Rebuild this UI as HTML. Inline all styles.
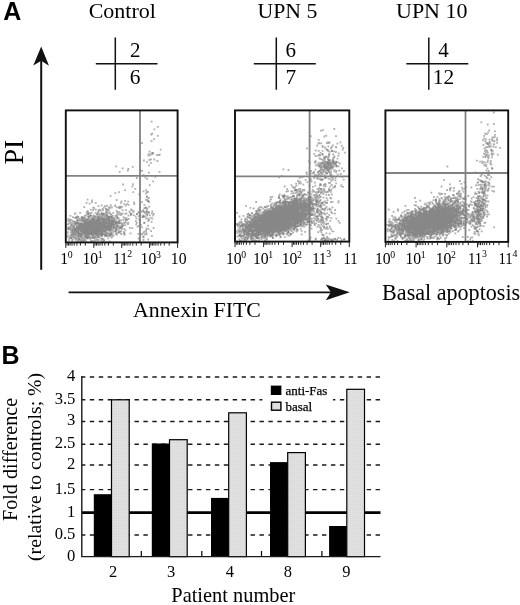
<!DOCTYPE html>
<html lang="en"><head><meta charset="utf-8"><title>Figure</title>
<style>
html,body{margin:0;padding:0;background:#fff;}
body{width:520px;height:605px;overflow:hidden;}
svg{display:block;filter:grayscale(1);}
text{font-family:"Liberation Serif","DejaVu Serif",serif;fill:#000;}
.sans{font-family:"Liberation Sans","DejaVu Sans",sans-serif;font-weight:bold;}
</style></head><body>
<svg width="520" height="605" viewBox="0 0 520 605">
<rect width="520" height="605" fill="#fff"/>
<text class="sans" x="3.3" y="19.8" font-size="25">A</text>
<text x="88.7" y="18.1" font-size="22">Control</text>
<text x="257.5" y="18.3" font-size="21.8">UPN 5</text>
<text x="396" y="18.3" font-size="22">UPN 10</text>
<path d="M115.3 37.5V89.8M95.8 63.8H157.5" stroke="#111" stroke-width="1.5" fill="none"/>
<text x="135.2" y="57.2" font-size="21" text-anchor="middle">2</text>
<text x="135.2" y="84.2" font-size="21.4" text-anchor="middle">6</text>
<path d="M276.3 37.5V89.8M253.8 63.8H315.8" stroke="#111" stroke-width="1.5" fill="none"/>
<text x="290.8" y="57.2" font-size="21" text-anchor="middle">6</text>
<text x="290.8" y="84.2" font-size="21.4" text-anchor="middle">7</text>
<path d="M428.8 37.5V89.8M406.3 63.8H468.3" stroke="#111" stroke-width="1.5" fill="none"/>
<text x="443.5" y="57.2" font-size="21" text-anchor="middle">4</text>
<text x="443.5" y="84.2" font-size="21.4" text-anchor="middle">12</text>
<text transform="translate(22.7 164.6) rotate(-90)" font-size="28">PI</text>
<path d="M41.2 269.8V58" stroke="#111" stroke-width="2" fill="none"/>
<path d="M41.2 46.4L49 65.7L41.2 60.7L33.3 65.5Z" fill="#111"/>
<path d="M68.6 292.3H335" stroke="#111" stroke-width="1.8" fill="none"/>
<path d="M349.8 292.3L325.8 284.5L330.9 292.3L325.8 300.2Z" fill="#111"/>
<text x="133" y="317.2" font-size="21.8">Annexin FITC</text>
<text x="382.1" y="300.4" font-size="22.1">Basal apoptosis</text>
<defs><filter id="bl" x="-5%" y="-5%" width="110%" height="110%"><feGaussianBlur stdDeviation="0.65"/></filter></defs>
<g filter="url(#bl)">
<path d="M108.3 227.4h1.8M107.1 226.5h1.8M69 236.3h1.8M78.8 226.5h1.8M96.8 229h1.8M84.2 239.3h1.8M82.4 224.2h1.8M87 227.4h1.8M101.3 227.4h1.8M84.7 222.5h1.8M89.7 222.5h1.8M99.1 225.8h1.8M102.5 231.6h1.8M113 226.3h1.8M92.4 219.1h1.8M100.2 222.2h1.8M77.6 226.2h1.8M108.5 211.9h1.8M71.4 232.1h1.8M96.4 222h1.8M95.9 229.4h1.8M115.4 227.5h1.8M70.8 238.7h1.8M90.4 234h1.8M97.3 230.5h1.8M94.8 234h1.8M82.1 226.3h1.8M80.3 235.1h1.8M112.6 221.3h1.8M72.1 229.6h1.8M108.8 216.7h1.8M81.3 233h1.8M109 230h1.8M97.1 227.4h1.8M94.7 230.5h1.8M100.2 226h1.8M103.5 229h1.8M121.1 224.7h1.8M115.8 207.4h1.8M76.1 231.3h1.8M84 227.9h1.8M105.3 217.9h1.8M87.7 231.9h1.8M105 208.4h1.8M100.3 216.6h1.8M95.7 234.2h1.8M90 228.8h1.8M130.2 214h1.8M104.8 223.6h1.8M94.6 231.3h1.8M95.8 230.7h1.8M68.7 221.5h1.8M110.9 229h1.8M112.2 218.2h1.8M90.9 220.3h1.8M80.8 238.9h1.8M106 224h1.8M112.5 217.7h1.8M109.7 233.8h1.8M112.6 222.9h1.8M82.3 235.2h1.8M112.1 222.5h1.8M92.7 232.4h1.8M114.9 233.8h1.8M83.2 234.2h1.8M100.6 232.2h1.8M87.9 220h1.8M85.1 235.1h1.8M67.8 227.4h1.8M93.2 219.7h1.8M69 226.9h1.8M104.7 221.7h1.8M78.3 224.6h1.8M80.9 216.9h1.8M103.9 230.1h1.8M101.9 227.8h1.8M111.7 228.3h1.8M87.3 225.1h1.8M101.1 241.1h1.8M78.9 228.8h1.8M97 231.7h1.8M104.9 225.9h1.8M131.3 228.2h1.8M116.5 226.1h1.8M91.5 230.7h1.8M71.3 226.4h1.8M96.3 227.8h1.8M85.3 222.2h1.8M123.4 228.8h1.8M91.7 230.6h1.8M98.9 228.6h1.8M101.3 227.1h1.8M88.1 232.9h1.8M83 228.7h1.8M92.2 228.4h1.8M88.9 219.9h1.8M98 225.2h1.8M97.5 220.4h1.8M79.4 233.9h1.8M78.6 239.3h1.8M85.2 219.8h1.8M81.6 232.2h1.8M105.6 218.3h1.8M90.6 232.1h1.8M109.5 223.2h1.8M87.9 233.4h1.8M98.2 233.4h1.8M103.2 225.7h1.8M76.3 225.8h1.8M90.7 218.3h1.8M83.8 216h1.8M100.1 225.7h1.8M87.3 219.2h1.8M106.8 219.4h1.8M104.1 231.3h1.8M92.7 228.8h1.8M114.6 231h1.8M72.7 227.2h1.8M75.8 223.1h1.8M97.5 216.5h1.8M88.8 225.8h1.8M90.4 222.8h1.8M86.9 211h1.8M78 229.8h1.8M88.1 225.9h1.8M99.2 230h1.8M89.9 227.2h1.8M102.8 227.4h1.8M80.3 220.6h1.8M85.1 229.1h1.8M99.1 223.6h1.8M81.5 230.5h1.8M102.9 240.2h1.8M97.9 234.4h1.8M99.2 225.2h1.8M88.8 227.9h1.8M80.7 230.7h1.8M82.6 239.8h1.8M111.6 219.8h1.8M82.8 233.3h1.8M111.1 224.2h1.8M83.1 233.8h1.8M91.6 229.3h1.8M68.9 220.8h1.8M90.8 225.5h1.8M89.2 220.9h1.8M98.5 224.8h1.8M79.2 230.3h1.8M86.6 238h1.8M84.6 224.1h1.8M78.2 227.3h1.8M96.7 229.8h1.8M81.9 229h1.8M130.2 209.5h1.8M93.5 231.9h1.8M91 221h1.8M103 227.5h1.8M99.2 225.5h1.8M98 223h1.8M91.3 232.1h1.8M118.1 219.7h1.8M114.4 225.7h1.8M104.2 221h1.8M68 240.2h1.8M98.8 228.5h1.8M112.8 220.4h1.8M116.7 226.1h1.8M83.9 224.4h1.8M96.4 228.2h1.8M84.7 231.3h1.8M103.4 220.7h1.8M93.8 231.7h1.8M91.1 228.7h1.8M82.7 231.1h1.8M87.5 224.2h1.8M104 224.4h1.8M97.9 236.8h1.8M82.8 228.9h1.8M101.5 230.8h1.8M95.2 228.4h1.8M91.7 225.8h1.8M84 223.3h1.8M83.6 232.6h1.8M90.4 233.3h1.8M98.9 225.3h1.8M101.4 224.9h1.8M107.8 227h1.8M89.4 214.3h1.8M110.8 222h1.8M91.8 237.3h1.8M108.9 220.2h1.8M94.7 234h1.8M125.6 217.8h1.8M84.2 231.7h1.8M101.4 216.1h1.8M81.5 225.5h1.8M92.8 224.7h1.8M101.3 235.8h1.8M92.4 229.5h1.8M91.8 229.9h1.8M106.5 229.2h1.8M87.1 221.5h1.8M94.5 233.4h1.8M75.4 223.5h1.8M89.8 215.5h1.8M87.8 225.2h1.8M97.8 222h1.8M79 226.9h1.8M90.6 223.3h1.8M110.6 235.1h1.8M80.4 226.5h1.8M81.6 228.7h1.8M98.2 217.8h1.8M98.6 226.1h1.8M107.3 213.2h1.8M103.8 226.8h1.8M99.2 228.9h1.8M101.6 220.7h1.8M104.8 225.7h1.8M87.5 224.4h1.8M95.9 219.1h1.8M78.4 234.3h1.8M87.7 225.9h1.8M104.7 233.6h1.8M86.1 235.7h1.8M90 223.4h1.8M122.9 222.9h1.8M69.3 236.3h1.8M68.5 238.3h1.8M109.7 229.2h1.8M81.2 234.4h1.8M105.6 229.7h1.8M94.9 229.9h1.8M127.6 215.7h1.8M87.3 228.3h1.8M104.3 222.6h1.8M93.6 222.7h1.8M70.2 237.6h1.8M77.9 228.8h1.8M100.2 229.3h1.8M85.2 215.2h1.8M110.1 226.5h1.8M91.9 225.6h1.8M76.6 225.1h1.8M77.8 231.8h1.8M111.9 225.4h1.8M81.6 229.3h1.8M92.4 216.3h1.8M83.5 229.7h1.8M103.3 230.3h1.8M87.9 227.8h1.8M87.8 226h1.8M87.8 217.1h1.8M99.2 225.1h1.8M119.2 206.6h1.8M87.3 216.6h1.8M108.6 241.3h1.8M95.6 231.5h1.8M101 226.8h1.8M77.1 217.6h1.8M106 230.2h1.8M82.4 224.3h1.8M103.8 219.7h1.8M129.6 233.4h1.8M94.6 222.2h1.8M110.7 223.8h1.8M83.9 230h1.8M91.7 227.7h1.8M100.1 226.8h1.8M79.9 224.8h1.8M103.1 229.2h1.8M83.5 226.4h1.8M79.4 227.1h1.8M81.7 223.5h1.8M94.4 240.5h1.8M83.6 231.2h1.8M115.8 227.4h1.8M110.2 225h1.8M99.2 224.9h1.8M71.4 230.2h1.8M88.4 232.8h1.8M119.7 223.4h1.8M90.4 220.5h1.8M93.5 230h1.8M92.7 228.9h1.8M81.2 238h1.8M88.6 223h1.8M77.2 227.4h1.8M95 219.4h1.8M101.6 224.8h1.8M92 231.9h1.8M88.3 212.8h1.8M90.8 221.9h1.8M81.1 217.3h1.8M71.4 234.4h1.8M98 234.9h1.8M120.8 229.2h1.8M96.2 227h1.8M83.6 220.3h1.8M102.9 213.6h1.8M119.2 228.1h1.8M120.4 215.1h1.8M95.1 227.9h1.8M72.9 221.6h1.8M83.4 224.9h1.8M86.6 234.1h1.8M84.1 232.6h1.8M102.7 218.6h1.8M69.9 235h1.8M80.5 237.2h1.8M82.1 227.8h1.8M95.2 223.3h1.8M92.4 210h1.8M108.7 224.9h1.8M78 239.2h1.8M95.8 231.4h1.8M105.1 220.9h1.8M71.8 239.5h1.8M68.1 229h1.8M91 218.4h1.8M85.3 232.9h1.8M109 234.6h1.8M82.2 217.3h1.8M97.2 229.5h1.8M83.5 228.1h1.8M114.6 222.1h1.8M103.9 229.1h1.8M117.2 222.2h1.8M72.6 237h1.8M105.3 231.8h1.8M73.5 236.1h1.8M104.2 221.7h1.8M70 226.1h1.8M84.9 215.7h1.8M93.9 217.4h1.8M103.8 217.9h1.8M85.5 236.5h1.8M104.8 229.1h1.8M84 225.1h1.8M78.5 232.6h1.8M98.8 235.5h1.8M74.1 236.8h1.8M106.9 225.5h1.8M73.3 234.9h1.8M85.9 232.2h1.8M97.3 236.6h1.8M84.7 231.2h1.8M110.3 232.3h1.8M80.8 236.2h1.8M101.4 215.3h1.8M84.8 227.5h1.8M97.9 221.3h1.8M84.1 230.4h1.8M114.9 223.8h1.8M90.6 232.1h1.8M87.8 234.8h1.8M116.5 218.1h1.8M111.9 218h1.8M90.2 226.8h1.8M96.2 237.4h1.8M111.9 217.8h1.8M108.7 236.2h1.8M75.3 218.3h1.8M96.7 214.9h1.8M100.6 235.1h1.8M68.6 229h1.8M93.3 230.5h1.8M87 228.2h1.8M84.3 229.2h1.8M75.3 230.3h1.8M119.5 223.4h1.8M76.5 219.4h1.8M82.2 233.5h1.8M97.4 225.8h1.8M77.7 222.8h1.8M76.3 216.5h1.8M94.9 225.9h1.8M82 234.2h1.8M96.7 233.1h1.8M96.8 221.9h1.8M98 220.7h1.8M80.6 229h1.8M86.7 232.9h1.8M87.4 236h1.8M114.6 226.2h1.8M104.7 220.1h1.8M103.8 227.1h1.8M101.3 226h1.8M108.6 220.6h1.8M76.8 220.4h1.8M76.1 223.9h1.8M83.2 222.7h1.8M93.9 228.6h1.8M83.6 223.6h1.8M101.6 215.9h1.8M88.1 234.1h1.8M109.9 227.2h1.8M99.1 226.9h1.8M106.2 225.6h1.8M108 223.9h1.8M86.6 229.7h1.8M85.4 224.9h1.8M89.2 223.1h1.8M90.4 223.5h1.8M83.7 216.6h1.8M90.8 224.9h1.8M75.3 222.8h1.8M112.8 224.8h1.8M84.8 237.9h1.8M74.2 237.4h1.8M80.8 226.9h1.8M128.9 227.8h1.8M82.5 217.5h1.8M83.5 236.1h1.8M77.5 236.3h1.8M103.2 225.6h1.8M106 215.9h1.8M88.9 230h1.8M67.3 227.5h1.8M95.1 220.1h1.8M115 229.6h1.8M92.7 222.7h1.8M102.8 234.4h1.8M78.5 233.8h1.8M105.8 225h1.8M93.4 223.5h1.8M80.7 225.8h1.8M89.1 227.6h1.8M92.2 229h1.8M79.7 225.6h1.8M84.2 229.7h1.8M92.4 233.1h1.8M94.1 225.3h1.8M70.9 224.9h1.8M92.2 230.5h1.8M83.4 229.1h1.8M93.1 230.6h1.8M90.9 226.6h1.8M89.4 223.7h1.8M124.5 225.4h1.8M100.4 240.4h1.8M102.8 230.9h1.8M120.3 231.1h1.8M101.9 218.3h1.8M86.1 225.7h1.8M93.2 229.2h1.8M86.7 220.4h1.8M111.3 234.3h1.8M91.5 233.8h1.8M98.2 221.5h1.8M101.2 232.2h1.8M86.6 224.4h1.8M80.5 229.9h1.8M92.2 231.5h1.8M102.1 228.7h1.8M95.7 225.4h1.8M89.4 222.5h1.8M94.5 226.7h1.8M95.8 221.3h1.8M92.6 227.5h1.8M99.6 219.4h1.8M100.2 223.7h1.8M84.7 227h1.8M89.1 223.7h1.8M97.6 227.7h1.8M78.3 224.8h1.8M91.2 231.6h1.8M98 218.7h1.8M89.4 221.3h1.8M104.3 236.3h1.8M79.7 235.4h1.8M109.4 224.8h1.8M76.1 232.3h1.8M109.5 231.4h1.8M101.9 214.2h1.8M75.5 237h1.8M107.7 222.7h1.8M89.1 227.5h1.8M93.7 238.6h1.8M111.4 225.2h1.8M76 226.3h1.8M89.6 224.9h1.8M99.2 227.1h1.8M91.1 230.6h1.8M85.8 230.2h1.8M67.1 224.4h1.8M105.5 212h1.8M100.6 212.9h1.8M123.7 218.5h1.8M82.2 224.4h1.8M86.6 227.7h1.8M100.9 213.7h1.8M86.3 223.7h1.8M76.7 228.9h1.8M103 224h1.8M106.9 230.7h1.8M97.8 228.7h1.8M89 233.9h1.8M90.2 232.1h1.8M108 228.9h1.8M100.3 235.4h1.8M96.2 234h1.8M98.3 222.8h1.8M76 227.3h1.8M101.9 220.8h1.8M105.5 227.5h1.8M100.1 230.7h1.8M98.2 224.7h1.8M92.9 226.7h1.8M92.6 218.9h1.8M96.2 214.2h1.8M80.5 225.3h1.8M78.7 234.5h1.8M96.6 214.7h1.8M104.5 231.8h1.8M86.4 226.9h1.8M102.7 222.9h1.8M105.6 215.2h1.8M101.2 224.8h1.8M112.8 218.8h1.8M81 235.6h1.8M83.1 221.8h1.8M103.8 229h1.8M77.8 234.3h1.8M105.1 225.1h1.8M98.7 231.1h1.8M118.3 221.5h1.8M108.4 218.8h1.8M99.2 230.5h1.8M75 229.5h1.8M96 230.4h1.8M89 226.4h1.8M104.2 225.5h1.8M101.3 218.8h1.8M78.4 226.5h1.8M91.9 224.3h1.8M94.2 227.3h1.8M88.2 222.2h1.8M98.1 230.7h1.8M78.9 231.3h1.8M121.1 227.1h1.8M93.6 233.3h1.8M66.9 232.4h1.8M86.7 231.3h1.8M78 228.2h1.8M87.9 229.3h1.8M84.5 223.6h1.8M101.9 228.5h1.8M67.1 235.4h1.8M79.4 237.3h1.8M85.3 231.8h1.8M83.9 225.9h1.8M74 229.5h1.8M90.5 238.2h1.8M87.6 229.7h1.8M106.1 236.1h1.8M107 230h1.8M82 234.5h1.8M90.8 229.7h1.8M88.8 232h1.8M109.1 231.7h1.8M90 233.9h1.8M111.9 218.3h1.8M100.3 229.7h1.8M113.5 225.6h1.8M84.3 223.5h1.8M87.9 223.4h1.8M85.3 225.5h1.8M96 227.1h1.8M104.2 226.7h1.8M85.7 225.3h1.8M100.9 219h1.8M89 223.1h1.8M72.6 234.2h1.8M91.7 227.6h1.8M103.1 216.2h1.8M91.3 229.2h1.8M91.6 224.7h1.8M86.2 222.3h1.8M91.2 230.1h1.8M111.3 220.2h1.8M113.4 227.2h1.8M77.1 232.9h1.8M98.5 224.8h1.8M92 235.2h1.8M104.9 227.4h1.8M93.5 231.7h1.8M76.4 229.1h1.8M103.9 223.1h1.8M84.8 240.9h1.8M104.6 231.6h1.8M80.3 239.1h1.8M68.4 227.9h1.8M103.6 233.6h1.8M92.9 215.4h1.8M100.7 235.2h1.8M85.5 229.3h1.8M85.7 234.6h1.8M94 227.4h1.8M115.8 223h1.8M112.4 229.1h1.8M110.1 223.4h1.8M83.7 230.2h1.8M90.2 227.4h1.8M97.7 221.9h1.8M101.3 234.1h1.8M108.7 212.8h1.8M102 216.7h1.8M88.3 231.4h1.8M97 221.6h1.8M80.6 234.9h1.8M74.9 238.7h1.8M73 226.7h1.8M119.2 214.5h1.8M99.3 230.6h1.8M95.6 227.7h1.8M91.7 226.9h1.8M105.6 214.8h1.8M94.5 220.5h1.8M77 219.5h1.8M88.6 234.4h1.8M79.4 227h1.8M85.9 234.5h1.8M122.4 220h1.8M115.7 210.8h1.8M93.6 225h1.8M87.8 235.8h1.8M107.4 222.8h1.8M84.1 224.3h1.8M101.2 226.5h1.8M84.3 222.4h1.8M110.8 229h1.8M99.2 228.8h1.8M105.1 220.2h1.8M92.3 230.1h1.8M81.2 228.1h1.8M96 234.8h1.8M105.8 230h1.8M87.5 229.3h1.8M114.7 230.8h1.8M92.7 223.8h1.8M92.5 225.1h1.8M87 221.7h1.8M106.4 219.4h1.8M103.9 219.6h1.8M116.2 217.2h1.8M105.1 234.3h1.8M80.2 238.1h1.8M102.6 229.9h1.8M66.9 227.9h1.8M118.2 232.5h1.8M94.4 227.8h1.8M100.3 233.3h1.8M88 237.2h1.8M86.5 230.6h1.8M94.2 226.6h1.8M88 230.9h1.8M93 225.5h1.8M104.5 235.9h1.8M85 222.7h1.8M83.8 229.2h1.8M104.8 219.1h1.8M103.8 228h1.8M100.4 239h1.8M73.9 231.8h1.8M99.9 227h1.8M91.8 235.4h1.8M95.8 226.6h1.8M68.6 227h1.8M108 217h1.8M85 232.3h1.8M98.3 214.1h1.8M85.5 238.4h1.8M89.7 220.2h1.8M77.8 227.5h1.8M104.4 227.4h1.8M78.5 230.1h1.8M93.1 231.7h1.8M87.9 230.7h1.8M77.4 231.6h1.8M88.1 220.1h1.8M108.1 220.8h1.8M66.9 236.8h1.8M92.1 228.6h1.8M88.5 223.6h1.8M84.6 230.9h1.8M85.8 212.2h1.8M87.1 226.6h1.8M99.8 233.3h1.8M82.5 223.6h1.8M82.6 226h1.8M73.6 223.6h1.8M71.8 227.4h1.8M90.6 222.7h1.8M84.6 218.1h1.8M93.4 227.7h1.8M93.1 221.2h1.8M108.1 227.5h1.8M97.8 229.5h1.8M108.6 223.9h1.8M82.7 224.4h1.8M80 241.3h1.8M111.5 227.8h1.8M110.5 221.4h1.8M94.5 231.6h1.8M99.1 222.5h1.8M90.2 233.1h1.8M104.7 233.4h1.8M78.5 225.5h1.8M97.5 223.4h1.8M120.1 207.5h1.8M123.3 233.3h1.8M123.6 223.1h1.8M106.9 233.3h1.8M76.7 241.6h1.8M83.8 215.9h1.8M96.2 237.7h1.8M90.3 226h1.8M104.8 230.3h1.8M107.3 233.1h1.8M82.7 234.6h1.8M102.6 241.7h1.8M91.9 229.7h1.8M108.8 226.7h1.8M77.4 234h1.8M90.7 228.2h1.8M82.8 220.3h1.8M74.3 227.9h1.8M106.9 217.8h1.8M82.4 232.1h1.8M81.9 232.9h1.8M85.6 230.2h1.8M84.9 231.7h1.8M94.7 229.8h1.8M95.7 225.6h1.8M80.1 222.9h1.8M115.7 223.6h1.8M101.4 219.8h1.8M85.7 223.3h1.8M78.8 223.7h1.8M96.6 235.1h1.8M75.7 228.9h1.8M107.2 221.5h1.8M95.4 222.5h1.8M72.5 232.6h1.8M103.3 229.1h1.8M96.6 219.4h1.8M66.8 232.8h1.8M91.9 223.7h1.8M83.7 232.8h1.8M90.1 228.4h1.8M89 222.9h1.8M72 221.1h1.8M97.5 232.7h1.8M95.9 218.3h1.8M89.2 229.1h1.8M79.5 231.4h1.8M88.4 222.8h1.8M96.1 221.2h1.8M75.3 228.8h1.8M110.7 218.2h1.8M76.7 231.3h1.8M79.3 220.3h1.8M88.8 228.9h1.8M91.1 219.3h1.8M86.9 221.1h1.8M118.4 223h1.8M84.3 235.1h1.8M91 232.3h1.8M102.6 219.4h1.8M103.8 227.1h1.8M98.3 222.5h1.8M93.7 229h1.8M78.3 228.1h1.8M104.1 227.1h1.8M77.4 228.3h1.8M89.9 238.7h1.8M97 218.6h1.8M106.6 227.4h1.8M95.3 224.9h1.8M96.2 219.6h1.8M95.8 223.7h1.8M100.2 223.9h1.8M97.4 228.1h1.8M97.2 211.4h1.8M74.7 234.7h1.8M88.2 224.5h1.8M113.2 227.3h1.8M80.7 226.4h1.8M102.3 222.7h1.8M96 223.6h1.8M96.2 234.4h1.8M105.9 229h1.8M95 224h1.8M90.9 220.1h1.8M97.5 225.2h1.8M76.7 225.2h1.8M99 228h1.8M90 240.8h1.8M97.2 222.8h1.8M89.2 226.1h1.8M85.1 234.3h1.8M94 237.3h1.8M104.4 235.3h1.8M90.7 229.8h1.8M67.5 227.7h1.8M109 226.2h1.8M109.7 229.7h1.8M105.6 231.2h1.8M110.5 237.5h1.8M80.1 239.7h1.8M96.8 224.4h1.8M74.3 230.3h1.8M104.6 230h1.8M102.2 232.4h1.8M78.3 229.2h1.8M97.6 232.4h1.8M66.8 232.1h1.8M71.6 226.4h1.8M106.2 226.3h1.8M80.1 228.6h1.8M82.5 226.6h1.8M90.4 225.4h1.8M96.1 226.5h1.8M105.4 222.8h1.8M87.1 229.6h1.8M88 230.8h1.8M95.9 230.9h1.8M115.2 233.3h1.8M110.2 227.5h1.8M115.7 200h1.8M122.9 224.8h1.8M127.8 218.8h1.8M120.4 226.5h1.8M117.5 218.1h1.8M109.7 195.9h1.8M111 207.5h1.8M81.6 219.6h1.8M92.3 207.6h1.8M115.3 226.7h1.8M132.7 215.2h1.8M95.8 232.1h1.8M116.3 212.1h1.8M94.8 202.9h1.8M105.8 224.8h1.8M133.4 204h1.8M114.2 206.1h1.8M121.9 213.6h1.8M88.8 231.8h1.8M109.7 214.1h1.8M124.2 190.2h1.8M87.3 214.4h1.8M123.3 203.8h1.8M120.1 220.4h1.8M125.1 219.3h1.8M101.5 222.8h1.8M90.7 220.5h1.8M122.7 217.2h1.8M86.7 199.7h1.8M133.1 202.3h1.8M89.5 213.6h1.8M106.8 210.1h1.8M136.2 213.8h1.8M120.6 201.5h1.8M93.2 208h1.8M103.3 221.6h1.8M96.9 219.8h1.8M116.6 226h1.8M85.6 202.9h1.8M88.4 227.1h1.8M120 202.8h1.8M115.5 216.7h1.8M108.4 211.5h1.8M142.5 211.5h1.8M114.3 205.4h1.8M118.1 214.3h1.8M104 206.1h1.8M117.8 207.5h1.8M99.9 210.5h1.8M120 213.4h1.8M95.3 230h1.8M91.9 223.3h1.8M91.1 202.2h1.8M110.5 216.6h1.8M91.3 200.3h1.8M124.8 205.5h1.8M110.5 228.3h1.8M89.9 209.6h1.8M118.5 206.8h1.8M96.7 228h1.8M102.9 207.6h1.8M145.1 230.2h1.8M147.1 191.9h1.8M146.4 208.5h1.8M142.6 191.3h1.8M151 235.9h1.8M137.6 233.8h1.8M145.1 230.5h1.8M143.3 223.1h1.8M145.8 228.5h1.8M146 209.4h1.8M148.1 212.5h1.8M136.6 226.6h1.8M141.2 227.3h1.8M141.1 202.2h1.8M145.7 234.2h1.8M151 213.4h1.8M142.5 215.7h1.8M138.2 219.4h1.8M145.1 190.2h1.8M147.4 221h1.8M141.6 217h1.8M141 211.5h1.8M139.3 219.5h1.8M145.9 197.3h1.8M144.9 207.6h1.8M137.7 226h1.8M152.7 228h1.8M152.2 215.7h1.8M142.8 237.4h1.8M143.5 204.9h1.8M146.9 201h1.8M146.3 215.6h1.8M145.4 232.5h1.8M131.2 210.3h1.8M150.2 231.1h1.8M148.3 219.8h1.8M144.3 216.3h1.8M143.4 216.7h1.8M137.8 216.1h1.8M144.7 207.9h1.8M145.8 211.3h1.8M138.4 213h1.8M146.3 178.8h1.8M150.5 134.5h1.8M156.9 126.8h1.8M150.7 141.1h1.8M152.2 181.3h1.8M144.5 177.3h1.8M158.9 154.6h1.8M151.5 154h1.8M153.4 159.5h1.8M150.5 153.4h1.8M150.1 162.8h1.8M153.1 139.1h1.8M159.8 149.7h1.8M143 160.5h1.8M142.6 175.2h1.8M151.5 152.8h1.8M146 161.8h1.8M149.5 155.2h1.8M150 159.3h1.8M154.4 176.9h1.8M147.5 155.5h1.8M148 165.3h1.8M147.8 154.2h1.8M126.9 170.7h1.8M112.4 212.9h1.8M132.1 184.1h1.8M122.2 184.5h1.8M121.7 168.4h1.8M120.1 214.2h1.8M146.6 199.9h1.8M131.5 186.4h1.8M118.8 171.9h1.8M127.4 169h1.8" stroke="#606060" stroke-opacity="0.5" stroke-width="1.8" fill="none"/>
<path d="M88.8 231h1.8M88.5 225.9h1.8M78.5 228.1h1.8M97.8 227.5h1.8M99.7 229.2h1.8M96.3 226.3h1.8M98.8 222.2h1.8M101.1 233.4h1.8M85.7 236h1.8M80.7 230.6h1.8M96.7 217.2h1.8M94 235.2h1.8M71.8 235.7h1.8M84.3 220.6h1.8M113.2 227.6h1.8M76.9 235.8h1.8M107.9 225.8h1.8M100 229.5h1.8M106.2 228.4h1.8M102.3 214.3h1.8M74.8 240.1h1.8M99.8 225.1h1.8M106.9 225.1h1.8M89.6 225.8h1.8M111.1 217.8h1.8M89.7 229.4h1.8M85.5 226h1.8M92.7 233h1.8M87.6 230.4h1.8M97.9 227.9h1.8M86.5 232.3h1.8M95.5 223.5h1.8M127.1 224h1.8M88.7 227.4h1.8M92 233.3h1.8M105.7 234.5h1.8M67.3 229h1.8M106.2 216h1.8M103.6 226.4h1.8M92.2 236.9h1.8M106.7 223.1h1.8M99.9 220h1.8M75.9 220.6h1.8M104.5 235.3h1.8M90 223.8h1.8M98.1 228.9h1.8M93.8 227.8h1.8M95.9 222.8h1.8M94.4 235.2h1.8M92.1 233.8h1.8M74.3 230h1.8M89.2 227.6h1.8M83.8 230.1h1.8M117.7 223.5h1.8M107.2 229.9h1.8M92.9 232.2h1.8M69.9 230.1h1.8M75.5 232.2h1.8M102.1 224h1.8M95.7 223.8h1.8M96.4 213.5h1.8M106.1 233.3h1.8M118.1 212.1h1.8M79.4 233.6h1.8M118.9 222.3h1.8M100.9 231.6h1.8M91.3 226.2h1.8M77.1 227.4h1.8M79 224.1h1.8M98.6 210h1.8M101.4 228.8h1.8M96 222.3h1.8M112.7 235.4h1.8M73.6 221.8h1.8M117.4 229.5h1.8M118.9 228.1h1.8M79.8 230.9h1.8M81.5 228.2h1.8M91.9 222.1h1.8M90.6 228.5h1.8M99.1 232.8h1.8M73.9 213.7h1.8M99.3 227.3h1.8M113.9 228.3h1.8M92.3 231h1.8M116.6 229.5h1.8M88.8 234.5h1.8M101.4 231.5h1.8M106 225.1h1.8M75.5 231.1h1.8M104.7 228.7h1.8M95 227.2h1.8M89.2 232.1h1.8M82.8 232.3h1.8M118.7 226.3h1.8M87.6 216.6h1.8M99.3 215.1h1.8M81.6 220.1h1.8M101.8 230.2h1.8M90.8 227.5h1.8M74.3 230h1.8M102.4 227.9h1.8M90.1 223.4h1.8M70.7 231.9h1.8M92.8 218.5h1.8M90.7 222.2h1.8M85.9 223.6h1.8M76 229.1h1.8M125 220.1h1.8M107.9 225.5h1.8M105.7 210.2h1.8M103.9 231.4h1.8M98.2 219.5h1.8M107.9 218.4h1.8M97.6 239.7h1.8M108.7 224.8h1.8M101 230.3h1.8M115.9 223.6h1.8M95.4 224.1h1.8M101.2 222.8h1.8M114.9 230.8h1.8M92.8 232.1h1.8M82.7 228.5h1.8M110.4 216.8h1.8M108.4 221.8h1.8M91 218.4h1.8M91.3 229.4h1.8M102.9 224.9h1.8M102.2 238.9h1.8M84.7 229.5h1.8M94.6 229.4h1.8M88.9 230.1h1.8M77.6 233.5h1.8M83.3 232.7h1.8M71.8 230.3h1.8M80 233.2h1.8M94 226h1.8M91.8 227.3h1.8M103.2 214.5h1.8M102.5 224.8h1.8M70.3 229.4h1.8M76 221.3h1.8M74.8 232.1h1.8M97.7 240.4h1.8M100.1 229.5h1.8M76.3 222.4h1.8M73.1 229h1.8M90.2 227h1.8M88 234.6h1.8M111.6 221.9h1.8M113.3 221.5h1.8M70.6 230.8h1.8M73.9 217.8h1.8M92.8 228.8h1.8M85 234h1.8M97.3 216.6h1.8M82.3 228.7h1.8M95.8 222.6h1.8M95.5 233.2h1.8M72.2 217.2h1.8M105.7 227.5h1.8M114.6 215.9h1.8M83.3 207.1h1.8M103.3 223.2h1.8M107.3 238.4h1.8M92.6 227.6h1.8M76.9 238.8h1.8M97.7 220.4h1.8M71.2 240.7h1.8M97.6 232h1.8M94.7 225.9h1.8M70.8 236.8h1.8M92.2 225.5h1.8M97.1 227h1.8M101.3 223.5h1.8M86.6 232.4h1.8M88 232.5h1.8M116.1 223.7h1.8M94.9 226.4h1.8M77.4 232.7h1.8M99.9 224.3h1.8M98.1 216.6h1.8M87.1 233.5h1.8M110 226.1h1.8M121.7 210.1h1.8M92.9 231.9h1.8M110.5 223h1.8M104.1 222.8h1.8M92.1 238.1h1.8M98.2 225.3h1.8M74.8 225.1h1.8M95.7 232.6h1.8M98.6 229.5h1.8M92.7 235.7h1.8M85.9 224.8h1.8M88.9 231.7h1.8M98.3 227.4h1.8M82.6 231.5h1.8M83.5 233.7h1.8M121.3 206.7h1.8M86.3 231.4h1.8M83.9 229.5h1.8M110.2 225.2h1.8M70.4 220.1h1.8M99.7 230.1h1.8M102.2 210.3h1.8M107.7 219.9h1.8M95.3 223.5h1.8M95.8 223.2h1.8M95.8 232.9h1.8M95.4 224.1h1.8M82.9 224.9h1.8M76 233.8h1.8M73.9 234.3h1.8M85.4 228.9h1.8M105.5 228.8h1.8M87.2 227.9h1.8M78 229.4h1.8M99.1 224.3h1.8M97.7 212.3h1.8M104.6 227.6h1.8M91.8 223.7h1.8M100.7 222.9h1.8M94.7 223.7h1.8M79.4 229.1h1.8M111.7 236.7h1.8M105.8 234.7h1.8M81.5 224.4h1.8M77.7 237.8h1.8M91.5 225.4h1.8M96 222.3h1.8M73.1 225.5h1.8M99.5 229.4h1.8M90.1 226.5h1.8M105.4 225.3h1.8M96.3 234.8h1.8M79.7 224.3h1.8M116 234.5h1.8M92.9 230.7h1.8M109.6 229.6h1.8M108 216.8h1.8M83.3 231.5h1.8M112.7 224.7h1.8M112.9 220.1h1.8M109.3 226.7h1.8M99.4 234.3h1.8M94.9 223.3h1.8M121.3 226.6h1.8M95.2 217.1h1.8M90.1 220.7h1.8M80.9 217.6h1.8M91.4 236.3h1.8M93.7 226.3h1.8M100.7 222.1h1.8M96.2 240.3h1.8M75.9 222.8h1.8M69.5 215.8h1.8M80.5 226.8h1.8M94.2 228.1h1.8M119.2 232h1.8M88 230.8h1.8M82.9 219.1h1.8M110 227.8h1.8M76.1 238.6h1.8M100 228.7h1.8M105.6 215.8h1.8M97.5 228.1h1.8M91.8 223.1h1.8M103 226.2h1.8M88.9 237.5h1.8M108.3 223.1h1.8M106.7 226.2h1.8M95.7 224.6h1.8M101.6 225.8h1.8M99.7 232.8h1.8M90.6 231.8h1.8M85.7 221.3h1.8M108.6 230.4h1.8M114.9 229.1h1.8M82.2 218.4h1.8M82 224.6h1.8M80.9 232.7h1.8M96.4 224.9h1.8M94.3 226h1.8M94.7 233.8h1.8M78.3 220.7h1.8M100.4 231.9h1.8M93.5 218.9h1.8M104 230.4h1.8M99.5 223.1h1.8M97.1 231.5h1.8M93.1 232.7h1.8M88.2 231.5h1.8M122.9 232h1.8M89.4 221h1.8M100.1 234.5h1.8M100 228.7h1.8M89.3 228.8h1.8M85.1 221.5h1.8M80.4 224h1.8M83.3 230.8h1.8M81.2 223.6h1.8M95.1 217.1h1.8M80.7 224.6h1.8M75 217.1h1.8M101.8 234.1h1.8M93.6 220.9h1.8M109.7 226.4h1.8M106.7 234.2h1.8M107.7 222h1.8M107.8 229.7h1.8M69.6 228.3h1.8M71.5 229.9h1.8M99.2 219.4h1.8M123.6 234.9h1.8M89.3 229.4h1.8M90.8 233.8h1.8M107.9 222h1.8M98.7 237.3h1.8M98.1 218h1.8M74.2 231.7h1.8M80.4 230.2h1.8M98.1 222.3h1.8M84.7 231.8h1.8M74.2 234h1.8M83.9 223.6h1.8M117.8 227.3h1.8M110.6 233.5h1.8M127.3 222.8h1.8M85.3 224.4h1.8M98.7 228.3h1.8M87.8 230.9h1.8M71.5 223.7h1.8M81.2 227.3h1.8M74.2 231.7h1.8M111.6 225.7h1.8M75.5 229.4h1.8M86.7 219.5h1.8M78.6 240h1.8M67.5 229.5h1.8M76.5 233.5h1.8M76.3 220.6h1.8M74.1 221.9h1.8M107.9 220.1h1.8M84.4 220.5h1.8M87.2 224.1h1.8M92.1 224.4h1.8M94.7 213.1h1.8M81.5 227.1h1.8M86.6 234.2h1.8M69.3 219.5h1.8M97.8 218.8h1.8M105.1 221.9h1.8M93.6 228h1.8M113.8 224.1h1.8M120.7 234.1h1.8M117.6 229.9h1.8M94 227.8h1.8M116 226.9h1.8M91.4 226.5h1.8M94 224.6h1.8M108 235.5h1.8M87 228.3h1.8M80.3 235.2h1.8M72.6 233.9h1.8M109.1 233.5h1.8M79.6 236.1h1.8M81 224.3h1.8M115 219.9h1.8M118.5 221.4h1.8M81.6 225.7h1.8M95.4 222h1.8M75.8 233.8h1.8M102.2 213.7h1.8M118.6 226.2h1.8M101.1 214.2h1.8M81.4 226.8h1.8M77.4 216.9h1.8M100.8 235.9h1.8M101.2 223.9h1.8M74.2 224.2h1.8M82.6 229.7h1.8M92.9 237.6h1.8M104.3 220.3h1.8M73.3 231.5h1.8M96.1 230.5h1.8M80.9 235.2h1.8M94.8 228.4h1.8M108.8 230.1h1.8M135.3 224.4h1.8M102.2 220.3h1.8M81.5 227h1.8M93.7 220.5h1.8M114.5 220.2h1.8M105.2 210.5h1.8M95.3 230.6h1.8M96.2 227.7h1.8M96.2 225.4h1.8M120.1 233.7h1.8M92.4 235.3h1.8M67.4 219.1h1.8M84.2 223h1.8M134.7 216.4h1.8M93 228.9h1.8M116.2 215.7h1.8M95.6 217.1h1.8M99.7 227.3h1.8M90.8 212.6h1.8M85.9 223.5h1.8M102.5 229h1.8M110.6 214.6h1.8M79.8 230.9h1.8M98.2 219.9h1.8M99 230.3h1.8M81.1 241.4h1.8M123.7 233.7h1.8M121.2 227.3h1.8M124.6 222h1.8M99 232.4h1.8M103.9 235.2h1.8M73.9 223.8h1.8M93.9 229.2h1.8M90.8 225.4h1.8M96 221.4h1.8M106 214.6h1.8M89.5 227.7h1.8M105.2 221.4h1.8M99.3 222.6h1.8M86.7 230.9h1.8M83.6 237.5h1.8M119.7 227.7h1.8M74.4 229.5h1.8M101.8 224.8h1.8M95.2 229.5h1.8M98.4 226.8h1.8M88.4 223.9h1.8M106.4 217.7h1.8M75.2 230.3h1.8M104.3 231.9h1.8M91.2 223.7h1.8M81.2 233.2h1.8M100.3 219.5h1.8M93.3 221.5h1.8M93.7 232.7h1.8M101.3 214.7h1.8M108.7 227.2h1.8M93.1 233.7h1.8M77 232.7h1.8M99.8 226.5h1.8M116 221.4h1.8M110.2 221h1.8M94.7 225.8h1.8M84.3 224.7h1.8M83.6 225.3h1.8M86.3 236.7h1.8M108.2 222.7h1.8M91.2 234.4h1.8M83.9 227.8h1.8M101.4 218.5h1.8M72.6 226.5h1.8M74.8 232h1.8M79.1 224.8h1.8M88.7 232.2h1.8M78.7 235h1.8M105.4 225.6h1.8M86.7 238.5h1.8M95.2 228.8h1.8M70.9 234.4h1.8M100.4 228.8h1.8M114.3 221.2h1.8M80.3 236.7h1.8M70 222.6h1.8M98.4 219.4h1.8M88.7 217.5h1.8M91.9 220.2h1.8M95.4 217.1h1.8M78.2 226.6h1.8M77.2 231.7h1.8M89.2 222.6h1.8M83.1 232.4h1.8M76.5 229.8h1.8M97.7 231.3h1.8M96.5 226.7h1.8M76.1 226.9h1.8M74.7 229.2h1.8M85.5 222.6h1.8M107.9 223.2h1.8M73.9 233.4h1.8M85.1 228.2h1.8M108 207.5h1.8M102.8 221.4h1.8M77.7 223.3h1.8M71.5 236.4h1.8M85.7 237.3h1.8M86.8 224.5h1.8M73.8 230.3h1.8M91.3 236.4h1.8M98.4 228.8h1.8M99.4 228.4h1.8M71.2 223.2h1.8M92.8 221.7h1.8M118.4 231.1h1.8M80 226.3h1.8M74 233.4h1.8M92.3 229.1h1.8M116.7 218.2h1.8M81.8 241.3h1.8M96.1 221.8h1.8M89.3 223.4h1.8M83.2 240.6h1.8M93 231h1.8M103.5 224.5h1.8M85.3 227.2h1.8M112.4 232.3h1.8M86.2 232h1.8M97 231.3h1.8M92.6 228.9h1.8M105.7 233.3h1.8M95.4 223.9h1.8M94.3 223.5h1.8M103.5 240.4h1.8M81.7 228.8h1.8M84.9 229.4h1.8M88.3 223.2h1.8M106.6 220.1h1.8M96.7 224.2h1.8M77.2 235.7h1.8M80.4 226.9h1.8M84.2 236.9h1.8M111.8 215.8h1.8M74.8 234.8h1.8M98.9 221.4h1.8M117.1 232.5h1.8M88.2 218h1.8M97.5 230h1.8M88.3 233.7h1.8M102.9 218.8h1.8M102.5 227h1.8M112.5 231.2h1.8M102 239.2h1.8M89.8 215.9h1.8M105.9 222.9h1.8M88.3 216.1h1.8M80.3 224.2h1.8M92 225.4h1.8M82.7 217.9h1.8M111.8 222.5h1.8M81.4 227.7h1.8M84.2 230.8h1.8M89.6 230.8h1.8M84.9 219.4h1.8M78.4 225.4h1.8M101.4 229.2h1.8M86.3 231.5h1.8M103.1 227.4h1.8M86.8 231h1.8M105.6 229.7h1.8M109.3 220.2h1.8M67.1 220.7h1.8M85.1 224.5h1.8M92.7 230.6h1.8M116.6 225.3h1.8M105.8 234.7h1.8M92.6 229h1.8M100.1 217.1h1.8M75.2 230.2h1.8M86.7 226.9h1.8M88.2 224.4h1.8M83.6 230.1h1.8M89 236.8h1.8M77 229.1h1.8M84.7 234.2h1.8M98.7 224.1h1.8M94.4 229.4h1.8M111 222.2h1.8M82.1 221.2h1.8M77.2 240.5h1.8M79.8 235.2h1.8M77.4 233.5h1.8M78.4 227h1.8M115 231.8h1.8M73.9 230.7h1.8M86.8 226.8h1.8M70 227.7h1.8M91.8 224.2h1.8M114.8 223.1h1.8M85.5 230.7h1.8M109.5 222.5h1.8M94.1 233h1.8M111.3 225h1.8M95.6 231.9h1.8M79 218.7h1.8M86.9 212.9h1.8M91 225.6h1.8M86.5 226.4h1.8M86.4 223.9h1.8M98.4 232.7h1.8M100.9 218.9h1.8M112.9 231.2h1.8M103.8 219.9h1.8M80.7 218.5h1.8M99.3 221h1.8M88.2 226.9h1.8M99.4 231.3h1.8M82.4 232.6h1.8M110.9 224.6h1.8M90.7 228.6h1.8M85.9 223.9h1.8M90.7 234.8h1.8M77.4 223h1.8M111.5 220.6h1.8M82.5 224.4h1.8M121 223.3h1.8M80.6 226.9h1.8M94.9 228.9h1.8M88.9 232.9h1.8M103.7 223.2h1.8M100.2 227.9h1.8M77.9 238h1.8M107.5 227.8h1.8M100.8 222.9h1.8M98.4 230.5h1.8M68 223.5h1.8M85.8 224.9h1.8M100.8 214h1.8M88.2 230.8h1.8M105.5 218.8h1.8M100.4 223.9h1.8M82.4 238.1h1.8M85.6 223.2h1.8M106.2 227.3h1.8M111.7 226.7h1.8M84.5 234.8h1.8M89.7 227.9h1.8M107.9 221.1h1.8M96.8 226.4h1.8M89.4 230.2h1.8M96.9 229.4h1.8M92.3 224.6h1.8M96.9 220.5h1.8M73.2 228.3h1.8M81.2 225.7h1.8M93.2 221.8h1.8M94.9 209.7h1.8M81.2 230.5h1.8M71.6 231.9h1.8M102.2 225.4h1.8M91.8 224.6h1.8M99.7 226.7h1.8M83.3 227.3h1.8M104.4 223.1h1.8M87.3 213.9h1.8M94 228.3h1.8M93.2 222.5h1.8M95.9 220.1h1.8M111.1 230.7h1.8M69.8 238.1h1.8M109.6 227.5h1.8M91.9 234h1.8M93.8 231.2h1.8M91.8 218.3h1.8M97.1 234.5h1.8M109.4 235h1.8M90.5 215.9h1.8M101.4 238.4h1.8M77.4 238h1.8M91.3 228.7h1.8M99.5 228.3h1.8M89.1 225.3h1.8M95.6 226.5h1.8M81.6 228.8h1.8M86.1 229.5h1.8M135.9 222.8h1.8M81.9 240.7h1.8M102.7 230.6h1.8M102.7 234.2h1.8M85 228.4h1.8M103.1 222.7h1.8M108.2 217.9h1.8M91.3 231.3h1.8M74.5 213.5h1.8M93.5 227.1h1.8M92.8 235.8h1.8M104.4 216.2h1.8M86.8 222.9h1.8M95.3 235.6h1.8M90.5 221.4h1.8M87.7 221.9h1.8M72.3 229h1.8M91.2 241.1h1.8M69.7 232.5h1.8M94 230.4h1.8M74.5 228.9h1.8M106.1 235.4h1.8M104.4 213.6h1.8M94.7 225.5h1.8M73.4 238.3h1.8M94.6 224h1.8M98.8 230.2h1.8M86.2 229h1.8M85.7 221.8h1.8M85.3 222.9h1.8M81.4 228.4h1.8M98.9 234h1.8M100.6 227.3h1.8M87.9 232.1h1.8M94.8 224.5h1.8M75.4 234.9h1.8M78.7 234.9h1.8M100 224.2h1.8M114 222.1h1.8M78.3 236.1h1.8M89.7 229.8h1.8M91.6 221.2h1.8M111.2 225.6h1.8M99.1 220.7h1.8M76.9 232.4h1.8M83.1 221.5h1.8M93.3 216.4h1.8M99.9 229h1.8M116.2 228.9h1.8M97.2 228.1h1.8M112.9 227.2h1.8M113.2 227.2h1.8M76.1 233.9h1.8M97.2 223.9h1.8M135 221.2h1.8M88.4 232.3h1.8M77 229.2h1.8M108 216.4h1.8M76.1 231.4h1.8M79.7 226.2h1.8M94.4 222.9h1.8M107.4 221h1.8M80 227h1.8M87.7 237.5h1.8M88.9 226.3h1.8M84.2 226.3h1.8M107.7 221h1.8M80.8 220.7h1.8M89.9 231.8h1.8M92.6 240.8h1.8M118.8 226.2h1.8M89.9 232h1.8M84.1 227.2h1.8M101.7 209h1.8M89.3 228.8h1.8M78 235.7h1.8M88.9 221.2h1.8M88.5 225.1h1.8M132.8 211.1h1.8M107.8 221.9h1.8M89.5 233.3h1.8M95.2 226.1h1.8M85.9 227.3h1.8M78.2 225.5h1.8M84.4 233.4h1.8M87.1 224.9h1.8M102.7 220.5h1.8M96.1 228.9h1.8M94.6 230h1.8M95.8 239.4h1.8M126.4 223.3h1.8M96.7 236.9h1.8M99 230.2h1.8M96.4 224.9h1.8M70.3 224.5h1.8M93.8 235.5h1.8M74.8 223.5h1.8M96.4 221.3h1.8M96.9 220h1.8M93.8 226.6h1.8M94.3 237.1h1.8M88 224.7h1.8M117.3 223.1h1.8M94.9 216.1h1.8M127.3 201.7h1.8M105.5 210.4h1.8M129 212.7h1.8M109.8 219.2h1.8M124.5 230.4h1.8M121.6 226.2h1.8M98.3 222.2h1.8M125.5 213.3h1.8M116.1 214.2h1.8M132.4 212.1h1.8M100.8 214.3h1.8M101.9 229.7h1.8M105.4 212.8h1.8M100.7 205.3h1.8M121.9 225.8h1.8M125.1 210.2h1.8M115.2 222h1.8M98.6 223.1h1.8M105.4 209.4h1.8M102.1 221.2h1.8M118.8 208h1.8M97.5 231.6h1.8M124.3 200.8h1.8M114.4 193.2h1.8M97.9 209.9h1.8M124.9 213.7h1.8M118.4 212.5h1.8M113.8 218.1h1.8M109.9 205.1h1.8M88.7 203.6h1.8M126.2 204.1h1.8M79.3 212.8h1.8M97.6 206.1h1.8M103.3 226.7h1.8M126.3 220h1.8M110 216.6h1.8M106.4 216.2h1.8M110.8 221.7h1.8M128.6 211.6h1.8M105 229.3h1.8M108.7 208.7h1.8M113.3 221.7h1.8M109.4 220h1.8M106.2 205.9h1.8M118.1 192.1h1.8M86.4 213.8h1.8M107 209.6h1.8M110.7 224.6h1.8M110.2 221.6h1.8M99.5 217.9h1.8M103.1 221h1.8M117.8 223.1h1.8M109.1 207.1h1.8M89.1 238.5h1.8M112 223h1.8M129.9 215.2h1.8M138.8 221.4h1.8M147.8 212.2h1.8M135.6 218.4h1.8M141.1 234h1.8M139.3 207.6h1.8M147.4 201h1.8M143.9 234.5h1.8M138.7 241.1h1.8M148.2 202h1.8M142.1 236.5h1.8M143.6 212.8h1.8M143.4 208.4h1.8M144.1 211.9h1.8M149.7 217.6h1.8M151.4 211.5h1.8M146.1 211.6h1.8M145.3 193.6h1.8M145.8 192.1h1.8M148.7 215.1h1.8M139.2 234.4h1.8M140.1 225.2h1.8M151.4 218.7h1.8M145.4 218.5h1.8M137.7 212h1.8M142.6 232.9h1.8M142.3 210.4h1.8M146.2 196.5h1.8M150.7 221.9h1.8M142.6 240h1.8M146.4 214.4h1.8M147.4 218.6h1.8M138.3 194.3h1.8M145.4 214h1.8M147.9 198h1.8M136.1 214.1h1.8M145.2 213.1h1.8M139.2 224.5h1.8M144.6 207.7h1.8M152.9 213.9h1.8M143.3 231.7h1.8M145 199.9h1.8M147.4 239.5h1.8M142.6 217.1h1.8M147.8 229.1h1.8M147.1 212.7h1.8M137.6 238.5h1.8M147.2 225.7h1.8M148.3 206.6h1.8M139.5 234.6h1.8M142.3 216.1h1.8M143.6 222.6h1.8M139.6 215.4h1.8M148 172.7h1.8M148.5 160h1.8M152.2 153.2h1.8M150.7 121.7h1.8M151.4 133.6h1.8M156.5 161h1.8M157.8 155.2h1.8M153.5 129.3h1.8M156.9 135.9h1.8M158.6 171.8h1.8M141.3 170.6h1.8M156.2 155h1.8M148.7 151.6h1.8M148.8 185.1h1.8M134.4 188.8h1.8M132.4 192.2h1.8M135.9 178h1.8M127.7 204.8h1.8M130.3 213.9h1.8M124.6 213.8h1.8M115.3 166.4h1.8M141.2 143.1h1.8M131.9 166.8h1.8M140.1 171.1h1.8" stroke="#606060" stroke-opacity="0.5" stroke-width="1.8" fill="none"/>
</g>
<path d="M140 110.4V242.4M65.8 175.8H177.6" stroke="#828282" stroke-width="1.8" fill="none"/>
<rect x="65.8" y="110.4" width="111.8" height="132.0" fill="none" stroke="#111" stroke-width="1.9"/>
<path d="M65.8 242.4v5.5M85.3 242.4v3.2M80.4 242.4v3.2M76.9 242.4v3.2M74.2 242.4v3.2M72 242.4v3.2M70.1 242.4v3.2M68.5 242.4v3.2M67.1 242.4v3.2M93.8 242.4v5.5M113.3 242.4v3.2M108.4 242.4v3.2M104.9 242.4v3.2M102.2 242.4v3.2M100 242.4v3.2M98.1 242.4v3.2M96.5 242.4v3.2M95 242.4v3.2M121.7 242.4v5.5M141.2 242.4v3.2M136.3 242.4v3.2M132.8 242.4v3.2M130.1 242.4v3.2M127.9 242.4v3.2M126 242.4v3.2M124.4 242.4v3.2M123 242.4v3.2M149.6 242.4v5.5M169.2 242.4v3.2M164.3 242.4v3.2M160.8 242.4v3.2M158.1 242.4v3.2M155.9 242.4v3.2M154 242.4v3.2M152.4 242.4v3.2M150.9 242.4v3.2M177.6 242.4v5.5" stroke="#222" stroke-width="1" fill="none"/>
<text transform="translate(60.3 263.7) scale(1 1.09)" font-size="15.7">1<tspan dy="-5.4" dx="-0.3" font-size="9.8">0</tspan></text>
<text transform="translate(82.5 263.7) scale(1 1.09)" font-size="15.7">10<tspan dy="-5.4" dx="-0.3" font-size="9.8">1</tspan></text>
<text transform="translate(113.3 263.7) scale(1 1.16)" font-size="14.8">11<tspan dy="-5.4" dx="-0.3" font-size="9.8">2</tspan></text>
<text transform="translate(140.6 263.7) scale(1 1.09)" font-size="15.7">10<tspan dy="-5.4" dx="-0.3" font-size="9.8">3</tspan></text>
<text transform="translate(170.8 263.7) scale(1 1.09)" font-size="15.7">10</text>
<g filter="url(#bl)">
<path d="M261.4 226.4h1.8M252.5 224.7h1.8M259.9 224.7h1.8M279 214.8h1.8M255.5 221.7h1.8M288.5 207.4h1.8M288.5 222.7h1.8M295.7 222.9h1.8M257.1 212.3h1.8M267 225.5h1.8M265.2 219.2h1.8M276 216.5h1.8M260.5 218.9h1.8M247.4 235.8h1.8M268.9 218.6h1.8M286.2 216.5h1.8M287.3 222.9h1.8M259.5 234.2h1.8M283.8 225.4h1.8M287.3 212h1.8M265.4 223.1h1.8M285 201.7h1.8M273.2 223.8h1.8M283.8 216.6h1.8M258.3 227.3h1.8M253.4 218.9h1.8M265.5 226.4h1.8M258.7 221.7h1.8M255.5 231.3h1.8M275.8 222.6h1.8M270.3 221.4h1.8M244.9 222.9h1.8M265.5 223.9h1.8M250.2 236.5h1.8M300.4 211.8h1.8M265.4 218.6h1.8M291.9 217.8h1.8M276.3 231h1.8M284.6 216h1.8M273.5 228h1.8M257.2 225.1h1.8M255.1 228.5h1.8M293.1 210.4h1.8M278.2 222.6h1.8M270.2 212.4h1.8M282.4 227.7h1.8M269.5 215h1.8M302.9 215.7h1.8M268.8 223.4h1.8M305.9 213.8h1.8M271.1 214.2h1.8M284.2 220.3h1.8M277.6 221.5h1.8M261.8 219.8h1.8M287.3 235.7h1.8M303.6 214h1.8M289.4 206.1h1.8M256.3 226.9h1.8M265.5 227.5h1.8M280 220.9h1.8M262.5 218.1h1.8M299 215h1.8M280.2 214.6h1.8M260.2 221h1.8M291.4 215.8h1.8M284.4 214.2h1.8M267.2 223.7h1.8M257.8 219.6h1.8M286.9 218.9h1.8M278.3 210.6h1.8M291.4 224.1h1.8M286.6 218.7h1.8M265.3 213.9h1.8M273.7 216.2h1.8M284.6 208.6h1.8M274.1 212.1h1.8M245.8 234.7h1.8M247.2 233.2h1.8M285.9 216.1h1.8M274.9 218.7h1.8M260.7 215.3h1.8M251.1 238.3h1.8M293.2 206.3h1.8M245.2 230.8h1.8M299.8 222.4h1.8M282.7 222.9h1.8M277.8 218.6h1.8M283.4 215.5h1.8M281.1 216.4h1.8M281.8 218.1h1.8M267.9 225.1h1.8M264.8 217.5h1.8M278.8 211.2h1.8M280.3 216h1.8M273.6 221.8h1.8M265.5 233.1h1.8M278.5 212h1.8M266.8 225.6h1.8M287.5 231.4h1.8M269.3 223h1.8M293.2 212h1.8M286.7 221.5h1.8M260.6 226.9h1.8M289.5 205.6h1.8M289.3 219.1h1.8M289.4 228.5h1.8M276.2 215h1.8M278.5 221.2h1.8M259.5 227.8h1.8M258.7 225.9h1.8M279.5 229.3h1.8M292.9 206.8h1.8M287.3 215.6h1.8M259.9 218.9h1.8M267.7 225.3h1.8M264 234.9h1.8M242.8 230.8h1.8M284 213.1h1.8M324.7 208.2h1.8M268 212.9h1.8M270.5 219.5h1.8M238.6 216.5h1.8M271.3 225.9h1.8M277.5 225.4h1.8M295.1 221.7h1.8M261.5 217.7h1.8M265.4 220.1h1.8M286.6 219h1.8M285.6 213.5h1.8M297.4 218.7h1.8M281.9 220.6h1.8M278.9 221.3h1.8M255.5 232.6h1.8M274.2 228.2h1.8M273.8 218.7h1.8M273.7 225.8h1.8M278.9 211.8h1.8M273.3 222h1.8M254.1 227.1h1.8M259.2 219.3h1.8M260 226.1h1.8M258.8 211.9h1.8M302.4 218.8h1.8M252.6 222.2h1.8M257.7 226.1h1.8M259.8 218.3h1.8M264.6 233.9h1.8M269.9 219h1.8M272.1 209.9h1.8M250.5 219.4h1.8M272.2 228.9h1.8M289.2 215.8h1.8M282 216.4h1.8M272.4 227.6h1.8M256.6 231.1h1.8M285.5 214.6h1.8M247.8 214.5h1.8M276.2 215.5h1.8M235.8 231.4h1.8M305.9 218.9h1.8M245.4 228.4h1.8M289.9 217.9h1.8M264.5 220.4h1.8M283.4 225h1.8M275.6 230.4h1.8M265.8 223h1.8M282.2 213.7h1.8M296.1 217.6h1.8M278.4 227.4h1.8M269.5 222.7h1.8M271 224.2h1.8M265.4 229.7h1.8M241.8 229.7h1.8M261.2 222h1.8M275.1 216.4h1.8M274.1 219.7h1.8M281.7 225.9h1.8M296.5 212.3h1.8M236.6 236.6h1.8M270.4 225.3h1.8M263.6 219.4h1.8M280.7 220.4h1.8M252.1 219.4h1.8M279.6 223.2h1.8M286 227h1.8M244.3 227.9h1.8M261.8 223.8h1.8M264.2 225.1h1.8M295.9 215.9h1.8M291.7 214.9h1.8M283.6 213.3h1.8M288.9 226.5h1.8M250.4 235.8h1.8M283.5 225.2h1.8M289.7 220.3h1.8M254.3 232.9h1.8M269.7 222.7h1.8M263.7 222.6h1.8M260.7 237.2h1.8M270.2 215.2h1.8M294.8 221.9h1.8M266.5 230.1h1.8M294.2 215.2h1.8M265.9 231.5h1.8M255.4 225.7h1.8M270.2 230.7h1.8M288.9 221.4h1.8M277.4 221.7h1.8M262.7 211.8h1.8M255 214.2h1.8M264.2 217.8h1.8M286.5 213.2h1.8M280.6 208.3h1.8M265.8 228h1.8M281.3 209.5h1.8M282.1 228.7h1.8M255.8 229.4h1.8M273.8 217.7h1.8M273.1 220.5h1.8M258.9 222h1.8M272.5 219.1h1.8M281.6 212.8h1.8M303.6 226.6h1.8M265.5 217.2h1.8M269.6 218.1h1.8M256.6 220.9h1.8M271.4 217.8h1.8M278.1 214.7h1.8M295.8 199.8h1.8M283.6 223.2h1.8M302.3 216h1.8M290.4 233.6h1.8M317.9 195.4h1.8M242.5 215.9h1.8M259.6 215.9h1.8M280.6 220.7h1.8M252.4 223.8h1.8M279.8 216.1h1.8M255 227.4h1.8M254.6 233.7h1.8M264.7 213.5h1.8M253.2 221.1h1.8M264.5 220.9h1.8M274.4 218.2h1.8M260.9 230.7h1.8M296.4 201.8h1.8M261.1 224.4h1.8M243.4 223.9h1.8M263.2 230.1h1.8M302.1 224.4h1.8M275.5 219.3h1.8M283.5 219.6h1.8M283.3 224.5h1.8M265.3 225h1.8M272.2 224.8h1.8M270.1 226.5h1.8M257.9 234.3h1.8M253 225.8h1.8M252.9 224.4h1.8M266.6 220.9h1.8M293.2 228.9h1.8M243.4 237.8h1.8M272.4 216.3h1.8M287 218.5h1.8M271.4 218.9h1.8M267.3 215.3h1.8M253.9 224.3h1.8M266.4 224.4h1.8M263.4 218.5h1.8M308.9 214h1.8M270.9 236.1h1.8M265.8 222.7h1.8M289.3 214.3h1.8M285.3 217.6h1.8M280.6 229.2h1.8M254 236.4h1.8M294.6 224.9h1.8M287.8 208.3h1.8M236.1 224.7h1.8M290.8 222.3h1.8M265.3 218.7h1.8M257.6 217.7h1.8M297 212.1h1.8M291.5 216.1h1.8M270.5 221.4h1.8M259.4 217.7h1.8M290.4 203.5h1.8M256.4 222.5h1.8M256.4 224.6h1.8M295.6 199h1.8M259.5 229.4h1.8M267.3 215.2h1.8M278.2 224.3h1.8M264.6 227h1.8M256.9 232.9h1.8M272.9 212.9h1.8M268.8 224.3h1.8M286.3 215.4h1.8M260.5 219.3h1.8M298.6 215.3h1.8M300.6 207.5h1.8M256.5 220.7h1.8M265 212.1h1.8M293.5 224h1.8M283.3 212.6h1.8M287 216.4h1.8M266.7 230.2h1.8M264.3 215.2h1.8M242.3 224.2h1.8M262.2 223.6h1.8M269.5 211h1.8M276 224.4h1.8M264.8 212.3h1.8M286.2 214.9h1.8M257.8 220.2h1.8M276 217.9h1.8M292.7 214.2h1.8M279.3 207.8h1.8M280.1 214.7h1.8M284.8 226.9h1.8M280.6 211.7h1.8M253.2 222h1.8M277.5 219.8h1.8M285.6 219.3h1.8M275.2 223.7h1.8M265.9 219.9h1.8M267.1 221.5h1.8M297.7 209.1h1.8M263.2 229.1h1.8M250.9 225.9h1.8M278.9 231h1.8M296.7 223.9h1.8M273.2 224.1h1.8M283.4 223.4h1.8M249 221.9h1.8M283.2 206.5h1.8M247.1 226.5h1.8M281.9 222.2h1.8M279.5 214.3h1.8M281.3 220.2h1.8M256.6 222.5h1.8M295.6 231.7h1.8M281 217.6h1.8M267.1 219.7h1.8M297.5 210.9h1.8M276.5 218.4h1.8M259.7 210h1.8M258 219.1h1.8M255.3 229.3h1.8M283.8 212.5h1.8M300.5 214.2h1.8M289.7 219.3h1.8M276 212.7h1.8M288.3 207.7h1.8M245.5 231.3h1.8M286 211.8h1.8M265 216.5h1.8M255.8 210.7h1.8M280.2 223.3h1.8M304.2 231.9h1.8M279.6 224.5h1.8M284.2 217.4h1.8M275 222.6h1.8M282.7 233.3h1.8M269.5 224.3h1.8M290.4 221h1.8M243.9 231.3h1.8M295.5 219.6h1.8M299.2 222.9h1.8M252.6 225.9h1.8M263.8 231.8h1.8M266.7 229.3h1.8M277.4 225.4h1.8M269.8 214.2h1.8M298.8 212.9h1.8M252.5 217.9h1.8M279.7 222.5h1.8M279.5 212.6h1.8M268.9 230.7h1.8M290.1 219.6h1.8M255.2 216.5h1.8M284 226.1h1.8M246 223.9h1.8M268.3 235.7h1.8M287.7 221.5h1.8M308.1 207.7h1.8M286 216.6h1.8M280.8 225.2h1.8M275.6 227.2h1.8M293 226.2h1.8M293.2 223.9h1.8M262 229.3h1.8M247.5 213.9h1.8M308.1 216.4h1.8M297.1 215h1.8M241.6 238.9h1.8M258.7 233.2h1.8M277.9 218.9h1.8M272 225.8h1.8M283.5 223.7h1.8M286.6 213.4h1.8M250.1 230.3h1.8M299.6 218.2h1.8M264.4 226.6h1.8M265.7 239.7h1.8M262.9 211.8h1.8M279.2 214.7h1.8M273.3 227h1.8M276.8 216.8h1.8M305.7 208.3h1.8M289.1 222.5h1.8M294.5 217h1.8M278.6 215.5h1.8M242.3 225.2h1.8M270.1 228.5h1.8M259.3 225.9h1.8M262.8 223.9h1.8M270.8 213.8h1.8M274.5 223.3h1.8M303.3 218.3h1.8M274 221.7h1.8M271 217.2h1.8M280 214.8h1.8M304.3 203.5h1.8M275.6 221.2h1.8M283.9 229h1.8M278.3 218.8h1.8M268.8 229.2h1.8M276.8 225.1h1.8M278.6 217.3h1.8M279.7 236.7h1.8M284 230.7h1.8M288.4 214.7h1.8M272.7 218.4h1.8M276.8 225.8h1.8M276.5 217.2h1.8M269.9 209.9h1.8M286.2 220.5h1.8M269.3 226.5h1.8M256.6 221.7h1.8M280.1 207.7h1.8M263.5 224.5h1.8M273.3 220.6h1.8M255.6 211.4h1.8M282.9 220.1h1.8M264.1 222.1h1.8M279.5 217.9h1.8M269.3 226.5h1.8M279.3 223.3h1.8M281.1 219.5h1.8M276.6 222.1h1.8M271.8 216.3h1.8M270.6 215.8h1.8M261.2 229.3h1.8M307.7 213.6h1.8M259.8 226.8h1.8M271.7 221.2h1.8M295 225.2h1.8M243.4 230.5h1.8M280.7 221.2h1.8M304.9 213.9h1.8M276.5 226h1.8M283.6 222.2h1.8M289.1 221.6h1.8M261.6 218.8h1.8M272.1 222.9h1.8M310.4 215.1h1.8M280.1 218.5h1.8M283.7 223.5h1.8M264.8 228.4h1.8M271.1 221.7h1.8M283.8 222.7h1.8M274.4 216.7h1.8M305.1 202.9h1.8M285.7 216.6h1.8M288.8 214.8h1.8M268.5 219h1.8M260.5 222.2h1.8M286.5 208h1.8M241.7 236.5h1.8M262.4 220.9h1.8M270.7 207.7h1.8M295.5 206.8h1.8M260.1 222.1h1.8M263.1 237h1.8M277.5 208h1.8M272 218h1.8M240.9 225.5h1.8M265.6 228.4h1.8M281.8 220.7h1.8M287.4 216.8h1.8M281.6 227h1.8M290.4 219.3h1.8M259 217.5h1.8M266.2 226.7h1.8M268.1 222.7h1.8M263.4 229.7h1.8M276.8 227.1h1.8M281.5 221.2h1.8M269.4 233.8h1.8M285.9 206.6h1.8M274.7 221.8h1.8M273.4 212.8h1.8M274.2 227.8h1.8M257.2 225.7h1.8M279.8 220h1.8M277.8 221.7h1.8M285.2 220.7h1.8M266.2 222.6h1.8M263.2 225.4h1.8M264 221.2h1.8M289.4 234.8h1.8M270.2 228h1.8M275.7 214.5h1.8M263.5 222.9h1.8M264.2 224.2h1.8M268.5 215.2h1.8M264.2 222h1.8M282.5 213.8h1.8M281 217.3h1.8M268.9 225.9h1.8M255.4 227.6h1.8M290.8 218.2h1.8M270.7 223.9h1.8M246 226.1h1.8M252.1 224.6h1.8M281.3 226.4h1.8M297 206.8h1.8M257.4 209h1.8M244.3 226.1h1.8M276.8 218.3h1.8M250 227.5h1.8M276.7 205.8h1.8M280.5 224.6h1.8M282.7 216.1h1.8M266.2 222.6h1.8M286.8 212.5h1.8M263.1 231.4h1.8M289.5 215.2h1.8M280.4 231.4h1.8M279.6 207.6h1.8M251.5 230.2h1.8M279.5 220.6h1.8M278.9 221.2h1.8M284 214.8h1.8M320.6 205.9h1.8M276.9 226.4h1.8M290.1 214.6h1.8M283.9 224h1.8M274 226.6h1.8M288.9 223h1.8M279.1 224.5h1.8M273.7 209h1.8M301.4 218.1h1.8M291.2 225h1.8M264 218.9h1.8M284.6 219.1h1.8M292.7 214.3h1.8M257.2 216.9h1.8M278.4 218.7h1.8M262.6 217.5h1.8M296.7 223.6h1.8M254 235h1.8M290.4 221.4h1.8M299.9 199.7h1.8M277.1 211.7h1.8M269.7 222.7h1.8M263.3 229.9h1.8M256.1 222.2h1.8M291.8 216.3h1.8M257.7 220h1.8M284.9 215.4h1.8M265.4 220.5h1.8M285.1 216.9h1.8M257.8 221.1h1.8M277.3 221.3h1.8M267.9 221.3h1.8M296.7 208.9h1.8M288.5 217.5h1.8M266.1 225.5h1.8M286.3 226.6h1.8M275.1 213.8h1.8M268.7 220.6h1.8M258.2 220.8h1.8M271.8 211.7h1.8M264.2 224.9h1.8M286.2 223h1.8M285.1 217h1.8M271.5 221.8h1.8M261 234.3h1.8M272.8 225.1h1.8M279.7 218h1.8M281.7 220.6h1.8M253.2 214.9h1.8M277.7 213.2h1.8M297.2 219.4h1.8M268.2 222.3h1.8M276.9 215.4h1.8M296.7 218.7h1.8M285.8 223.4h1.8M248.6 218.1h1.8M247 224.9h1.8M268.9 229.6h1.8M296.4 221.4h1.8M268.4 222.8h1.8M278.8 229.1h1.8M281 222.7h1.8M288.1 219.3h1.8M267.1 227.2h1.8M282.4 207.3h1.8M292.5 215.7h1.8M282.9 218.2h1.8M292.6 210h1.8M253.8 229.1h1.8M273.8 220.5h1.8M270 205h1.8M267 210.9h1.8M249.1 230.7h1.8M254.4 226.6h1.8M265.6 224.9h1.8M274.2 224.1h1.8M276.6 215.5h1.8M293.1 216.7h1.8M280.9 225h1.8M285.2 224.5h1.8M254.8 226h1.8M273.7 223.7h1.8M266.9 220.1h1.8M239.6 229.8h1.8M271.3 223.7h1.8M282.8 222.7h1.8M288.4 222.2h1.8M247.5 213.3h1.8M269.1 223.9h1.8M278.8 211.8h1.8M272.8 219.5h1.8M284.5 220.3h1.8M265.6 225.1h1.8M304.7 219.5h1.8M292.2 219.4h1.8M274.4 231.6h1.8M269.3 221.5h1.8M255.7 224.9h1.8M262.9 221.2h1.8M292 208.6h1.8M291.1 211.9h1.8M302.3 209.3h1.8M272.2 227.6h1.8M270.1 216.2h1.8M286.9 211.3h1.8M271.1 235.5h1.8M272.9 220.2h1.8M283.3 211.7h1.8M270 227.1h1.8M244.5 230h1.8M288.6 235.3h1.8M248.3 221.5h1.8M280.1 212.2h1.8M288.3 211.1h1.8M278.2 228.6h1.8M287.1 221.2h1.8M259.2 222.1h1.8M271 229.1h1.8M244.7 239.9h1.8M255 217h1.8M240.6 219.3h1.8M270.8 213.8h1.8M274.3 225.4h1.8M303.1 203h1.8M252.5 232.2h1.8M287 233.1h1.8M263.1 225.4h1.8M260.6 225.1h1.8M274.1 215.6h1.8M281.2 211.9h1.8M259.6 221.3h1.8M259.5 225.3h1.8M280.2 217h1.8M287.1 219h1.8M292.1 210.6h1.8M250 228.8h1.8M266.9 219.3h1.8M273.4 221.9h1.8M271 208h1.8M306 211.4h1.8M302.5 218.6h1.8M274.1 216.3h1.8M279.1 201.1h1.8M281.5 222.8h1.8M302.2 218h1.8M280.5 218.9h1.8M277.8 221.8h1.8M270 219.8h1.8M263.6 220.4h1.8M270.3 235.3h1.8M273.5 219.4h1.8M266.2 222.4h1.8M265.8 206.4h1.8M280.6 221.2h1.8M274.8 212.2h1.8M271.8 217.9h1.8M260 226.3h1.8M265.6 224.7h1.8M277.7 211.9h1.8M239.3 240.7h1.8M313.1 208.2h1.8M284.5 229.1h1.8M276 216.1h1.8M276.3 223.2h1.8M286.4 213h1.8M275.7 219.1h1.8M289.3 227.7h1.8M272.1 225h1.8M254.1 224.3h1.8M249.2 221.8h1.8M288.1 223.4h1.8M301 223.9h1.8M274.6 232h1.8M325.5 194.9h1.8M270.6 228.2h1.8M264.1 236.8h1.8M272 231.8h1.8M300.2 219h1.8M290.7 210.8h1.8M272.3 213.4h1.8M291.1 227.6h1.8M284.2 222.6h1.8M283.4 217.5h1.8M257.6 233.2h1.8M274.6 218.2h1.8M281.4 219.9h1.8M282.5 216.7h1.8M270.1 226.5h1.8M263.9 223.5h1.8M276 222.1h1.8M278.9 208.5h1.8M289.4 217.4h1.8M278.7 227.9h1.8M286.5 220.7h1.8M276.4 220.3h1.8M260.5 229.9h1.8M268.8 226.3h1.8M307.9 205.5h1.8M265.1 220.4h1.8M263.5 212.4h1.8M272.5 221.5h1.8M281.4 216h1.8M282.2 213.4h1.8M272.2 217.9h1.8M285.4 211.8h1.8M253.7 239.6h1.8M275.2 214.9h1.8M272.6 214.7h1.8M272.2 223h1.8M281.2 227.2h1.8M269.9 219.8h1.8M263.9 211.7h1.8M258.2 235h1.8M275.5 229.2h1.8M275.4 217.7h1.8M273.1 215.4h1.8M264.1 224.3h1.8M279.8 223.5h1.8M269.3 228h1.8M244.4 220h1.8M263.3 226.3h1.8M267.9 230.9h1.8M273.2 214.5h1.8M292.5 223.1h1.8M282.8 218.9h1.8M252.5 230.8h1.8M238.8 235h1.8M275.3 220.4h1.8M278.8 217.5h1.8M266.2 220.7h1.8M279.4 219.7h1.8M265.6 230.3h1.8M275 223h1.8M269.3 225.3h1.8M272 221.8h1.8M288 221.3h1.8M259.4 215.9h1.8M262.4 223h1.8M271.7 223.7h1.8M256.1 233.7h1.8M267.9 219.1h1.8M280.9 223.5h1.8M285.2 223.5h1.8M290.4 213.9h1.8M306.7 224.1h1.8M296.5 220.6h1.8M266.3 224.5h1.8M284.4 216.1h1.8M290.6 214.5h1.8M279.1 208.6h1.8M293.2 224.1h1.8M263.3 214.5h1.8M284.6 219.3h1.8M284.9 211.2h1.8M269.4 231.8h1.8M263 219.5h1.8M256.1 212.1h1.8M281.6 222.4h1.8M269.5 227.5h1.8M282.9 222.3h1.8M264.7 218h1.8M271.7 220.6h1.8M253.1 227.9h1.8M264.9 223.9h1.8M251.6 222.4h1.8M268.3 223.1h1.8M294.3 217.2h1.8M283.9 223.4h1.8M278 227h1.8M265.3 214.2h1.8M296.6 218.4h1.8M276.1 221.4h1.8M271.3 236h1.8M310.6 228.5h1.8M285 221h1.8M287 216.2h1.8M273 224.1h1.8M280.1 213.9h1.8M256.2 235.1h1.8M302.5 225.3h1.8M281.4 224.1h1.8M262.2 226h1.8M262.1 234.5h1.8M287 224h1.8M284.2 223.6h1.8M256.6 213.9h1.8M254.2 228.2h1.8M274.6 220.2h1.8M262.7 214.4h1.8M306.2 221.1h1.8M249.5 223.8h1.8M282.7 226h1.8M294.1 225.6h1.8M259.4 221h1.8M277.7 213.4h1.8M274.9 222.6h1.8M252.5 220.2h1.8M250.8 222.6h1.8M283.5 221h1.8M273.7 211.6h1.8M259 226.1h1.8M241.1 236.1h1.8M278.2 231.5h1.8M280.9 222.5h1.8M268.1 219.2h1.8M282.3 205.4h1.8M288.9 222h1.8M249.2 228.6h1.8M272.3 211.4h1.8M282.9 216.8h1.8M268.4 221.4h1.8M274 211.4h1.8M258.4 229.4h1.8M268.3 226.6h1.8M300.9 212.4h1.8M282 212.4h1.8M271.1 227.2h1.8M268.9 223.3h1.8M286.6 219.7h1.8M276.2 212.5h1.8M271.7 228.3h1.8M266.8 223.2h1.8M269 227h1.8M278.6 222.1h1.8M255.9 232.4h1.8M300.6 207.4h1.8M261.7 226.4h1.8M238 231.6h1.8M278.9 206.3h1.8M267.6 227.8h1.8M278 228.9h1.8M282 212.3h1.8M301.6 209.2h1.8M285.1 215.8h1.8M268.5 213.7h1.8M247.6 229.8h1.8M247.8 227.1h1.8M265.6 216.1h1.8M271.6 232.1h1.8M297.7 210.8h1.8M285.8 229.8h1.8M280 217.9h1.8M263.1 218.4h1.8M296.5 217.2h1.8M281.2 220.6h1.8M282.2 228.5h1.8M257 233.5h1.8M286.9 216.2h1.8M288 208.3h1.8M303.7 212.3h1.8M325.7 198.1h1.8M275.8 217.4h1.8M281.8 217.6h1.8M315.1 203.8h1.8M276.1 219h1.8M265.9 223.7h1.8M282.2 217h1.8M248.6 227.6h1.8M271.6 232.4h1.8M253.3 227.1h1.8M264.1 220.1h1.8M270 219h1.8M288.3 218.7h1.8M274.1 217.8h1.8M266.5 222.2h1.8M243.5 234.9h1.8M281.2 213.4h1.8M264.4 227.2h1.8M274.8 208h1.8M308.1 212.4h1.8M290.3 212.2h1.8M314.4 213.6h1.8M273.2 223h1.8M249 215.9h1.8M265.3 235.5h1.8M303.7 219.5h1.8M261.3 220.3h1.8M300.9 216.7h1.8M284.1 215h1.8M281.8 226.4h1.8M293.4 203.9h1.8M290.2 217.4h1.8M301.6 226.5h1.8M293.2 221.7h1.8M305.1 209.6h1.8M249 224.3h1.8M268.8 212.3h1.8M259.8 233.6h1.8M267.1 224h1.8M302.1 225h1.8M259.3 216.6h1.8M264.3 216.6h1.8M258.2 225.5h1.8M278.7 221.4h1.8M249.3 215.2h1.8M255 224.3h1.8M272.9 212.3h1.8M251.7 235.7h1.8M253 235.7h1.8M257 222h1.8M308.4 199.2h1.8M275.8 210.4h1.8M274.8 226.7h1.8M292.6 215.3h1.8M280.1 224.5h1.8M265.9 212.2h1.8M258.9 226.1h1.8M273.2 216h1.8M273.5 222.2h1.8M268.1 227.7h1.8M302.7 225.9h1.8M262.1 231h1.8M301.8 222.6h1.8M304.5 210.4h1.8M260.5 228.2h1.8M288.8 208.2h1.8M287.3 224.3h1.8M295.6 225.2h1.8M256.9 214.8h1.8M275.5 234.8h1.8M249 234.7h1.8M301.8 213.5h1.8M258.2 213.9h1.8M274.7 212.6h1.8M270.1 224.6h1.8M275.1 204h1.8M276.1 229.1h1.8M275.8 221h1.8M262 216.7h1.8M289.7 214.6h1.8M238.6 224.6h1.8M268.6 227.4h1.8M278 221.6h1.8M300.3 218.7h1.8M276.7 224.6h1.8M282.6 218h1.8M264 222h1.8M293.5 208.5h1.8M262.7 218.9h1.8M282.4 212.5h1.8M281.7 219.4h1.8M274.2 225.6h1.8M286.7 228.3h1.8M277 214.8h1.8M271.1 217.2h1.8M259.8 216.1h1.8M258.7 229.5h1.8M254.4 231.3h1.8M269.7 225.7h1.8M304.8 211.5h1.8M270.1 222.9h1.8M278.8 222h1.8M286.6 212.1h1.8M269.8 209.7h1.8M259.4 228h1.8M290.2 216.6h1.8M272.5 218.5h1.8M274.1 225.4h1.8M271.5 211.2h1.8M299 220.7h1.8M263.3 232.3h1.8M262.6 227.8h1.8M249.1 227.1h1.8M261.3 216.4h1.8M259.8 228.4h1.8M299.9 219.4h1.8M268.1 224.9h1.8M270.8 220.4h1.8M240.4 230.9h1.8M287.5 218.6h1.8M262.7 216.6h1.8M271.2 227.8h1.8M279.4 225.1h1.8M261.8 219.7h1.8M258.3 228.3h1.8M264.1 220.1h1.8M272 216.2h1.8M265.1 224.5h1.8M272.1 212h1.8M290.8 218.3h1.8M279.4 221h1.8M274.6 212.2h1.8M282.7 224.3h1.8M246.5 232.3h1.8M247.4 232h1.8M266.6 224.9h1.8M271.2 230.7h1.8M269.9 222.2h1.8M284.4 211.5h1.8M278.1 222.3h1.8M281.2 230.8h1.8M275.2 217.5h1.8M298.2 221.1h1.8M270.6 215.9h1.8M270.6 217.6h1.8M274.6 232.1h1.8M291.3 222.1h1.8M282.8 222.3h1.8M269.4 223.4h1.8M249.6 238.6h1.8M283.6 215.9h1.8M257.8 223.1h1.8M272.1 210.8h1.8M270 229.9h1.8M251.8 226.9h1.8M289.4 226.5h1.8M285.2 215.7h1.8M280 225.7h1.8M266.2 232.3h1.8M266.3 227.3h1.8M278.8 233.5h1.8M257.4 238.2h1.8M315.8 203.2h1.8M248 227.8h1.8M304.2 224h1.8M281.1 218.5h1.8M269.9 222h1.8M266.7 227.8h1.8M269.5 216.1h1.8M269.1 229h1.8M237.5 235.9h1.8M249.1 226.3h1.8M259.3 227.7h1.8M271.1 225.7h1.8M267.9 226.3h1.8M288.6 217.4h1.8M263.9 230.4h1.8M284.1 216.4h1.8M239.1 236.1h1.8M282.3 210.1h1.8M249.2 227.1h1.8M256.5 214.3h1.8M272.7 229.2h1.8M273.8 219.7h1.8M277.4 228.7h1.8M266.6 234.5h1.8M266.5 225.4h1.8M271.5 211.9h1.8M293.6 215.7h1.8M285.6 223.9h1.8M285 230.2h1.8M300.8 220.8h1.8M251.9 224.5h1.8M265 212.6h1.8M282.8 224.7h1.8M289.5 234.8h1.8M262.3 228.3h1.8M285.8 220.8h1.8M273 204.7h1.8M260.9 227.9h1.8M273.4 227.8h1.8M282.7 216.7h1.8M274.9 222.2h1.8M257.3 224.5h1.8M295.4 217.6h1.8M287.1 225.3h1.8M285.2 224.7h1.8M281.7 221.6h1.8M252 231.9h1.8M266.1 219.9h1.8M273.7 223.3h1.8M273.2 216.1h1.8M255.6 226.6h1.8M272.2 218.5h1.8M251.9 233.6h1.8M274.5 223h1.8M264.5 214.4h1.8M263 219h1.8M293.7 219.1h1.8M268.3 215.3h1.8M283.9 215.1h1.8M264.9 234.2h1.8M268 224.6h1.8M265.5 226.7h1.8M251.8 233.8h1.8M257.7 225.8h1.8M254.7 220.5h1.8M281 224.1h1.8M268.2 230.1h1.8M261.4 228.4h1.8M267.8 225.7h1.8M261.6 234.2h1.8M286.8 214.9h1.8M254.9 222.7h1.8M255.5 237.8h1.8M276.1 219.7h1.8M269 220.3h1.8M249 226.7h1.8M298.7 217h1.8M285.6 221.3h1.8M282.8 212.5h1.8M275.3 220.2h1.8M292 210.3h1.8M267.2 221.3h1.8M316.6 201.9h1.8M268.7 227h1.8M261.6 231.1h1.8M276.7 218.1h1.8M262.4 226.9h1.8M294.3 215.9h1.8M285.9 211.9h1.8M294.9 220.7h1.8M303 206.2h1.8M283.9 211.6h1.8M278.7 211.1h1.8M280.6 216.3h1.8M273.1 222.3h1.8M320.2 212h1.8M263.3 237.7h1.8M288.5 228.7h1.8M274.3 216.5h1.8M284.4 215.7h1.8M300 225.5h1.8M251.9 233.7h1.8M269.5 227.9h1.8M265.6 225.4h1.8M289.3 219.2h1.8M278.2 220.5h1.8M269.4 227h1.8M292.2 218.5h1.8M274.5 213.3h1.8M293.3 214.1h1.8M291.6 216.1h1.8M277.8 220.5h1.8M283.4 215.9h1.8M291.6 208.1h1.8M253.8 235.5h1.8M277.7 225.6h1.8M252.5 226h1.8M280.3 222.1h1.8M275.8 226.4h1.8M266.1 211.7h1.8M261.2 221.8h1.8M273.8 213.6h1.8M276.4 229.5h1.8M303.9 211.6h1.8M283.6 214h1.8M282.6 233.8h1.8M282 216.8h1.8M292.1 217.3h1.8M281.5 217.5h1.8M269.8 226.3h1.8M272.7 221.7h1.8M276.2 225.4h1.8M277.9 226.3h1.8M283.1 223.6h1.8M279.6 223.5h1.8M280 223.4h1.8M265.4 215h1.8M269.4 225.4h1.8M276.1 220.2h1.8M274.2 217.8h1.8M280.5 225.1h1.8M287.1 212.2h1.8M256.3 223.6h1.8M246.9 229.2h1.8M282.2 212h1.8M317.7 198.6h1.8M282.6 229.3h1.8M252.2 218.2h1.8M255.7 226.8h1.8M297.8 223.6h1.8M271.6 225.3h1.8M256.9 230h1.8M283.2 220h1.8M278 217.3h1.8M313.7 215.5h1.8M259.2 219.6h1.8M273.5 225.2h1.8M282.4 215.9h1.8M270.5 226.3h1.8M280.8 216h1.8M291.9 204.5h1.8M265.4 228.9h1.8M266.4 222.7h1.8M256.8 228.5h1.8M271.3 214h1.8M258.5 224.5h1.8M276.5 209.3h1.8M298.6 204.8h1.8M272.7 222.6h1.8M282.9 213.7h1.8M279.1 222.4h1.8M281.1 220.6h1.8M288.2 204.3h1.8M250.5 218.4h1.8M273.5 214.4h1.8M286.6 210h1.8M258.2 222.2h1.8M268.1 218.3h1.8M258.7 230.9h1.8M263.6 218.4h1.8M260.4 236.4h1.8M290.4 221.2h1.8M262.1 224.5h1.8M293.4 219.7h1.8M266.2 231.3h1.8M264.3 231.6h1.8M259.9 221.7h1.8M259.8 227.9h1.8M251.4 213.7h1.8M254.2 229.2h1.8M261.4 228.8h1.8M268 221.8h1.8M263.1 217.5h1.8M272.2 221.9h1.8M252.5 225.5h1.8M251.5 238.3h1.8M267.8 227.7h1.8M299.3 219.3h1.8M259 223.5h1.8M285.5 220.7h1.8M283.1 228.6h1.8M276.6 211.7h1.8M279.7 221.8h1.8M290.9 220h1.8M273.5 215h1.8M256.5 238.5h1.8M271.2 227h1.8M270.5 220.6h1.8M291.3 213.6h1.8M267.7 220.1h1.8M267.1 227.8h1.8M279.4 222h1.8M296.4 213.6h1.8M269.8 223.2h1.8M255.3 232.5h1.8M251.4 225.8h1.8M239.2 240.9h1.8M251.4 227.9h1.8M278.5 232.5h1.8M270.1 233.7h1.8M270.5 226h1.8M274.9 228.5h1.8M275.9 223.7h1.8M279.6 213.1h1.8M242.1 229.7h1.8M245.2 237.7h1.8M287.1 222h1.8M271.8 219.1h1.8M285.1 216.9h1.8M284.3 220.3h1.8M269.8 216.5h1.8M266.1 225.2h1.8M306.4 200.4h1.8M266.7 232.5h1.8M305 218.9h1.8M291.1 209.7h1.8M270 217.1h1.8M238.7 235h1.8M257.4 218.7h1.8M278 209.3h1.8M298 217h1.8M281.7 220.5h1.8M264.1 232h1.8M272.2 224.8h1.8M264 226h1.8M256.9 220h1.8M277.1 223.9h1.8M249.1 226.7h1.8M272.4 225.5h1.8M277.6 221.2h1.8M255.1 222.8h1.8M299.2 218.8h1.8M303.1 200.3h1.8M291.9 210h1.8M286 216h1.8M281.3 225.7h1.8M251.7 218.9h1.8M246.5 226.4h1.8M300 217.4h1.8M258.8 226.1h1.8M276.3 227.2h1.8M269.1 217.8h1.8M252.2 227.4h1.8M263.9 222h1.8M288.9 216.6h1.8M259 232.4h1.8M276.9 223.9h1.8M281 220.1h1.8M283.3 214.5h1.8M254.3 217.6h1.8M278.8 220.7h1.8M288 214.8h1.8M293.1 225.1h1.8M277.6 222.8h1.8M297.5 212.7h1.8M273.9 202.9h1.8M307.5 205.5h1.8M301.4 215.1h1.8M302.5 221.4h1.8M294.4 219.4h1.8M259 228.1h1.8M263.3 231h1.8M260.4 228h1.8M256.4 221.9h1.8M288.1 211.3h1.8M271 216.8h1.8M275.2 219.8h1.8M279.4 216h1.8M281.7 217h1.8M261.2 230.3h1.8M280.9 222.1h1.8M278.6 221h1.8M277.4 209.3h1.8M266.6 228.2h1.8M269.9 208.7h1.8M281.7 232.7h1.8M304.7 205.7h1.8M248 225.4h1.8M278.2 228h1.8M271.7 234.6h1.8M262.2 218h1.8M283.8 218.1h1.8M281.1 214.8h1.8M281.8 217.8h1.8M265.1 222.3h1.8M268.2 219.5h1.8M273.2 219.4h1.8M298.2 212.7h1.8M259 227.1h1.8M260.4 223.4h1.8M298.2 216.2h1.8M292.5 210.9h1.8M295.4 225.6h1.8M298.2 218.3h1.8M287.8 209.2h1.8M289.6 211.6h1.8M277.6 217.7h1.8M292.1 210.4h1.8M267.5 229h1.8M273.7 221.6h1.8M316.7 216.2h1.8M254.8 223.9h1.8M262.8 226.8h1.8M280.6 210.6h1.8M291.3 216.2h1.8M261.9 218.5h1.8M272.2 212.4h1.8M277.9 220.8h1.8M279.3 235h1.8M268.1 229.1h1.8M292.5 209.2h1.8M260.6 224h1.8M248 221.6h1.8M279 227h1.8M258.6 227.5h1.8M295.5 210.6h1.8M267.5 216.8h1.8M270.8 228h1.8M302.6 214.4h1.8M256.3 222.8h1.8M304.6 223h1.8M261.9 236.9h1.8M258.1 208h1.8M281.7 215.2h1.8M271.2 217h1.8M266.5 231.3h1.8M268.8 224.2h1.8M266.8 227.3h1.8M263.8 221h1.8M283.8 212.5h1.8M257.8 223.4h1.8M276 220.4h1.8M288.2 212.1h1.8M269.3 214h1.8M271.4 220.3h1.8M283.6 212.5h1.8M284.7 220.2h1.8M272.5 209.1h1.8M282.3 222.3h1.8M246.4 225.7h1.8M271.6 224.7h1.8M253.5 230.8h1.8M242.6 236.3h1.8M289 213.3h1.8M275.5 215.4h1.8M270.5 220.3h1.8M273.7 228.2h1.8M287.6 223h1.8M267.4 221.8h1.8M266.8 231.7h1.8M288 217.7h1.8M300.6 222h1.8M246.7 227.2h1.8M280.1 225.4h1.8M259.3 234.1h1.8M277.9 233.4h1.8M287.9 233h1.8M265.2 216.3h1.8M252.4 225h1.8M264.8 225.7h1.8M267.5 227.6h1.8M263.8 224.8h1.8M275 226.3h1.8M253.6 224.9h1.8M283.8 225.2h1.8M261.9 228h1.8M271.6 212h1.8M262.7 221.8h1.8M269.7 217.5h1.8M290.4 217.8h1.8M274.5 219.2h1.8M280 204.7h1.8M267 220.8h1.8M277.9 210.5h1.8M267.2 206.1h1.8M248.5 225.9h1.8M268.2 212.4h1.8M268.9 232.3h1.8M262.4 229.6h1.8M266.8 217.2h1.8M273.3 229.2h1.8M275.4 231.7h1.8M277.7 215.3h1.8M282.5 216h1.8M264.1 228.6h1.8M289.7 219.3h1.8M283 214.7h1.8M268.3 213h1.8M285.3 215.5h1.8M275.9 220.4h1.8M255.8 229h1.8M303.1 211.5h1.8M279.2 200.6h1.8M275 226.1h1.8M257 231.8h1.8M255.2 224.7h1.8M275.3 223.9h1.8M278.3 225.1h1.8M265.3 221h1.8M268.1 233.2h1.8M281.6 223.3h1.8M286.4 210.8h1.8M290.9 230.8h1.8M289.8 226.8h1.8M291 212.6h1.8M276.5 228.4h1.8M284 217.3h1.8M286.2 223.2h1.8M253.5 224.5h1.8M260 224.7h1.8M283 223.7h1.8M270.6 230.2h1.8M268.3 235.4h1.8M266.4 224.2h1.8M265.3 217.2h1.8M299.6 208.1h1.8M276.1 212.3h1.8M298.8 212.9h1.8M257.3 221.7h1.8M298.8 220.5h1.8M286.6 215.2h1.8M306.6 209.3h1.8M287.2 208.8h1.8M282.2 212.1h1.8M283.6 221.2h1.8M286.6 228.2h1.8M282.2 222.4h1.8M276 226.8h1.8M299.2 213.4h1.8M267.6 225.8h1.8M294 217.1h1.8M289.5 215.9h1.8M280.9 213.7h1.8M244.1 221h1.8M252.3 225.5h1.8M279.3 215.8h1.8M290.3 225.3h1.8M279.1 217.1h1.8M273.8 223.6h1.8M284.8 213.5h1.8M293.6 212.4h1.8M262.8 225.5h1.8M281.6 207.8h1.8M257.2 214.4h1.8M295.5 217.1h1.8M292.3 220.1h1.8M255 229.5h1.8M295.9 205.5h1.8M267.2 230.8h1.8M276.2 215.7h1.8M262.6 231h1.8M298.5 209.4h1.8M263.7 221.3h1.8M265.8 228.1h1.8M292.1 215.6h1.8M263.9 227.3h1.8M283.9 220.4h1.8M271.5 224h1.8M268.7 227.7h1.8M289.3 216.2h1.8M249.2 230.4h1.8M276.9 219h1.8M248.7 231.2h1.8M283 230.7h1.8M248.9 221.5h1.8M266.8 230.4h1.8M263.6 213.5h1.8M275.5 234.1h1.8M291.5 226.7h1.8M285.7 224h1.8M264.2 226.5h1.8M271.7 221.2h1.8M299.5 221.8h1.8M292.4 223.3h1.8M313.5 205.1h1.8M268 228.9h1.8M264.5 223.3h1.8M263.1 219.1h1.8M259.2 229.6h1.8M262.9 222.1h1.8M266.5 222.9h1.8M260.3 231h1.8M268.5 224.7h1.8M284.7 213.1h1.8M309 215.4h1.8M290.8 216.4h1.8M247.3 217.1h1.8M279.8 228.5h1.8M287.9 208.8h1.8M290 215.8h1.8M266.3 227.3h1.8M277.5 218.1h1.8M292.7 209.2h1.8M278.2 232.9h1.8M261.2 227.5h1.8M260.1 219.7h1.8M282.1 214h1.8M290.9 214.9h1.8M272.2 221.8h1.8M288.6 225h1.8M280.7 212h1.8M302.1 215.7h1.8M278.7 210.8h1.8M289.8 215.7h1.8M272.9 231.9h1.8M280.9 230.4h1.8M253.9 219.5h1.8M274.2 228.8h1.8M273.1 220.2h1.8M289.4 221.3h1.8M291.8 223.4h1.8M292.5 215h1.8M300.1 213.9h1.8M268 221.2h1.8M279.8 205.6h1.8M274 219.7h1.8M292.2 208h1.8M253.3 222.5h1.8M263.1 224.2h1.8M296.9 226h1.8M270.1 234.1h1.8M268.9 223.8h1.8M271.4 211.6h1.8M306.9 204.1h1.8M284 216.7h1.8M279.3 217.2h1.8M265.3 228.3h1.8M262.2 216h1.8M262.2 224.5h1.8M263 227.4h1.8M281.5 232.5h1.8M259.5 233.4h1.8M265.9 225.1h1.8M273.7 216.8h1.8M272.5 227.5h1.8M248.8 231.2h1.8M280.2 215.4h1.8M266.9 231.9h1.8M272.2 220.2h1.8M266 232h1.8M268.9 222.9h1.8M276.6 216.2h1.8M267.1 220.2h1.8M267.1 215.2h1.8M242.6 229.6h1.8M266 235.5h1.8M279.1 224.3h1.8M310.9 220h1.8M240.8 223.5h1.8M284.9 223.6h1.8M290.1 223.5h1.8M280.5 210.1h1.8M260.8 239.1h1.8M283.7 223.1h1.8M242 227.8h1.8M309.4 204.5h1.8M276.4 231.9h1.8M286.2 213.6h1.8M258.8 233.9h1.8M268.9 220.6h1.8M247.8 224.9h1.8M262.4 230h1.8M274.8 211.8h1.8M270 227.3h1.8M278.8 219.9h1.8M272.9 216.8h1.8M267.6 217.7h1.8M283.1 219.1h1.8M301.2 206.8h1.8M274.7 230.9h1.8M290.9 208.3h1.8M271.6 218h1.8M258.5 219.6h1.8M289.3 226.7h1.8M295.5 212.1h1.8M282.3 214h1.8M263.9 217.2h1.8M248.2 233.9h1.8M280.2 219.7h1.8M256.5 219.3h1.8M286 223.3h1.8M259.9 228.7h1.8M292 216.1h1.8M257.5 234.8h1.8M284.4 212.2h1.8M269.2 223h1.8M255.5 232.7h1.8M269.2 216.7h1.8M299.8 222.1h1.8M266.5 228.3h1.8M264.6 224.3h1.8M250.1 225h1.8M276.6 216.6h1.8M292.3 205.5h1.8M245.3 240.5h1.8M271.3 221.7h1.8M275.3 226.1h1.8M246.4 239h1.8M278.5 227.2h1.8M271.4 222.3h1.8M285.8 221.2h1.8M273.7 211.8h1.8M278.7 222.9h1.8M292.9 219.4h1.8M303.4 215.7h1.8M280.3 224h1.8M285.8 217.3h1.8M270 217.2h1.8M254.1 222.7h1.8M271.1 226.6h1.8M291.2 222.2h1.8M251.4 238.5h1.8M256.7 221.8h1.8M269.9 220.1h1.8M313.2 221h1.8M275.5 213.8h1.8M272.6 215.3h1.8M276.9 229.2h1.8M267.7 223.1h1.8M266.6 214.8h1.8M299.9 212.8h1.8M269.6 227.5h1.8M285.6 211.5h1.8M274.5 214.4h1.8M259.3 225.3h1.8M273 219.6h1.8M270 218.2h1.8M283.1 215.7h1.8M250.7 226.6h1.8M298.3 212.6h1.8M276.2 221.3h1.8M276 209.9h1.8M238.4 239.2h1.8M272.8 220.1h1.8M257.4 222.4h1.8M288.2 225.4h1.8M257.8 227.9h1.8M271.2 219.8h1.8M264.1 223.7h1.8M259.1 222.1h1.8M287.5 220.9h1.8M302.4 207h1.8M286.2 211.2h1.8M252.3 227.8h1.8M284.6 226h1.8M312.2 203.6h1.8M264.1 219.8h1.8M285.3 229.4h1.8M261.5 217.5h1.8M256.2 231.1h1.8M271.8 226h1.8M282.8 219.8h1.8M271 216.1h1.8M243.3 233.2h1.8M270.2 217.2h1.8M289.7 226.7h1.8M288.8 225.4h1.8M295.4 204.2h1.8M258.5 224.7h1.8M282.6 221.9h1.8M245.7 232.4h1.8M282.1 211.2h1.8M261.6 227.5h1.8M277.1 220.5h1.8M278.2 218.9h1.8M292.1 214.7h1.8M251 233h1.8M274.3 228.4h1.8M282.1 217.3h1.8M300.3 203.8h1.8M304.6 207.5h1.8M274 231.3h1.8M264.6 210.6h1.8M258.6 220.6h1.8M285.8 218.2h1.8M249.9 220.2h1.8M275.8 220.3h1.8M268.4 225.9h1.8M278.9 215.9h1.8M246.8 232.8h1.8M278.7 222.1h1.8M265 224.3h1.8M287 221.6h1.8M274.8 220.8h1.8M287.7 227.1h1.8M291.4 204.8h1.8M277.8 210.3h1.8M269.7 228.4h1.8M275.9 230.7h1.8M286.6 213.6h1.8M262.1 222.9h1.8M272.2 210.7h1.8M259 226.3h1.8M306.5 215.4h1.8M279.3 219.6h1.8M283.3 225.8h1.8M250.5 235.5h1.8M289.9 215.9h1.8M286.8 211.8h1.8M284.1 212.6h1.8M269.5 216.3h1.8M298.6 218.6h1.8M239.6 226.6h1.8M283 230h1.8M294.1 227.1h1.8M256.9 215.5h1.8M278.2 214.5h1.8M260 217.7h1.8M280 218.9h1.8M283.1 204.2h1.8M290.6 218.2h1.8M259.8 231.5h1.8M263.7 229.7h1.8M285.3 226.1h1.8M277.3 213.1h1.8M272.1 219.4h1.8M263.5 215.9h1.8M284.4 211.7h1.8M282.9 219.8h1.8M272.3 223.6h1.8M296.9 210.7h1.8M289.6 217.5h1.8M275 222.9h1.8M255.6 231.2h1.8M257.4 210.3h1.8M293.5 220.1h1.8M287.6 218h1.8M263.3 223.3h1.8M282.7 224.3h1.8M293.1 220.1h1.8M291.2 208.4h1.8M274.4 203.9h1.8M255.7 221.2h1.8M261.1 215.9h1.8M255.9 225.2h1.8M265.5 214h1.8M287.3 222.1h1.8M257.1 221.7h1.8M301.1 219.5h1.8M287.1 213.1h1.8M287 226.7h1.8M301.7 218.6h1.8M274 226.5h1.8M263.1 221.3h1.8M293.1 215.9h1.8M271.9 217.4h1.8M276.7 225.9h1.8M281 220h1.8M269.4 227.9h1.8M285.3 210.8h1.8M256.7 227h1.8M252.7 221.2h1.8M291.7 219.5h1.8M254 214.3h1.8M250 220.3h1.8M300.2 222.6h1.8M275.3 236.3h1.8M269.8 223.5h1.8M275.9 216.9h1.8M260.5 216.5h1.8M295.6 218.5h1.8M250.9 233.9h1.8M282.3 224h1.8M274.2 225.7h1.8M269.6 205.4h1.8M306.3 202.8h1.8M247.3 222h1.8M302.3 218.5h1.8M273.1 214.8h1.8M254.6 222.9h1.8M304.9 211.4h1.8M262 225.1h1.8M273.9 227.2h1.8M268.8 231.2h1.8M293.1 220h1.8M274 226h1.8M255.5 227.6h1.8M294 216.6h1.8M277.3 214.2h1.8M272.4 232.2h1.8M274.7 218.7h1.8M273.8 220.4h1.8M264.5 232.6h1.8M261.7 226.2h1.8M252.2 219.8h1.8M266.6 222.5h1.8M280 219.9h1.8M272.1 237.5h1.8M267.3 219h1.8M255 214h1.8M280.1 224.7h1.8M276.8 210.8h1.8M275.2 212.8h1.8M268.6 216.6h1.8M267.1 225.7h1.8M272.2 229.8h1.8M262.8 238.2h1.8M265.2 220h1.8M281.7 220h1.8M260.2 226.6h1.8M293.2 211.5h1.8M274.9 213.9h1.8M299.4 218.9h1.8M287.2 212.5h1.8M277.1 219.3h1.8M254.5 234.3h1.8M268.6 224.5h1.8M286.7 218.9h1.8M254.6 221.1h1.8M268.1 228.9h1.8M274.7 223.7h1.8M266.8 234.4h1.8M275.6 227.3h1.8M298.1 217.6h1.8M258.3 229.9h1.8M248.9 227.3h1.8M285.3 219.2h1.8M277.4 219.3h1.8M264.6 215h1.8M255.3 229.9h1.8M269.8 228.6h1.8M271.3 225.8h1.8M282.7 214.3h1.8M269.4 217.6h1.8M257 221.9h1.8M243.2 240.4h1.8M258.4 224.8h1.8M280.3 219.4h1.8M269.3 227.8h1.8M256.2 233h1.8M289.2 224.6h1.8M284.7 221h1.8M297.9 212.3h1.8M269.1 229.8h1.8M263.8 223.7h1.8M283 222.3h1.8M285 218.7h1.8M280.7 226.3h1.8M284 204.4h1.8M297 224.7h1.8M269 235.9h1.8M268.1 216.6h1.8M246 224.1h1.8M281.1 216.6h1.8M266.1 214.2h1.8M299.3 222.5h1.8M247.7 235.4h1.8M280.8 214.9h1.8M266.7 224.5h1.8M259.3 224h1.8M278.8 212.7h1.8M264.4 221.8h1.8M304.2 214.8h1.8M246.2 237.7h1.8M282.3 213.1h1.8M258.6 233h1.8M244 227.3h1.8M241.7 228.7h1.8M275.8 218.2h1.8M269.6 218h1.8M284 216.4h1.8M279.9 218.9h1.8M293 217.7h1.8M249.6 230.5h1.8M266.7 228.5h1.8M278.6 221.2h1.8M288.6 219.7h1.8M243.7 224.2h1.8M259.4 217.2h1.8M288.2 219h1.8M296.3 229.5h1.8M291.7 212.1h1.8M247.5 233h1.8M253.1 229.7h1.8M254.3 215.6h1.8M270 226.3h1.8M305.4 219.9h1.8M291.8 215.3h1.8M277.3 210.5h1.8M291.9 218.7h1.8M286.8 219.2h1.8M267.8 226.7h1.8M263.3 217.3h1.8M265 216h1.8M267.3 219h1.8M285.2 217.8h1.8M286.2 217.1h1.8M249.5 207.9h1.8M306.7 212.1h1.8M279.3 212.3h1.8M292.3 213.1h1.8M269.8 221.9h1.8M271.5 218.9h1.8M281 218.6h1.8M290.7 215.1h1.8M276.3 226.3h1.8M260.6 217.4h1.8M292.1 220.1h1.8M268.7 225.4h1.8M277.9 216.7h1.8M270.2 216.4h1.8M287.6 217.5h1.8M286.4 219.1h1.8M297 211.2h1.8M282.6 220.7h1.8M281.8 218.6h1.8M293.9 223.4h1.8M279.9 214.9h1.8M284.8 213.2h1.8M260.3 231.5h1.8M274.8 223.7h1.8M284.3 214.3h1.8M287.7 220.6h1.8M281.1 215.5h1.8M269.5 226.1h1.8M286.4 217.8h1.8M270.6 232.6h1.8M276.5 232.2h1.8M263 229.1h1.8M281.2 230.8h1.8M309 203.6h1.8M303.3 218.1h1.8M272.3 221.7h1.8M267.4 227h1.8M277.3 223.2h1.8M276.6 223.5h1.8M272.9 219.3h1.8M250.3 231.6h1.8M256.6 236.3h1.8M262.3 220.8h1.8M267.1 212.8h1.8M306.9 217.2h1.8M272.6 221.9h1.8M261.1 223.5h1.8M265.8 218.8h1.8M280.6 219.8h1.8M274.1 219.3h1.8M268.2 222.1h1.8M275.8 229.1h1.8M271.3 227.7h1.8M256.3 219.1h1.8M275.3 208.8h1.8M263.2 221.6h1.8M290.5 206.6h1.8M272.1 210.2h1.8M269.4 210.9h1.8M263.5 230h1.8M269.8 224.5h1.8M276.6 213.4h1.8M262.3 226.4h1.8M298.6 203h1.8M285.5 222.4h1.8M246.8 237.8h1.8M273.1 221.2h1.8M303.1 213.6h1.8M280.7 212.4h1.8M302.2 202.6h1.8M289.4 222h1.8M259.4 228.6h1.8M268.9 229.9h1.8M262.8 217.4h1.8M263.2 226.6h1.8M246.7 227h1.8M273.2 220.1h1.8M288 222.8h1.8M259.2 222.6h1.8M290.5 220.4h1.8M278.5 206.1h1.8M304 213.5h1.8M285.4 211.6h1.8M259.9 223.3h1.8M285.1 224.9h1.8M276 218.5h1.8M284.3 228.1h1.8M253.8 234.1h1.8M260 231.5h1.8M275.4 227.4h1.8M284.5 222.2h1.8M241.4 228.8h1.8M279.3 224.2h1.8M273.8 223.1h1.8M277.1 225.8h1.8M263.5 227.6h1.8M287.8 217h1.8M288.1 228.9h1.8M272.4 219.8h1.8M264.2 230.4h1.8M290.3 211.4h1.8M272.9 220.3h1.8M278.7 223.8h1.8M274.1 224h1.8M245.1 227.4h1.8M278.1 228.9h1.8M273.4 219.4h1.8M243.4 240.7h1.8M291 205h1.8M287.9 214.4h1.8M286.9 223.4h1.8M281.8 219.4h1.8M279.9 210.2h1.8M294 215.4h1.8M253.3 240.9h1.8M266.5 221.1h1.8M254.7 236.6h1.8M298.7 213h1.8M276.3 224.9h1.8M277.2 223.9h1.8M265.4 222.5h1.8M290.7 225.4h1.8M274.1 214h1.8M293.5 214.9h1.8M267 228.1h1.8M260 224.3h1.8M295.8 210.5h1.8M256.1 220.8h1.8M260 224.8h1.8M269.2 212.2h1.8M275.9 217.9h1.8M286.8 221.3h1.8M260.9 221.3h1.8M273 220.7h1.8M320.3 218.5h1.8M264 240.3h1.8M261.9 233.5h1.8M284.1 215.7h1.8M278.4 224.9h1.8M285.3 210.2h1.8M251.1 227.6h1.8M254.6 226.4h1.8M272.2 225.6h1.8M271.2 217.4h1.8M246.8 229.3h1.8M315.5 200.5h1.8M264.3 225.7h1.8M264.2 225.3h1.8M254 232.3h1.8M278.5 224.3h1.8M277.9 223.7h1.8M273.5 226.8h1.8M271.5 218.5h1.8M266.5 226.3h1.8M294.1 213.3h1.8M253.8 223.1h1.8M264.6 233.7h1.8M252.4 223.2h1.8M297.1 222.3h1.8M250.7 229.2h1.8M264.2 218.5h1.8M276.1 214.3h1.8M281 216.1h1.8M266.9 223.8h1.8M274.2 212.1h1.8M297 224.4h1.8M275 216.7h1.8M260.1 215.3h1.8M282.8 214.4h1.8M258.8 233.1h1.8M264.4 222.1h1.8M281.2 217.4h1.8M294.4 218.3h1.8M283.5 231h1.8M297.3 208.7h1.8M283 222.3h1.8M257.4 227h1.8M289.9 217h1.8M270.1 217.4h1.8M278.9 221.6h1.8M288.4 216.2h1.8M295 211.4h1.8M289.7 210.4h1.8M297.7 220.5h1.8M287.2 210.6h1.8M302.9 207.4h1.8M301.2 205.4h1.8M284.6 215h1.8M294.3 199.5h1.8M284.9 217.1h1.8M294.3 215.1h1.8M280.4 215.1h1.8M287.8 207.2h1.8M308.6 202.8h1.8M297.4 204.5h1.8M277 217.4h1.8M276.5 212.8h1.8M290.3 214.2h1.8M292.1 195.7h1.8M300.7 207.8h1.8M297.6 209.8h1.8M275 215.6h1.8M285 214.1h1.8M312.6 200.6h1.8M279.7 214.6h1.8M282.4 195.9h1.8M312 206.1h1.8M295.2 209.5h1.8M304.6 194.9h1.8M299.9 214.8h1.8M296.5 205h1.8M277.2 208h1.8M284.5 220.6h1.8M286.5 211.4h1.8M291.3 217.3h1.8M295.9 214.2h1.8M288.5 197.9h1.8M292.1 218.3h1.8M289.2 218.3h1.8M276 211.9h1.8M294.5 210.8h1.8M303.6 201.9h1.8M301.3 204.4h1.8M299.5 214.1h1.8M303.8 207.1h1.8M309.3 204.9h1.8M291.4 213.2h1.8M270.5 225.4h1.8M290.8 214.5h1.8M286.8 210.4h1.8M316.9 220.4h1.8M297.6 204.2h1.8M296.9 206.6h1.8M298.9 195.4h1.8M297.4 199.5h1.8M284.7 211.2h1.8M307.2 217.2h1.8M299.7 224.8h1.8M301.9 205.8h1.8M284.7 216.2h1.8M286.2 219.1h1.8M274.4 211.6h1.8M292.5 201.6h1.8M284.4 201.9h1.8M298.8 198.2h1.8M295.9 200.1h1.8M278.3 213.8h1.8M275.6 220.7h1.8M289.2 218.5h1.8M266.4 215.9h1.8M288.4 216.4h1.8M295.1 204.2h1.8M300.1 207.7h1.8M286.9 223.1h1.8M284.3 203.4h1.8M298 221.2h1.8M276.6 215h1.8M285.6 206.8h1.8M273.1 220.1h1.8M285.3 204.9h1.8M292.4 201.9h1.8M295.4 203h1.8M288.3 214.4h1.8M278.2 215.5h1.8M281 215.5h1.8M307.6 202.5h1.8M292.9 214h1.8M286 214.7h1.8M297.1 202.2h1.8M291.6 219.3h1.8M312 214.4h1.8M282.7 225.6h1.8M299.1 181.7h1.8M300.1 217.9h1.8M287.3 216.5h1.8M294.8 203.5h1.8M283.6 207.2h1.8M299.1 206.4h1.8M282.4 217h1.8M296 212.9h1.8M297.2 216.3h1.8M290.5 218.7h1.8M290.8 203.8h1.8M276.9 202.1h1.8M287.7 210.2h1.8M280.2 221.9h1.8M287.8 219.8h1.8M284.6 213.6h1.8M275.5 210.9h1.8M289 210.7h1.8M292.9 200.6h1.8M293.6 216.2h1.8M289.2 221.9h1.8M291 206.8h1.8M309.6 200.5h1.8M274.7 223.8h1.8M296.2 191.9h1.8M304.3 205.4h1.8M301.9 211.1h1.8M280.9 217h1.8M304.1 211.2h1.8M285.9 222.5h1.8M291.9 209.8h1.8M291.1 199.2h1.8M288.8 205.1h1.8M285.5 207.2h1.8M292.2 209.3h1.8M279.2 214.5h1.8M291.8 215.6h1.8M284.5 215.7h1.8M290 208h1.8M266.8 219.6h1.8M266 218.2h1.8M285.8 219.6h1.8M295.3 205.6h1.8M282.1 211h1.8M291.8 216.7h1.8M298.6 207h1.8M305.5 216.5h1.8M277.1 211.1h1.8M295.4 214.5h1.8M295.8 207h1.8M287.5 204.3h1.8M279.1 206.6h1.8M278.6 220.6h1.8M306.7 214.4h1.8M294.4 214.4h1.8M296 190h1.8M285.8 208.8h1.8M283.1 208.8h1.8M302.6 207.7h1.8M303.9 217.1h1.8M278.6 220.8h1.8M289.5 206.4h1.8M284.3 206.9h1.8M283.7 199.4h1.8M304.5 212.7h1.8M279.3 221.9h1.8M290.4 204.2h1.8M289 205h1.8M286.8 226.4h1.8M289.3 216.8h1.8M284.5 221.7h1.8M306.6 222.1h1.8M308.8 209.8h1.8M285.8 210.1h1.8M301.5 204.4h1.8M288 213.8h1.8M285.7 221.4h1.8M296 218.7h1.8M274.2 217h1.8M286.9 220h1.8M297.5 199.6h1.8M275.6 216.5h1.8M279.2 219.4h1.8M303.4 207.4h1.8M290.6 209.6h1.8M299.2 212.9h1.8M306.8 213h1.8M275.4 223.7h1.8M279.6 216.6h1.8M296.9 205.2h1.8M291.5 201.9h1.8M274.7 219.6h1.8M282.8 227.1h1.8M280.3 220.1h1.8M302.9 208.4h1.8M277.1 216.8h1.8M306.3 221.4h1.8M284.8 224.2h1.8M295.7 202.6h1.8M307.1 218.3h1.8M294.3 211h1.8M294.6 215.8h1.8M280.5 224.5h1.8M286.1 213.9h1.8M281.2 203.3h1.8M293.7 210.6h1.8M296.1 205h1.8M294.5 190.7h1.8M281 210.7h1.8M282.3 202.5h1.8M299.6 201.7h1.8M293.4 218.3h1.8M281.9 214.9h1.8M304.7 205.5h1.8M297.6 216.9h1.8M284.8 217.1h1.8M285.6 211.1h1.8M299.2 202h1.8M293 215.6h1.8M289.6 210.7h1.8M287.7 209.4h1.8M273.2 213.1h1.8M286.6 207.9h1.8M289.4 217.8h1.8M297.5 205.5h1.8M309.5 197h1.8M302.9 194.6h1.8M277.9 198h1.8M295.2 201.5h1.8M311.3 208.7h1.8M288.7 206h1.8M276.9 216.1h1.8M281.2 224.5h1.8M288.9 210h1.8M281.5 223.5h1.8M267 223h1.8M293.4 200.9h1.8M290.3 210.9h1.8M291.1 213.1h1.8M297.5 214h1.8M289.8 223.5h1.8M283 212.5h1.8M300.3 215.3h1.8M290.7 193.4h1.8M298.8 204.8h1.8M292.3 211.9h1.8M298.7 215.6h1.8M266.1 218.4h1.8M292.9 209h1.8M293.9 211.2h1.8M280.1 220.6h1.8M282 215.2h1.8M301.9 214.3h1.8M291.9 216.2h1.8M276.8 220.1h1.8M304.2 215.1h1.8M295.6 214.2h1.8M272.4 229h1.8M281.6 205.5h1.8M302.5 210.5h1.8M288.2 202.5h1.8M276.3 203h1.8M289.3 204.6h1.8M280.8 211.6h1.8M286.8 210.4h1.8M295.2 215.3h1.8M280.3 206.8h1.8M289 212.4h1.8M289.4 210.5h1.8M275.5 216.7h1.8M273.2 219.4h1.8M286.6 201.7h1.8M295.3 223.8h1.8M290.4 205.5h1.8M287.4 201.9h1.8M285 213.7h1.8M274.6 211h1.8M278.2 217.2h1.8M288.9 212.3h1.8M292.5 216.2h1.8M280.4 208.9h1.8M288.5 219.3h1.8M295.1 227.4h1.8M279.7 199.4h1.8M294.3 213.3h1.8M283.4 212.4h1.8M301.2 203.9h1.8M269.4 222.5h1.8M276.7 213.8h1.8M285.3 222.7h1.8M293.9 218.1h1.8M282.4 227h1.8M276.4 218.5h1.8M278.6 215.3h1.8M285.3 226.4h1.8M297.7 212.7h1.8M280.1 227.2h1.8M290.6 213.3h1.8M291.3 213.5h1.8M292.2 211.9h1.8M285.3 210h1.8M297 213.4h1.8M282.9 217.4h1.8M263.9 206.9h1.8M278.3 197.2h1.8M281.9 216.3h1.8M289.5 207.3h1.8M295.9 205.4h1.8M289.5 225.9h1.8M290.4 191.1h1.8M301.8 201.6h1.8M300 222.3h1.8M271 227.9h1.8M284.9 211.1h1.8M292.3 211.4h1.8M282.6 210.8h1.8M297.6 211h1.8M309.3 198.3h1.8M277.2 227.5h1.8M291.3 220.2h1.8M276.6 231.4h1.8M275.3 207.1h1.8M272.1 233h1.8M287.1 191.2h1.8M288.9 207.6h1.8M307.8 201.6h1.8M292.4 202.1h1.8M306.8 209.5h1.8M298 222.7h1.8M286.7 222.2h1.8M278.1 195.9h1.8M280.2 209h1.8M295.9 216.2h1.8M283.9 202h1.8M274.7 226.9h1.8M296.1 212.5h1.8M302.3 204.1h1.8M275.7 208h1.8M274.4 204h1.8M310.1 202.6h1.8M289.6 209.3h1.8M291.7 201.9h1.8M300.4 212.2h1.8M301.1 208.9h1.8M292.8 209.5h1.8M279.3 210.1h1.8M288.7 208.3h1.8M281.7 203.3h1.8M277.5 225.4h1.8M309.7 214.3h1.8M280.3 207.4h1.8M294.3 213.9h1.8M294.1 217h1.8M265.7 207h1.8M293.5 217.1h1.8M307.8 207.8h1.8M284.8 221.8h1.8M287.2 218.1h1.8M283.3 216.4h1.8M296.3 203.2h1.8M307.9 217.3h1.8M302.8 214.8h1.8M295.9 205.9h1.8M283.5 196.2h1.8M268.3 210.8h1.8M304.7 210.4h1.8M284 218.5h1.8M276.2 217.1h1.8M295.8 201.2h1.8M286 218.5h1.8M307.2 221.1h1.8M272.1 230.7h1.8M280.2 219h1.8M299.2 201.4h1.8M284.9 216.7h1.8M288.9 209.7h1.8M289.6 220.5h1.8M291.1 224.7h1.8M292.7 209h1.8M298.4 209.3h1.8M299.8 201.9h1.8M293.5 220.3h1.8M269.6 218.1h1.8M292.3 201.6h1.8M301.3 223.7h1.8M288.8 211.8h1.8M286.4 215.2h1.8M277 225.8h1.8M293.9 200.1h1.8M304.5 208.2h1.8M293.7 210.4h1.8M296.5 202.6h1.8M283.8 215.3h1.8M278.6 202.6h1.8M297.7 214.1h1.8M291.5 210.1h1.8M293.9 206.6h1.8M274.9 217.8h1.8M306 198.9h1.8M301.1 217.3h1.8M286.7 214.4h1.8M281.9 212.6h1.8M289.9 216h1.8M286.2 204.2h1.8M311.4 191.8h1.8M294 202.3h1.8M292 207.7h1.8M263.9 220.2h1.8M292.9 196.1h1.8M288.9 213.2h1.8M290.2 205.4h1.8M280.9 213.9h1.8M283.9 219.6h1.8M287.8 204.7h1.8M287.6 218.1h1.8M297.5 211.1h1.8M291.8 205.4h1.8M286 214.4h1.8M291 205.3h1.8M286 217.5h1.8M280.3 216.2h1.8M269.1 201.4h1.8M270.6 212.1h1.8M288.6 220.1h1.8M294.2 206h1.8M302.7 211h1.8M302.8 209.7h1.8M309.9 199h1.8M282.3 215.1h1.8M279.3 209.8h1.8M291.8 214.6h1.8M289.3 202.6h1.8M274.9 203.6h1.8M294.9 224.2h1.8M276.8 216.1h1.8M296.5 205.3h1.8M309.9 200.9h1.8M293.2 203h1.8M292.8 205.5h1.8M287.6 206.5h1.8M286.8 228h1.8M301.1 216.4h1.8M258.3 230.6h1.8M284.2 213.4h1.8M286.6 233.6h1.8M298.5 206.4h1.8M299.5 199.5h1.8M297.9 212.7h1.8M299.6 217.7h1.8M293.2 205.8h1.8M274.3 212.7h1.8M277.9 208.1h1.8M293.4 229.3h1.8M300.2 206.1h1.8M295.9 212.8h1.8M284.5 228.1h1.8M286.4 210h1.8M287.2 223.8h1.8M306.7 208.7h1.8M285 202.8h1.8M297.9 209.9h1.8M287.9 211h1.8M283 209.3h1.8M273.6 209.4h1.8M290.6 211.4h1.8M304.1 204.2h1.8M306.5 203.8h1.8M316 203.8h1.8M281.2 218.5h1.8M307 197.8h1.8M298.8 212.9h1.8M310.4 194.4h1.8M292.6 198.8h1.8M303.7 209.3h1.8M287.6 198.4h1.8M302.5 184.6h1.8M290.1 203.5h1.8M278.3 177.4h1.8M299.6 207.2h1.8M319.3 205.8h1.8M288 198.5h1.8M283.6 209.3h1.8M271.1 218h1.8M286.7 219.3h1.8M319.9 196.9h1.8M290.8 217.7h1.8M286.5 217.8h1.8M300.3 210.7h1.8M321.7 192.1h1.8M322.4 194h1.8M300.8 191.8h1.8M319.6 210.2h1.8M307.1 192.3h1.8M292.6 202.5h1.8M297.4 212.2h1.8M291.8 208.2h1.8M305.6 203.8h1.8M308.1 196.1h1.8M319.9 189.5h1.8M296.9 199.9h1.8M297.5 193.7h1.8M289.9 206.5h1.8M308.6 192.5h1.8M294.2 198.6h1.8M291 214.3h1.8M306.2 205h1.8M308.1 202.6h1.8M291.6 205.4h1.8M307.2 208h1.8M301.8 195.1h1.8M297 213.7h1.8M317.9 189.3h1.8M296.3 211.4h1.8M297.9 191.5h1.8M296.3 217.8h1.8M303.7 200.1h1.8M302.4 195h1.8M288.1 214.7h1.8M291.9 208.1h1.8M315.9 211.7h1.8M296.5 211.9h1.8M299 217.4h1.8M307.3 206.9h1.8M309.7 208.4h1.8M283.1 201.7h1.8M278.8 194.4h1.8M291.5 191.3h1.8M300.9 197.3h1.8M312.6 222.5h1.8M316.7 202.3h1.8M294.1 201.3h1.8M268.8 216.7h1.8M294.5 208.9h1.8M271.2 203.3h1.8M316.5 196.4h1.8M298.1 209h1.8M296.2 202.9h1.8M291.5 202.4h1.8M298.1 183.5h1.8M310 207.8h1.8M301.3 195.6h1.8M315.7 212.4h1.8M305.6 206.9h1.8M280.7 175.9h1.8M314.2 197.3h1.8M290.4 206.6h1.8M299.3 213.2h1.8M300.9 197.5h1.8M304.9 219.7h1.8M308 196.6h1.8M304.8 179.9h1.8M275.6 211.6h1.8M290 202.5h1.8M300.8 205.5h1.8M282 197.2h1.8M294.2 189.2h1.8M302.4 195.6h1.8M280 211.9h1.8M283.6 214.1h1.8M291.9 201.7h1.8M294 187.2h1.8M293.4 198.6h1.8M312.8 200h1.8M295.7 200.6h1.8M286.7 216.3h1.8M288.2 197.6h1.8M290.4 220.9h1.8M284.1 226.6h1.8M290.4 218.5h1.8M312 198.4h1.8M296.9 212.7h1.8M325.7 206.9h1.8M283.7 186.5h1.8M296 191.3h1.8M289.1 226h1.8M299.2 213.3h1.8M285 205.5h1.8M315.5 194h1.8M296 190.7h1.8M302 204h1.8M295.5 222.6h1.8M298.5 194.8h1.8M296 197.4h1.8M288.5 208.9h1.8M312 186.8h1.8M294.5 209.1h1.8M284.4 226.1h1.8M330.8 164h1.8M331.4 162.4h1.8M327.4 164h1.8M320.4 170.7h1.8M328.6 160.5h1.8M333.3 163.8h1.8M329.6 164.3h1.8M323.9 167.1h1.8M320.4 167.5h1.8M326.3 167.2h1.8M326.1 162.4h1.8M321.2 162.7h1.8M332.9 162.5h1.8M326.5 167.2h1.8M335.3 165.9h1.8M335.4 166.5h1.8M334.9 164.6h1.8M332.3 166.6h1.8M326.1 162.7h1.8M330.3 166.9h1.8M327 172.3h1.8M321.9 169.9h1.8M328.2 162.9h1.8M326.6 167.1h1.8M318.4 166.3h1.8M326.6 163.3h1.8M323.5 166.1h1.8M329.1 163.2h1.8M322.5 161.5h1.8M331.1 162.7h1.8M324.1 163.7h1.8M332.6 165.7h1.8M328.2 165.7h1.8M332.1 160.3h1.8M327 170.1h1.8M327.2 169.9h1.8M324.5 168.2h1.8M330.6 167.1h1.8M323.2 166.9h1.8M319.6 164.8h1.8M318.1 165.3h1.8M334.1 165.4h1.8M330.3 163.6h1.8M321.7 163.1h1.8M322.2 171.7h1.8M327.5 162.4h1.8M328.1 163.8h1.8M328.9 168h1.8M326.6 165.8h1.8M323.5 165.1h1.8M324.6 167.1h1.8M333.5 156.5h1.8M332.1 158.6h1.8M329.2 163.7h1.8M327.8 160h1.8M332.1 160.7h1.8M335 161.6h1.8M325.7 161.8h1.8M325.3 163.7h1.8M328 162.8h1.8M326.1 164.9h1.8M319.5 159h1.8M314.1 162.5h1.8M330.7 175.8h1.8M332.7 166.7h1.8M332.1 163.9h1.8M318.6 171.7h1.8M317.8 150.8h1.8M327.4 164.7h1.8M326.1 191.9h1.8M296.8 191.3h1.8M323 188.7h1.8M312.9 172h1.8M322.9 188.6h1.8M327.7 165.3h1.8M325 177.7h1.8M328.8 151.8h1.8M340.5 186.1h1.8M324.3 158h1.8M324.4 178.2h1.8M324.9 202.9h1.8M319.2 155.3h1.8M309 163.1h1.8M317.4 155.7h1.8M323.4 158.8h1.8M316.7 172.5h1.8M335.5 170.8h1.8M326.8 142.4h1.8M325.4 149.1h1.8M327.6 143h1.8M324.1 192.3h1.8M337.7 201.1h1.8M324.1 177.5h1.8M332.3 176.4h1.8M321.8 147h1.8M316.4 199.9h1.8M317.1 172h1.8M313.3 153.8h1.8M330.8 147h1.8M341.8 149.7h1.8M335.2 172.4h1.8M324 147.5h1.8M321.6 154.6h1.8M342.4 147.8h1.8M336.8 174.6h1.8M321.1 174.7h1.8M329.9 209.7h1.8M335 147h1.8M324.7 177.2h1.8M320.2 175.8h1.8M314 161.7h1.8M330.3 198.3h1.8M336.5 143.6h1.8M320.9 159.4h1.8M332.4 162.8h1.8M325.6 168h1.8M310.6 181.4h1.8M321.8 179.1h1.8M315 156h1.8M325.9 162h1.8M321.9 159.9h1.8M331.5 207.4h1.8M320.1 172.1h1.8M333 151.4h1.8M316.8 165.5h1.8M324.6 184.6h1.8M329.1 163.2h1.8M327.8 172.2h1.8M319.8 170.3h1.8M333.4 129h1.8M318.9 201.2h1.8M319.1 167.3h1.8M341.1 168.4h1.8M332.2 154.4h1.8M308.7 185.5h1.8M324.8 156.4h1.8M313.2 191.5h1.8M331.1 150.8h1.8M334.6 178.1h1.8M329.6 179.1h1.8M326.6 150.5h1.8M331 165.2h1.8M313.2 172.7h1.8M336.6 158.6h1.8M321.6 150.8h1.8M327.8 172.3h1.8M309.8 136.1h1.8M323.7 159.2h1.8M327.6 178.7h1.8M316.7 189.1h1.8M312.7 195.4h1.8M339.5 142.4h1.8M330.9 194.5h1.8M328 154.4h1.8M320.3 143.4h1.8M334.9 162.9h1.8M332.3 187.5h1.8M331.7 201.8h1.8M329.3 186.6h1.8M316.9 189.2h1.8M321.6 146h1.8M317.7 190.4h1.8M325.9 143.1h1.8M317.5 175.5h1.8M332 145.4h1.8M325.9 173.4h1.8M317.7 162.8h1.8M323.9 160.8h1.8M339.8 174h1.8M316.8 164.2h1.8M340.5 185.2h1.8M322.5 202.3h1.8M320.2 192h1.8M323.5 136.5h1.8M330.7 166.9h1.8M319.6 184.1h1.8M341.4 176.8h1.8M338.4 170.5h1.8M327.9 151.4h1.8M327.2 169.5h1.8M334.2 185.8h1.8M319 185.6h1.8M325.9 163.2h1.8M335.2 183.3h1.8M314.8 150.5h1.8M316.2 198.5h1.8M318 188.1h1.8M335.3 147.4h1.8M330.4 174.6h1.8M318.7 158.3h1.8M314.6 155.9h1.8M325 173.3h1.8M325.4 135.7h1.8M323.9 164.2h1.8M342.1 186.9h1.8M310.5 214.1h1.8M321.8 209.2h1.8M304.5 213.5h1.8M308.6 205.2h1.8M316.6 215.9h1.8M316.3 210.8h1.8M310 225.1h1.8M311.1 223.1h1.8M320.9 216.6h1.8M317.3 232.1h1.8M324.5 184.2h1.8M328 195h1.8M318.6 214.8h1.8M313.9 225.2h1.8M310.8 218.4h1.8M325.8 202.9h1.8M321.5 217.3h1.8M320.4 188.8h1.8M311.3 203.1h1.8M333.9 213.7h1.8M337.5 202.6h1.8M322.1 226.1h1.8M321.9 213.1h1.8M308.3 211.8h1.8M316.7 192.5h1.8M325 228.5h1.8M320.6 220.2h1.8M320.4 216.6h1.8M312.8 209.3h1.8M326.7 209.6h1.8M321.3 203h1.8M318.4 215.8h1.8M319.4 230.9h1.8M322.6 197.6h1.8M328.8 226.4h1.8M325.4 224.3h1.8M320.1 229.3h1.8M313 218.2h1.8M317.4 192.2h1.8M324 240.5h1.8M325.6 192.2h1.8M321.2 213.8h1.8M325.8 218.3h1.8M311.9 205.3h1.8M338.8 222.8h1.8M314 208.4h1.8M315.4 216.4h1.8M310.3 210.7h1.8M328.4 190.3h1.8M312.2 205h1.8M316.6 226.8h1.8M328.9 209.6h1.8M320.8 191.2h1.8M328.8 227.6h1.8M322.8 223.9h1.8M312.4 209.4h1.8M320.4 224.6h1.8M320.5 207.3h1.8M325.8 216.7h1.8M320 207.6h1.8M315.6 202.3h1.8M325.9 220.3h1.8M316.1 211.8h1.8M316.4 209.5h1.8M306.1 204.6h1.8M331.4 213.2h1.8M306.5 182.1h1.8M328.8 233.7h1.8M322 204h1.8M320.5 180.2h1.8M315.8 220.9h1.8M325.9 217.1h1.8M325.5 233.3h1.8M323.5 226.5h1.8M330.2 229.1h1.8M323.5 222.1h1.8M330.1 191.8h1.8M328.4 214.9h1.8M317.4 219h1.8M323.5 213.4h1.8M309.8 221.4h1.8M322 219.6h1.8M321.4 234.7h1.8M314.3 199.3h1.8M322.6 190.3h1.8M317.8 222.1h1.8M332.6 239.5h1.8M320.9 239.6h1.8M330.5 239.7h1.8M343.5 239.3h1.8M332 239.3h1.8M334.2 239.2h1.8M325.8 240.4h1.8M333.2 239h1.8M337.2 237.9h1.8M325.6 239.6h1.8M314.7 239.4h1.8M329.1 239.3h1.8M343.1 239.6h1.8M331.9 240.6h1.8M339.5 238.2h1.8M322.8 237.6h1.8M321.6 238.7h1.8M328.7 239.1h1.8M329.7 239.5h1.8M321.1 238.5h1.8" stroke="#606060" stroke-opacity="0.5" stroke-width="1.8" fill="none"/>
<path d="M267.2 222.9h1.8M266.1 227.6h1.8M271.2 226.4h1.8M288.6 212.5h1.8M276.9 227h1.8M238.9 235.2h1.8M285.9 217.8h1.8M268.2 216.9h1.8M288.3 215h1.8M262.1 217.4h1.8M264 218.5h1.8M263 228.3h1.8M265.8 230.6h1.8M280.3 219.7h1.8M270.9 219.6h1.8M264.8 222.4h1.8M286 212.8h1.8M265.9 231.1h1.8M305.6 210h1.8M277.6 222.4h1.8M244.2 231.9h1.8M287.3 230.9h1.8M307.1 219.6h1.8M289.1 220.2h1.8M285.8 208.2h1.8M254.5 222h1.8M260.7 226.5h1.8M278.2 222.1h1.8M265.3 225.4h1.8M270.9 231.5h1.8M269.7 222.2h1.8M270 218h1.8M280.7 224.3h1.8M275.5 218.5h1.8M263.1 227.5h1.8M304.9 216.3h1.8M278.2 219.8h1.8M276 213.7h1.8M269.7 224.4h1.8M294.1 212.5h1.8M243.9 239h1.8M255.3 226.7h1.8M258.4 229h1.8M248.9 230.8h1.8M253.8 221.7h1.8M280.1 231.2h1.8M250.4 236.2h1.8M246.9 235h1.8M258.8 219.2h1.8M266.7 236.4h1.8M268.8 219.4h1.8M281.2 216.7h1.8M275 231.2h1.8M260.5 207.4h1.8M294 224h1.8M276.2 217.6h1.8M282.1 217.4h1.8M262.7 230.2h1.8M297.4 222.4h1.8M303.1 212.2h1.8M271.9 223.8h1.8M269.6 221.9h1.8M250.1 231h1.8M257.6 229h1.8M284.2 201h1.8M286.1 226.6h1.8M284.9 225.9h1.8M268.7 225.3h1.8M272.6 220.2h1.8M292.9 210.5h1.8M268 223.9h1.8M307.6 211.3h1.8M268.1 224.8h1.8M282.5 226.6h1.8M261.7 227.1h1.8M272.9 224.5h1.8M259.5 228.2h1.8M268.7 220.7h1.8M260.7 219h1.8M274.8 221.4h1.8M272.2 218.9h1.8M267.7 224.7h1.8M270.3 234.9h1.8M274.8 212.2h1.8M256.1 220.6h1.8M280.7 223.4h1.8M271.3 221.8h1.8M263.9 212.9h1.8M273.3 229.2h1.8M260.3 232.1h1.8M265.6 217h1.8M260.9 227.6h1.8M272 206.4h1.8M259.7 219.8h1.8M287.6 216.5h1.8M273 219.5h1.8M255.7 226.6h1.8M256.4 216.3h1.8M284 220.1h1.8M261.1 225h1.8M280 223.1h1.8M248.5 226.9h1.8M269.3 225.2h1.8M268.4 228.8h1.8M263.4 235.7h1.8M290.6 225.2h1.8M303.7 207.3h1.8M273.5 217.7h1.8M264.6 212.3h1.8M270.8 227.8h1.8M259.8 231.3h1.8M266.3 216.9h1.8M262.8 219.8h1.8M277.2 224.4h1.8M249.9 223.4h1.8M257 219.4h1.8M290 234h1.8M243.2 233h1.8M268.3 217.7h1.8M291.1 228.7h1.8M286.9 217.8h1.8M285 223h1.8M238.2 223.1h1.8M268.4 233.1h1.8M244.1 234h1.8M273.4 211.4h1.8M271.3 217.3h1.8M280.6 230.2h1.8M262.9 233.2h1.8M265.3 219.4h1.8M284.8 222.4h1.8M263.7 219.6h1.8M257.8 225.6h1.8M259.4 225.5h1.8M283 215.7h1.8M276.4 225.1h1.8M275.4 224.9h1.8M264.5 217h1.8M294 212.3h1.8M265.3 223.3h1.8M265.8 227.4h1.8M290.3 219.5h1.8M256.4 226.8h1.8M281.2 229.7h1.8M283.3 225.9h1.8M261.2 223.5h1.8M262.5 225.7h1.8M261.3 234.8h1.8M277.8 216.2h1.8M264.7 230.9h1.8M296 218h1.8M281.9 219.5h1.8M256.2 225.2h1.8M294 211.4h1.8M277.4 234.4h1.8M258.5 230.2h1.8M280.4 215.4h1.8M267.2 218.5h1.8M259.7 225.9h1.8M285.9 213.2h1.8M266.1 216.1h1.8M246.6 223h1.8M293.6 223.4h1.8M238.5 231.5h1.8M273.6 223.8h1.8M303 222h1.8M270.1 224.4h1.8M283.4 211.7h1.8M279 221.6h1.8M276.6 224.8h1.8M283.6 219.3h1.8M287.3 210h1.8M280.6 215.8h1.8M267.5 220.3h1.8M265 217.2h1.8M292.1 212.5h1.8M290.1 224h1.8M286 218.8h1.8M269.8 223.3h1.8M284.9 219.6h1.8M282.3 222.5h1.8M262 226.8h1.8M278.3 222.6h1.8M293.8 216.9h1.8M282.7 215.8h1.8M285 205.9h1.8M282.1 221.3h1.8M277.6 205.9h1.8M289.4 214.9h1.8M278.4 204.9h1.8M259.9 229.5h1.8M255.2 202h1.8M284.3 231.3h1.8M293.1 220h1.8M285.5 208.8h1.8M275.8 219.5h1.8M278.2 234.9h1.8M284.1 224.7h1.8M270.6 226h1.8M284.7 211.7h1.8M274.3 235.1h1.8M270.6 216.7h1.8M245.9 234.2h1.8M267.3 219.9h1.8M285.1 214.7h1.8M276.8 217.1h1.8M279.7 212.2h1.8M266.6 221.2h1.8M274.1 215.9h1.8M293.5 230.3h1.8M270.8 229.3h1.8M283.3 208h1.8M261 216h1.8M298.8 217h1.8M270.9 221.3h1.8M244.5 224.8h1.8M294.2 219.1h1.8M278 213.1h1.8M280.3 214.6h1.8M299.9 212.5h1.8M275.7 212.4h1.8M301.5 208.8h1.8M269.8 226.9h1.8M264.7 219h1.8M274 230h1.8M270.2 221.6h1.8M257.5 230.2h1.8M283 223.6h1.8M294.4 219.6h1.8M267.7 234.2h1.8M297.2 201.4h1.8M265 223.6h1.8M289.6 210.3h1.8M261.3 223.5h1.8M250.4 231.1h1.8M296.8 220.1h1.8M285.6 211.2h1.8M262.8 235.9h1.8M281 219.2h1.8M274.3 223.1h1.8M285.2 221.8h1.8M250.5 216.2h1.8M253.3 229.9h1.8M272.5 223.5h1.8M266.6 217.7h1.8M303.4 217.6h1.8M255.7 219.4h1.8M291.9 228.5h1.8M276.9 229.9h1.8M251 219.5h1.8M270.7 207.1h1.8M274.4 220.3h1.8M278.6 215.6h1.8M268.2 230.4h1.8M277.3 205.6h1.8M290.4 217.5h1.8M290 222.5h1.8M254.9 224.2h1.8M279.7 213.5h1.8M240.2 231.9h1.8M267.7 223.5h1.8M265.8 226.3h1.8M256.9 229h1.8M279.2 226.2h1.8M292.5 210.7h1.8M276.5 226.1h1.8M290 216.7h1.8M296 208.7h1.8M266.8 220.3h1.8M246.1 233.2h1.8M277.5 226.1h1.8M266.5 230.8h1.8M286.1 214h1.8M270 206.6h1.8M283.1 214.3h1.8M303.9 213.7h1.8M279.5 226.8h1.8M284.7 217.8h1.8M264.8 226.5h1.8M291.8 219.2h1.8M292.5 219h1.8M268.5 216.5h1.8M273 215.3h1.8M286.9 217.9h1.8M278.9 219.7h1.8M292.9 218.2h1.8M257 224.9h1.8M261.5 221.5h1.8M308.1 220h1.8M282.1 212.8h1.8M279.5 212.7h1.8M274.8 215.9h1.8M276.8 218.4h1.8M266.8 228.7h1.8M286.9 222.1h1.8M266 213.4h1.8M280.3 214.4h1.8M241.4 235.5h1.8M275.7 223.4h1.8M265.4 224.3h1.8M291.4 220.4h1.8M268.1 222.9h1.8M277.3 217.8h1.8M265.3 217.7h1.8M288.5 215.7h1.8M238.9 232.1h1.8M245.3 221.6h1.8M277.3 227h1.8M256.1 226.3h1.8M283.1 224.8h1.8M304.1 209.1h1.8M259.1 226.8h1.8M272.8 215.4h1.8M270.3 226.1h1.8M282.8 216.5h1.8M301.4 203.8h1.8M272.5 220.5h1.8M313.3 211.5h1.8M302.1 210.4h1.8M271.9 215.5h1.8M275.2 219.6h1.8M292.8 225.5h1.8M268.2 215.7h1.8M249.1 223.8h1.8M270.2 235.4h1.8M302.7 219.5h1.8M274 227.4h1.8M244.3 218.3h1.8M266.2 226.2h1.8M263.6 216h1.8M265.2 222.1h1.8M252.2 226h1.8M272.5 220.8h1.8M252.7 235.6h1.8M263.4 232.1h1.8M245.4 229.7h1.8M284.3 218h1.8M241.1 235.7h1.8M267.5 228.4h1.8M278.2 220.1h1.8M264.7 226.1h1.8M290.7 215.8h1.8M290.2 214.3h1.8M279.6 215.7h1.8M291.2 210.3h1.8M248.7 223.2h1.8M252.2 224.6h1.8M272.6 218.9h1.8M259.5 223.8h1.8M280.6 209.9h1.8M278.3 216.9h1.8M274.5 226.6h1.8M286.7 223.3h1.8M260.2 217.2h1.8M265.9 223.8h1.8M289.1 213.9h1.8M275.5 220.5h1.8M283.7 225.4h1.8M278.7 212.1h1.8M267.5 219.4h1.8M290.2 221.6h1.8M287.1 221.5h1.8M258.3 229.4h1.8M289.4 224h1.8M252.8 208.5h1.8M236.4 233.1h1.8M277.7 223.9h1.8M267.9 217.5h1.8M237.5 224.8h1.8M273.4 218.1h1.8M252.6 238.6h1.8M255.1 223.5h1.8M297.5 213.7h1.8M288.5 224.9h1.8M295.4 208.2h1.8M252 231.8h1.8M272 219.8h1.8M256 226.6h1.8M267.9 219.7h1.8M268 223h1.8M284.8 213h1.8M290.8 214.5h1.8M260.2 220.3h1.8M268.9 220.6h1.8M268.9 225.3h1.8M274.9 215.1h1.8M257.5 230.7h1.8M277.8 225.6h1.8M256.9 222.3h1.8M262.3 214.9h1.8M319.5 228.2h1.8M263.7 224h1.8M264.6 224.3h1.8M289.6 213.9h1.8M300.9 198h1.8M250.5 227.8h1.8M273.9 218.1h1.8M263.2 224.5h1.8M256.3 235.7h1.8M280.3 217.3h1.8M283 209.5h1.8M281.4 226h1.8M264.5 221.1h1.8M256.1 232.7h1.8M284.9 221h1.8M279.9 215.3h1.8M248.9 217.9h1.8M259 218.5h1.8M268.2 227.2h1.8M291.4 225h1.8M282 223.4h1.8M268.9 228.2h1.8M278.6 223h1.8M274.4 213.5h1.8M280.1 220.2h1.8M283 218.1h1.8M256.3 217.3h1.8M291.6 213.9h1.8M294.9 220.4h1.8M256.6 225.9h1.8M288.2 220h1.8M287.6 218.5h1.8M263.1 231.6h1.8M284.6 216.4h1.8M293.7 223.2h1.8M302.2 211h1.8M259 229.2h1.8M290 219.1h1.8M296.5 217.6h1.8M260 221.2h1.8M302.9 216.2h1.8M274.9 228.7h1.8M279.3 217.9h1.8M255.2 234.6h1.8M266.1 217.8h1.8M268.8 230.6h1.8M271.2 220.8h1.8M282.6 214.7h1.8M264.2 220.6h1.8M271.2 227.9h1.8M275.6 223.3h1.8M248.8 231.5h1.8M281 214.6h1.8M250.6 229.1h1.8M271.6 222.3h1.8M264.4 227.5h1.8M293.4 216.1h1.8M267.8 226.7h1.8M292.6 220.7h1.8M289 218.1h1.8M270.4 219.6h1.8M299.5 192.2h1.8M303.2 222.4h1.8M291.7 209.5h1.8M276.8 223.7h1.8M297.2 220.9h1.8M262.3 223.3h1.8M271.9 226h1.8M269.4 230h1.8M282.1 223.1h1.8M273.3 213.8h1.8M304.4 216.5h1.8M268.6 220.3h1.8M311.5 209.5h1.8M250.7 233.2h1.8M266.1 218.8h1.8M297.4 221.7h1.8M281 212.6h1.8M302.9 223.6h1.8M295.9 213.4h1.8M262.4 230.6h1.8M256.9 215.3h1.8M275.2 218.5h1.8M295.6 215.7h1.8M268 217.2h1.8M265.1 221.1h1.8M301.8 208.9h1.8M288.1 209h1.8M261.7 215.7h1.8M276.2 212.3h1.8M268.9 214.1h1.8M276.6 220.2h1.8M268.3 229.8h1.8M265.8 223.1h1.8M244.4 232.8h1.8M299.9 210.8h1.8M243.9 225.6h1.8M290.8 219h1.8M272.3 217.2h1.8M268.9 214.1h1.8M300.7 230.9h1.8M285.5 230.6h1.8M245.1 205.9h1.8M288.4 220h1.8M289.6 218h1.8M266.7 223.2h1.8M251.1 230.3h1.8M264.1 234.3h1.8M260.4 235.1h1.8M293 229.1h1.8M263.8 219.8h1.8M279.7 227.7h1.8M271 229h1.8M263.7 231.4h1.8M291.4 208.6h1.8M270.3 211.2h1.8M243.5 230.9h1.8M273.6 213h1.8M268.6 210.1h1.8M239.5 233.9h1.8M269.9 223.6h1.8M304.7 213.3h1.8M304.7 216.9h1.8M279.3 216.1h1.8M266.2 227.2h1.8M263.3 217.7h1.8M256.8 230h1.8M271 220.4h1.8M282.7 219.7h1.8M296.4 209.8h1.8M263.9 223.8h1.8M287.5 222.8h1.8M264.1 230.1h1.8M272.3 219.8h1.8M265 216.1h1.8M257.7 232.7h1.8M276.9 218.7h1.8M297.3 209.8h1.8M292 215h1.8M285.5 234.1h1.8M265.7 225.1h1.8M252.9 233.6h1.8M286.6 232.4h1.8M281.2 220.4h1.8M259.9 227.1h1.8M267.8 223.2h1.8M257.1 229.9h1.8M269.6 222.7h1.8M277.4 227.5h1.8M281.4 220h1.8M287.2 223.3h1.8M248.8 233.8h1.8M258 233.7h1.8M272.4 218.4h1.8M259.5 226.1h1.8M261.3 221.3h1.8M282 227.1h1.8M251 234.2h1.8M250.9 235.9h1.8M259 228.5h1.8M287.6 208.4h1.8M274.2 216.5h1.8M255.7 238.2h1.8M266.3 231.9h1.8M300.8 234.3h1.8M245.7 225.2h1.8M293 221.3h1.8M294.8 215.2h1.8M242.1 226.5h1.8M288 226.9h1.8M258.2 224.7h1.8M286.8 223.6h1.8M316.5 212.3h1.8M273.5 213.4h1.8M276.3 219.5h1.8M274.5 219.9h1.8M267.9 212.6h1.8M278.6 221.4h1.8M271.7 219.6h1.8M279.5 224.1h1.8M269.3 218.2h1.8M286.8 222.2h1.8M268 222.6h1.8M293.5 222.3h1.8M272.6 222.7h1.8M286.7 214.7h1.8M304.3 204.6h1.8M239.6 222.6h1.8M274.5 225.5h1.8M293.3 224.7h1.8M274.1 223.7h1.8M248.3 224.9h1.8M265 224h1.8M285.5 216.4h1.8M258.3 210h1.8M265.9 223.5h1.8M271.7 222.5h1.8M304.8 206.7h1.8M286.8 215.7h1.8M294.3 213h1.8M290.5 213.7h1.8M283 223.2h1.8M271.2 228.5h1.8M272.2 228.5h1.8M260 221.5h1.8M257.6 229.2h1.8M272.9 222.1h1.8M296.5 219.6h1.8M254.5 218.1h1.8M271.7 211.5h1.8M287.3 204.9h1.8M279.8 215.6h1.8M289.7 207.4h1.8M292.7 221.7h1.8M262.5 233.4h1.8M287.2 208.4h1.8M296.4 214.1h1.8M294.8 200.8h1.8M292.9 222h1.8M274.1 217.9h1.8M286.7 215.6h1.8M295.4 223.2h1.8M265.6 217.1h1.8M259.8 219.2h1.8M285.4 218.3h1.8M248.9 224.3h1.8M280.9 217.3h1.8M260.7 212.6h1.8M258.2 221.5h1.8M266.5 223.9h1.8M269.5 224.9h1.8M280.2 209.7h1.8M278 209.4h1.8M281.9 223.8h1.8M281.8 227.1h1.8M277.9 213.1h1.8M258.2 231.9h1.8M276.8 216.8h1.8M250 226.5h1.8M272 219.4h1.8M272.3 221.7h1.8M278.6 219.7h1.8M264.2 226.8h1.8M269 230h1.8M299.2 221.3h1.8M266.1 216.5h1.8M259.6 233.8h1.8M261.8 228h1.8M272.6 233.5h1.8M282.9 228.2h1.8M275.9 227h1.8M285.1 218.2h1.8M255.1 218.9h1.8M256 220.2h1.8M271 217.5h1.8M276.1 218.9h1.8M274.4 220.6h1.8M259.2 232.4h1.8M279.1 209.9h1.8M239 228.2h1.8M285.8 218.1h1.8M279.2 217.1h1.8M271.3 214.7h1.8M282.8 225.3h1.8M304.4 214.1h1.8M268.1 218.6h1.8M267.5 222.8h1.8M293.3 210.1h1.8M267.3 223.1h1.8M274.2 212.2h1.8M286.2 216h1.8M311.8 215h1.8M289 211.2h1.8M246.2 227.5h1.8M293.8 214.5h1.8M251.4 223h1.8M268.6 221.1h1.8M256.4 222h1.8M277.3 227.8h1.8M284.1 215.9h1.8M291.3 216.8h1.8M269.1 217.2h1.8M268.9 221.9h1.8M253.6 234.7h1.8M279.5 221.6h1.8M280.2 211.4h1.8M272.9 227.7h1.8M279.3 219.5h1.8M271.3 217h1.8M286.4 215.9h1.8M280.6 217.6h1.8M300.6 200.6h1.8M311.5 204.5h1.8M294 218.5h1.8M275.6 219.2h1.8M284.8 226.4h1.8M269.2 227.5h1.8M280.9 224.3h1.8M270.8 208h1.8M248.5 224h1.8M288.7 213.2h1.8M256.6 224h1.8M298.1 206.8h1.8M284.9 216.1h1.8M258.7 229.5h1.8M294.5 224.6h1.8M303.8 205.3h1.8M276.9 225.8h1.8M277.1 212.2h1.8M267.3 216.8h1.8M289.1 209.5h1.8M305.5 209.3h1.8M250.9 234h1.8M269.9 219.3h1.8M258.6 219.1h1.8M271.5 213.5h1.8M296.5 218.5h1.8M262.9 231.3h1.8M268.4 225.7h1.8M277.8 208.9h1.8M295.1 219.7h1.8M270.4 225.9h1.8M249.1 223.8h1.8M277.9 231.5h1.8M282.7 224.7h1.8M249.7 234.5h1.8M267.7 221.5h1.8M299.7 209.8h1.8M286.7 216.4h1.8M279.1 216h1.8M309.5 214.9h1.8M275.1 224.9h1.8M289.5 213.2h1.8M308.6 210.3h1.8M268.3 227h1.8M272 219.4h1.8M267.1 215.6h1.8M261.8 222.6h1.8M267.7 228.1h1.8M270 217.7h1.8M297.3 217.8h1.8M257.2 217.8h1.8M258.8 217.9h1.8M286.6 223.5h1.8M240.9 225.9h1.8M302.7 219.7h1.8M273.9 225h1.8M256.6 226.9h1.8M251.1 220.8h1.8M259.6 230.2h1.8M269.5 226.4h1.8M266.4 224.9h1.8M283.9 221.5h1.8M263.8 219.9h1.8M273 219.7h1.8M268.8 217.1h1.8M283.2 218.6h1.8M274.3 210.2h1.8M258.8 231.2h1.8M260.5 226.2h1.8M275.6 223.4h1.8M298.6 226h1.8M274.2 230.1h1.8M277.9 214.9h1.8M286.3 230h1.8M272.2 223.8h1.8M299.5 224.1h1.8M266.7 215.5h1.8M270.1 228.1h1.8M281.4 218.6h1.8M264 225.1h1.8M269.1 227.2h1.8M259.1 231.3h1.8M265.4 228.4h1.8M244.6 229.7h1.8M256.7 222.3h1.8M296.9 213.7h1.8M290.5 216.8h1.8M265.7 223.9h1.8M289.1 213.5h1.8M304.4 215h1.8M271.7 216.3h1.8M268.7 217.5h1.8M264.1 221.6h1.8M277.8 213.8h1.8M275.4 216.4h1.8M267.3 214.6h1.8M247.3 231.3h1.8M294 225h1.8M276 223.2h1.8M274.9 231h1.8M264.3 207.7h1.8M267.2 233.5h1.8M276.8 221.6h1.8M263.6 213.1h1.8M301.3 213.3h1.8M261.5 214.7h1.8M268.4 230.5h1.8M282.4 227.9h1.8M291.5 205h1.8M272.2 229.2h1.8M296.9 208.8h1.8M278.9 225.5h1.8M270.5 223.2h1.8M254.6 229.8h1.8M300.1 211.2h1.8M262.9 224.8h1.8M264.6 211.1h1.8M264.7 219.2h1.8M265.1 221.2h1.8M286.4 206.5h1.8M273.2 222.5h1.8M284.3 220h1.8M269.7 236.5h1.8M299.4 218.8h1.8M254.4 226.6h1.8M281.3 217.5h1.8M277.1 209.3h1.8M246.4 214.6h1.8M273.6 223.1h1.8M298.1 217h1.8M266.8 219.8h1.8M267.1 216.8h1.8M257.7 230.1h1.8M266.6 225.4h1.8M277.1 216.6h1.8M277.4 224.1h1.8M297.3 221h1.8M287.4 209.5h1.8M280.3 214.4h1.8M276.6 219h1.8M309.6 203.4h1.8M308.9 209.5h1.8M255.7 223.5h1.8M293.7 204.8h1.8M305.5 218.5h1.8M268 213.6h1.8M276.2 223.4h1.8M263.8 221.4h1.8M256.5 219.9h1.8M239.7 226h1.8M295 210.2h1.8M264.7 221.8h1.8M262.4 219.7h1.8M291.5 214.6h1.8M286.7 212.4h1.8M310 207h1.8M277.7 233h1.8M303.8 203.9h1.8M277.8 218.1h1.8M239.1 222.2h1.8M292.3 220.7h1.8M302.3 219.2h1.8M279.5 215.5h1.8M287.6 227.9h1.8M267.4 221.1h1.8M268.5 221.3h1.8M293 210.4h1.8M300.5 220.4h1.8M266 229.9h1.8M257.7 235h1.8M246.2 219.2h1.8M283.6 209.7h1.8M256.9 221.4h1.8M285.3 221.4h1.8M280.9 219.8h1.8M275.6 228.3h1.8M282.2 227.7h1.8M275.6 223.2h1.8M298.7 224.9h1.8M269.9 227h1.8M307.2 221h1.8M289.3 226.7h1.8M279.8 214.5h1.8M267.1 226.1h1.8M264.2 231.3h1.8M297 226.1h1.8M272.9 229.2h1.8M262.6 213.3h1.8M258.9 221.6h1.8M284 212.4h1.8M275.6 221.4h1.8M252.8 234.7h1.8M291.1 219.4h1.8M279.9 214.8h1.8M255.3 230.9h1.8M272.3 223.1h1.8M252.4 231.7h1.8M287 223.4h1.8M285.6 227.8h1.8M258.7 224.9h1.8M259.1 214.9h1.8M292.2 211.6h1.8M260.6 229.4h1.8M247.3 235.5h1.8M264.2 227.4h1.8M275.1 217.2h1.8M252.4 222.2h1.8M272.1 212.7h1.8M283 225.4h1.8M289.1 219.4h1.8M304.7 219.7h1.8M275.9 215.6h1.8M293.6 210.1h1.8M258 222.4h1.8M292 210.2h1.8M298.6 216.8h1.8M268.5 211.6h1.8M296.9 219.4h1.8M257.7 218.5h1.8M274.8 226.5h1.8M281.4 221.7h1.8M283.5 218h1.8M281.4 212.4h1.8M257.5 218.5h1.8M238.8 234.3h1.8M283.7 222.8h1.8M242.1 232.1h1.8M292.4 219.5h1.8M280.1 224.9h1.8M259.3 226h1.8M260.8 223.7h1.8M299.3 220.3h1.8M265 224.6h1.8M265.2 221.5h1.8M264.9 213.1h1.8M274.9 230.9h1.8M278.9 223.2h1.8M277.8 218.8h1.8M270.5 218.4h1.8M283.2 203h1.8M284.4 228.1h1.8M320.4 216.1h1.8M264.8 218.8h1.8M255.3 228.6h1.8M270.6 228.2h1.8M262 218.3h1.8M247.6 232.6h1.8M270.3 214.8h1.8M291 219h1.8M261.1 229.3h1.8M264.4 217.8h1.8M246.9 233.8h1.8M277 219.6h1.8M264 227.2h1.8M254.3 226.7h1.8M269.3 230.3h1.8M283.8 208.4h1.8M275.9 220.1h1.8M299.3 213.5h1.8M284.4 214.3h1.8M279.9 220.9h1.8M279.7 211.9h1.8M288.3 219.2h1.8M277.8 225h1.8M293 222.6h1.8M282.2 227.8h1.8M272.4 223.2h1.8M278.6 228.6h1.8M283.9 212.9h1.8M284.7 224.4h1.8M300.1 212.6h1.8M264.8 223.6h1.8M267.5 226h1.8M277.1 224.6h1.8M294 219.9h1.8M264.3 225.9h1.8M268.5 216.7h1.8M295.2 222.3h1.8M289.7 216.8h1.8M287.1 222.4h1.8M289.8 215.1h1.8M263.5 220.6h1.8M265.3 217.8h1.8M282 218.6h1.8M294.6 210.2h1.8M248.8 230.1h1.8M250.4 228.9h1.8M292 218.3h1.8M277.1 226.9h1.8M299.2 213.1h1.8M264.3 225.8h1.8M283 209.8h1.8M290.2 213h1.8M286.8 219.7h1.8M278.9 218h1.8M270.4 222.4h1.8M278.7 216.2h1.8M276.9 218.8h1.8M265.2 225.3h1.8M294 221.3h1.8M262.3 214.2h1.8M284.4 219.7h1.8M270.2 219.3h1.8M255.3 240.9h1.8M300.6 216h1.8M297.8 212.4h1.8M245.7 235.2h1.8M263.7 220.2h1.8M289.5 212.9h1.8M253.9 230.7h1.8M237.3 229.9h1.8M278.8 212.1h1.8M262.7 223.3h1.8M287.3 213.9h1.8M291.1 215.5h1.8M263.6 221.1h1.8M286 223.7h1.8M273 217.9h1.8M270.3 213.6h1.8M279.8 216.1h1.8M267.6 216h1.8M275.3 221.8h1.8M254.6 224.1h1.8M258.6 229.5h1.8M259.6 219.8h1.8M273.5 216.4h1.8M253.7 216.2h1.8M283.4 225.2h1.8M280.2 214h1.8M285.7 220.3h1.8M282.2 224.7h1.8M277.1 225.5h1.8M274 216.2h1.8M263.1 224.9h1.8M271.6 224.5h1.8M278.5 227.4h1.8M255.3 227.1h1.8M273.6 222.6h1.8M267.1 216.5h1.8M265.7 223.9h1.8M275.7 222.9h1.8M279.1 210h1.8M278.1 226.2h1.8M271.1 213.9h1.8M278.4 218.6h1.8M262 221.4h1.8M270.5 222.5h1.8M303.8 215.3h1.8M267.9 224.6h1.8M256.1 231.1h1.8M303.2 214.4h1.8M268.6 226.7h1.8M281.9 212.5h1.8M267.6 215h1.8M270.3 225.6h1.8M256.7 219h1.8M279.5 216.3h1.8M260.8 226.2h1.8M276.1 213h1.8M295 219.4h1.8M261.7 229.1h1.8M248.6 215.2h1.8M278 219.2h1.8M270.4 219.5h1.8M259.6 206.9h1.8M254.8 235.5h1.8M254.6 222.7h1.8M268 233.5h1.8M267.6 221.1h1.8M287.5 213.9h1.8M236 223.9h1.8M262.6 232.6h1.8M253.6 223.6h1.8M305.6 211.1h1.8M277.6 230.7h1.8M276.9 210.1h1.8M259.6 218.5h1.8M256.9 226.7h1.8M290.6 217.3h1.8M273.1 228.9h1.8M266.3 214.4h1.8M268.4 223.1h1.8M257 228.7h1.8M266.8 226.7h1.8M290.1 222.8h1.8M248.6 231.6h1.8M273.5 225.1h1.8M253.3 225.2h1.8M262.5 226.2h1.8M266.9 218.3h1.8M272.9 215.9h1.8M268.8 216.9h1.8M288.3 214.7h1.8M265.8 225.6h1.8M256.8 227.5h1.8M265.5 224.6h1.8M267.9 223.4h1.8M281.6 229.4h1.8M295.4 219.4h1.8M258 240.8h1.8M277.7 210.2h1.8M259.1 224.3h1.8M262.9 230.1h1.8M259.9 217.4h1.8M268.1 221h1.8M270.4 218.9h1.8M267.5 222.2h1.8M261.3 224.8h1.8M311.6 211.7h1.8M269.1 231h1.8M285.1 222.5h1.8M284.9 214.1h1.8M263.8 218.1h1.8M271.9 212h1.8M271 227.3h1.8M268.8 218h1.8M248.9 229.8h1.8M277.5 213.6h1.8M265 222.4h1.8M248.7 222.4h1.8M255 222h1.8M273.6 222.5h1.8M276.1 223.1h1.8M268.2 222h1.8M259.8 226.1h1.8M275.9 215.9h1.8M254.7 217.1h1.8M270.2 231.1h1.8M295.2 222.7h1.8M267.6 221.9h1.8M300.8 212.5h1.8M273.7 210.1h1.8M283.1 219.6h1.8M279.9 219.5h1.8M278.6 211.7h1.8M263.9 230.8h1.8M268 217.3h1.8M250.4 226.6h1.8M261.7 221.4h1.8M277.7 222.1h1.8M261 230.1h1.8M283.5 205.6h1.8M271.9 223.2h1.8M253.8 217h1.8M273.4 213.2h1.8M251.3 227.3h1.8M265.1 231.8h1.8M276.2 230.3h1.8M293.6 222.2h1.8M265.8 235.3h1.8M288.9 214.2h1.8M283.8 221.7h1.8M295.2 218.5h1.8M271.1 229.4h1.8M271 225.5h1.8M251.3 240.8h1.8M263.2 223.8h1.8M266.3 209.7h1.8M258.4 225.4h1.8M290 217.7h1.8M270.2 229.6h1.8M287.7 222.1h1.8M283.6 204h1.8M251.4 223.5h1.8M272.4 215.7h1.8M276.8 227h1.8M269.9 212.5h1.8M281 208.1h1.8M271.6 226.8h1.8M278.6 216.9h1.8M285.5 220.3h1.8M274.2 221.3h1.8M272.4 230.5h1.8M286.5 223.7h1.8M276.6 219.7h1.8M285.9 220.5h1.8M286.1 211.6h1.8M275.2 213.5h1.8M276.8 223.2h1.8M268.3 224.3h1.8M236.3 212.9h1.8M272.9 225.3h1.8M278.9 228.3h1.8M280.6 228.5h1.8M263.8 225.2h1.8M242.1 235.5h1.8M262.1 217.7h1.8M289.5 216.8h1.8M291.3 215.3h1.8M252 220.2h1.8M284.5 216.9h1.8M262 208.3h1.8M259.5 223.9h1.8M263.1 225.4h1.8M287.5 219.3h1.8M289.4 217.9h1.8M272.9 226.9h1.8M270.7 229.4h1.8M291.5 211.5h1.8M260.6 220.3h1.8M266.6 220.8h1.8M273.6 220.4h1.8M258.4 215.2h1.8M279.4 220.2h1.8M245.8 222.5h1.8M290.3 215.6h1.8M236.5 224.6h1.8M282.4 234.4h1.8M283.4 222.3h1.8M254.6 221h1.8M262.1 226.3h1.8M287.4 208.8h1.8M273 225.1h1.8M262.3 222.4h1.8M246.7 235.7h1.8M297.9 209h1.8M282.8 213.6h1.8M308.7 210.9h1.8M266.5 221.8h1.8M258.8 225h1.8M253.9 216.7h1.8M296.6 203.8h1.8M294.2 217.7h1.8M279.1 211.1h1.8M251.9 222.4h1.8M280.3 223.3h1.8M274.5 218.7h1.8M286.6 220.6h1.8M269.5 219.4h1.8M287.5 220.9h1.8M251.4 224.6h1.8M286.5 224.4h1.8M263.5 225.1h1.8M275.3 226.6h1.8M269.1 225.3h1.8M282.7 233.3h1.8M277.4 226.8h1.8M267.4 226.2h1.8M278.6 228.3h1.8M266.6 212.4h1.8M285.9 211h1.8M275.2 221.5h1.8M255.1 236.5h1.8M246.5 216.8h1.8M286.9 212.6h1.8M270.1 229.1h1.8M277.7 217.2h1.8M271.2 214.7h1.8M278.4 228.9h1.8M274.8 221.9h1.8M305.2 209.8h1.8M269.6 199.3h1.8M262.2 220.4h1.8M253.2 231.2h1.8M260.6 225.9h1.8M279.4 226.4h1.8M284.2 224.2h1.8M270.6 227.5h1.8M258.4 221.2h1.8M305.8 218.6h1.8M270.1 228.4h1.8M262.8 231.7h1.8M283.1 216.9h1.8M283.1 215.7h1.8M262 233.5h1.8M294.6 219.7h1.8M271.6 213.9h1.8M285.2 215.9h1.8M249.3 228.9h1.8M283.8 227.2h1.8M291 213.7h1.8M274.4 220.8h1.8M254.8 225.4h1.8M248 228.5h1.8M281.2 221.6h1.8M270.9 220.8h1.8M287.3 217.6h1.8M291.6 220h1.8M277.8 219.1h1.8M284.5 216.7h1.8M266.7 226.9h1.8M278.1 217.2h1.8M287.8 221.5h1.8M301.9 213.4h1.8M279.4 227.1h1.8M291.1 224.5h1.8M287.6 210.9h1.8M271.2 217.5h1.8M273.1 213.8h1.8M260 225.2h1.8M264.1 219.6h1.8M298 207.6h1.8M269.6 226.8h1.8M297.5 217.6h1.8M286.4 212.6h1.8M256.5 232.3h1.8M273.4 215.3h1.8M277.5 226.8h1.8M252.8 230.9h1.8M308.1 213.1h1.8M285.2 213.4h1.8M275.5 226.6h1.8M259.5 225.6h1.8M283.9 211.7h1.8M254.3 223.4h1.8M275 225.3h1.8M240.9 225.8h1.8M269.6 216.5h1.8M257.4 232.2h1.8M258.7 228.8h1.8M301.8 220.4h1.8M310.8 214.6h1.8M306.9 209.4h1.8M260.1 229.3h1.8M297.2 223.1h1.8M247.1 226.2h1.8M319.4 214h1.8M265.1 222.4h1.8M291.3 215.1h1.8M275.7 221.7h1.8M293.8 223.5h1.8M267.8 221h1.8M255.9 221.7h1.8M293.3 209.1h1.8M269 214.2h1.8M257.4 220.4h1.8M279.7 208.5h1.8M279.6 221.8h1.8M294.9 222h1.8M272.3 230h1.8M292.1 203h1.8M266.8 231.1h1.8M271.7 235.3h1.8M272.8 233.1h1.8M260.6 222.1h1.8M278.2 220.4h1.8M283.9 228.5h1.8M283.9 220.1h1.8M285.5 225.6h1.8M272.2 223.3h1.8M258.8 217.3h1.8M296.8 230.6h1.8M255.3 224.4h1.8M286.4 218.7h1.8M262.2 224.4h1.8M287.8 212.3h1.8M282.7 217.2h1.8M269.2 219.6h1.8M265.3 223.2h1.8M299.8 211.2h1.8M278.2 214.8h1.8M309 216h1.8M282.7 226.6h1.8M280.6 229.4h1.8M278 222.3h1.8M302.7 212.2h1.8M274.4 222h1.8M265.9 224.6h1.8M292.4 226.1h1.8M274.4 222.3h1.8M303.5 213.1h1.8M281.2 221.9h1.8M287.5 231.4h1.8M270 217.1h1.8M269.9 226.7h1.8M291.6 228.5h1.8M302.6 205.7h1.8M286.8 211.6h1.8M277.4 219.4h1.8M283.8 210h1.8M266.9 222h1.8M313.6 223.8h1.8M287.2 213.6h1.8M293.7 226.9h1.8M298.2 213.8h1.8M270.3 222.5h1.8M273.1 214.8h1.8M302.6 219.7h1.8M295.6 214.5h1.8M271.1 218.5h1.8M279.8 218.2h1.8M265.6 226.5h1.8M275.3 227.3h1.8M299.8 209.2h1.8M266.4 217.7h1.8M252.7 230.4h1.8M276.9 231.4h1.8M266.2 221h1.8M256.2 225.8h1.8M275.6 208.1h1.8M279 206.4h1.8M274.2 218.2h1.8M290.4 207h1.8M310.1 201.8h1.8M260.1 214.7h1.8M312.4 209h1.8M280.1 233.1h1.8M290.5 217.5h1.8M285.5 223.6h1.8M285 228h1.8M269.3 210.9h1.8M259.8 224.4h1.8M283.2 218h1.8M289.8 220.2h1.8M270.1 226.8h1.8M283.2 223.4h1.8M282.9 226.6h1.8M275.3 225.3h1.8M279.1 223h1.8M273.9 223.8h1.8M245 237.1h1.8M265.8 219.2h1.8M266.8 217.2h1.8M281.2 226.5h1.8M253.1 233.8h1.8M263.9 221.3h1.8M280.1 213h1.8M282.8 225.2h1.8M271 213.8h1.8M283.3 224.6h1.8M277.4 224.5h1.8M266.1 228.3h1.8M252.6 227.3h1.8M268.4 216.6h1.8M276.7 230.4h1.8M285.1 205h1.8M267.5 226.1h1.8M259.5 230.3h1.8M273.1 215.9h1.8M275.9 221.3h1.8M306.2 206.5h1.8M254.4 227.6h1.8M277.7 219.2h1.8M260.3 216.7h1.8M303.6 189.8h1.8M250.4 239h1.8M286 220.8h1.8M280.8 215.7h1.8M263.7 214.1h1.8M310 212.3h1.8M249.3 222.3h1.8M271.9 235.2h1.8M271 213.5h1.8M273.2 217.2h1.8M252.1 219.4h1.8M291.9 213.4h1.8M299.4 214.8h1.8M277.8 222.5h1.8M289.4 212.6h1.8M258.6 238.9h1.8M300.2 206h1.8M255 222.5h1.8M277.4 220.8h1.8M239.2 226.4h1.8M280.3 214.6h1.8M286.9 228.9h1.8M250.6 229.7h1.8M273.4 215.4h1.8M295.2 220.3h1.8M288.2 218h1.8M299.1 221.1h1.8M273.2 222.2h1.8M259.8 218.6h1.8M279.4 224.7h1.8M287.7 229.3h1.8M282.4 225.6h1.8M298.3 220.5h1.8M268.5 229.4h1.8M289 207.2h1.8M271.6 216.4h1.8M270.8 219.5h1.8M266.7 215.3h1.8M288.5 209.7h1.8M247.9 236.9h1.8M254.4 227.2h1.8M271.1 220.4h1.8M276.3 217.8h1.8M281.9 221.6h1.8M278.4 214h1.8M277.6 215.6h1.8M276.6 216h1.8M243.2 225.5h1.8M275.2 215.5h1.8M266.2 223.4h1.8M284.9 209.2h1.8M253.4 235.4h1.8M263.6 217.2h1.8M271.4 212.9h1.8M279.3 226.5h1.8M320.2 212.6h1.8M242.1 231h1.8M276 213.9h1.8M265.3 229.7h1.8M276.6 211.1h1.8M292.2 215.2h1.8M295.9 210.5h1.8M303.7 213.6h1.8M267.4 224.6h1.8M289.1 208.1h1.8M274.9 227.3h1.8M255.3 211.3h1.8M292.3 210.5h1.8M276.6 215.5h1.8M239.4 235.5h1.8M266.6 218.6h1.8M255 233.7h1.8M256 221.7h1.8M265.8 220h1.8M292.2 208.5h1.8M310.7 210.2h1.8M273.4 217.5h1.8M297.5 218.4h1.8M278.2 223.7h1.8M241 225.7h1.8M297.4 213.5h1.8M283.4 221.3h1.8M254.4 223.2h1.8M277.1 211h1.8M286.8 213.2h1.8M262.3 224.7h1.8M278.4 218.6h1.8M267.6 219.1h1.8M289.8 219.3h1.8M283.7 223h1.8M260.6 224.8h1.8M272.4 227.9h1.8M281.4 222.4h1.8M271.1 212.6h1.8M245.3 226.8h1.8M240.3 237.5h1.8M269.6 231.6h1.8M240.6 222h1.8M281.1 219.9h1.8M265.9 222.9h1.8M273.2 224.5h1.8M275.9 235.7h1.8M269.7 221.9h1.8M266.6 223.6h1.8M264.2 221.2h1.8M259.3 220.2h1.8M298.3 209.8h1.8M259.2 233.1h1.8M254.4 229.1h1.8M240.6 240.6h1.8M276 227.4h1.8M290.4 225.5h1.8M273.1 222.5h1.8M277.6 220.7h1.8M317.6 224.9h1.8M281.8 216.2h1.8M291.2 210.9h1.8M276.6 220.4h1.8M258.1 231.3h1.8M256.4 218.8h1.8M277.1 218h1.8M255.5 223.7h1.8M273 207h1.8M289.4 215.3h1.8M257.8 229.7h1.8M279.3 223.9h1.8M273.4 226.6h1.8M263.7 221.3h1.8M291.2 208.9h1.8M264.1 233.6h1.8M249.8 233.8h1.8M248.4 232.5h1.8M282.7 213.1h1.8M274.6 217.6h1.8M269.7 218.5h1.8M279.1 217h1.8M294.3 217.6h1.8M283.5 215.2h1.8M267.4 215.4h1.8M268.2 220.5h1.8M292.2 232.7h1.8M282.5 230h1.8M292.5 217.1h1.8M292 215.9h1.8M275.1 228.4h1.8M293.8 209h1.8M265.2 224h1.8M244.7 230.7h1.8M271.5 221.7h1.8M270.7 218h1.8M274.1 231.7h1.8M269.4 214.3h1.8M282.1 218.2h1.8M252.8 220.7h1.8M270.5 218.4h1.8M302.6 215.7h1.8M270.1 217.5h1.8M276.1 209h1.8M291.5 212.6h1.8M297.8 213.7h1.8M266.3 222.8h1.8M266.7 223.8h1.8M270 215.1h1.8M254.3 229.9h1.8M258.2 226.5h1.8M258.3 219.4h1.8M272.5 220.4h1.8M250.9 212.9h1.8M270.9 225.7h1.8M319.7 213.4h1.8M277.9 229.5h1.8M263.8 234.5h1.8M293 214.1h1.8M293.5 220h1.8M281.7 233.1h1.8M287.2 215.7h1.8M268 222.3h1.8M267.5 209h1.8M266.4 223.4h1.8M274.1 214.2h1.8M283.4 211.3h1.8M237.8 229.5h1.8M298.6 195.4h1.8M270.4 211.7h1.8M274.4 220.4h1.8M281.3 222.6h1.8M279.3 219.3h1.8M260.2 225.4h1.8M271.6 222.2h1.8M294.1 211.6h1.8M238.5 231.4h1.8M274.7 222.9h1.8M264.6 230.5h1.8M269.8 227.5h1.8M295.9 198.6h1.8M281.2 216.1h1.8M269.9 228.5h1.8M276.7 213.6h1.8M298 208.7h1.8M309.6 215.2h1.8M260.2 229.5h1.8M282.6 217h1.8M286.3 222.2h1.8M270.3 213.9h1.8M294.5 222.9h1.8M280.4 209.2h1.8M277.4 215.2h1.8M260.3 225.6h1.8M271.3 225.5h1.8M283.2 220.9h1.8M288.1 211.9h1.8M287.1 220.2h1.8M263.2 232.9h1.8M278.3 234h1.8M275 211.9h1.8M286.9 223.2h1.8M265.8 228.8h1.8M286.7 215.6h1.8M283.9 206.1h1.8M269.5 216.3h1.8M286.1 223.4h1.8M277.5 215.9h1.8M284.4 222.8h1.8M255.4 236.6h1.8M256.9 224.6h1.8M306.8 222.1h1.8M255.1 224h1.8M246.6 231.9h1.8M262 225h1.8M288.7 203.5h1.8M281.1 226.8h1.8M296.2 211.2h1.8M269.2 229.2h1.8M267.9 226.9h1.8M266 219.5h1.8M281 225h1.8M256.3 221.3h1.8M274.1 226.9h1.8M270.1 222.3h1.8M272.5 219.8h1.8M295.9 215.5h1.8M266.1 238.5h1.8M287.6 213.3h1.8M270.1 229.1h1.8M280.4 226.3h1.8M288.2 221.1h1.8M270.2 221.2h1.8M273.2 218.6h1.8M278.8 228.4h1.8M253.7 230.5h1.8M267 212h1.8M245.3 228.3h1.8M284.9 219.3h1.8M272.5 215.5h1.8M273 216.7h1.8M276.8 218.5h1.8M292.8 221.1h1.8M257.8 219.7h1.8M253.1 222.7h1.8M292 215.6h1.8M300.8 218.6h1.8M311.4 214.7h1.8M285.8 225.3h1.8M288.5 218.1h1.8M272.1 219.5h1.8M273 211.1h1.8M273 211.5h1.8M249.8 236.7h1.8M268.7 234.7h1.8M263.8 233.2h1.8M297.5 212.7h1.8M277.3 222.2h1.8M271.4 234.1h1.8M272.1 218.5h1.8M299.5 217.4h1.8M263.8 224h1.8M241.6 224.7h1.8M283 215.8h1.8M289.4 201.9h1.8M298 215.3h1.8M259.2 225.3h1.8M277.4 215.9h1.8M282.6 216.4h1.8M242.9 235.8h1.8M288.9 221h1.8M274.2 219h1.8M254.9 220h1.8M260.4 237.3h1.8M263.3 228.9h1.8M276.1 227.8h1.8M259.6 234h1.8M263.2 225.9h1.8M255.1 213.7h1.8M276.3 222.6h1.8M281.2 213h1.8M262.4 225.5h1.8M253.3 225.4h1.8M278.6 229.5h1.8M276.3 213.2h1.8M278.4 224.9h1.8M277 222.7h1.8M273.7 228.6h1.8M265.7 219.1h1.8M268.3 227.4h1.8M294.7 216.9h1.8M294.5 208.4h1.8M265.5 223.4h1.8M291.2 212.1h1.8M282.4 210.9h1.8M281.1 222.7h1.8M292.1 214.8h1.8M286 220.6h1.8M305.1 213.7h1.8M281 224.6h1.8M280.8 228.8h1.8M278.6 217.9h1.8M269.6 212.7h1.8M265.6 213.5h1.8M305.5 225h1.8M240.1 221.6h1.8M273.7 219.6h1.8M278.2 210.8h1.8M303.3 208.3h1.8M272.1 227.7h1.8M258.9 218.4h1.8M264 223h1.8M276 213.6h1.8M291.5 212.5h1.8M276.7 222.1h1.8M262.3 227.1h1.8M246.8 220.9h1.8M258.5 228.5h1.8M263.8 222.2h1.8M263.5 210.1h1.8M263.4 222.2h1.8M266.2 226.4h1.8M288.9 215.6h1.8M264 236h1.8M305.8 209.6h1.8M259.6 226.3h1.8M281.7 225h1.8M246.8 238.5h1.8M294.7 228h1.8M274.2 205.5h1.8M296.6 215.1h1.8M252.4 221.9h1.8M279.5 221.8h1.8M244.2 232.8h1.8M272.1 227.1h1.8M295.2 213h1.8M277.4 226.5h1.8M272.5 217.6h1.8M242.2 229.5h1.8M281.7 219h1.8M277 212.9h1.8M246.9 231.4h1.8M265.6 233.1h1.8M277.7 222.8h1.8M276.5 211.7h1.8M253.3 218h1.8M278.7 219.4h1.8M266.6 232.7h1.8M237.5 229.5h1.8M267 223.3h1.8M258.8 227.4h1.8M261.4 217.3h1.8M268.9 229.1h1.8M287.2 216.4h1.8M268.4 218.4h1.8M262.6 212.7h1.8M264.8 224.2h1.8M280.5 229h1.8M290.4 215.2h1.8M269.5 228.9h1.8M283.6 222.3h1.8M283 218.1h1.8M259.9 224.7h1.8M293 228.8h1.8M287.2 224.1h1.8M256.2 213.6h1.8M297.5 207.4h1.8M277.3 210.3h1.8M251.7 233.1h1.8M259.2 227.9h1.8M293.7 212.1h1.8M268.6 225.8h1.8M282.6 220.8h1.8M259.7 225.7h1.8M282.7 219h1.8M257.7 225.6h1.8M277.5 221.3h1.8M278 219.8h1.8M266.2 235.3h1.8M291.2 216h1.8M253.3 224.2h1.8M293.2 207h1.8M291 211.3h1.8M265.1 218.1h1.8M269.2 213.9h1.8M289.3 217.4h1.8M304.3 206h1.8M269.2 225.3h1.8M264.9 224.1h1.8M278.9 224.6h1.8M249.8 233.8h1.8M266.6 229.4h1.8M294.5 211.2h1.8M260.7 227.7h1.8M289.2 213h1.8M250.5 221.9h1.8M279.6 219.4h1.8M281.7 224.3h1.8M281.7 216.6h1.8M270.8 219.9h1.8M260 217.6h1.8M257.4 234.7h1.8M287.3 222.9h1.8M252.4 238.3h1.8M284.2 222.2h1.8M269.2 221.4h1.8M288.6 222.3h1.8M282.4 223h1.8M264.2 219.2h1.8M281 208.3h1.8M272.5 223.3h1.8M277.6 226.3h1.8M261.3 214.8h1.8M264.2 231.2h1.8M267.6 222.3h1.8M262.2 227.2h1.8M257.9 221.8h1.8M282.2 211.5h1.8M272.5 224.9h1.8M287.6 215.1h1.8M279.5 223.1h1.8M262.8 223.2h1.8M301 217.7h1.8M252.6 220.2h1.8M259.8 215.4h1.8M252.3 230.8h1.8M291.7 201.2h1.8M276.1 220.7h1.8M262.8 222.8h1.8M269.5 231h1.8M278.2 223h1.8M276.9 218.8h1.8M255.6 236.4h1.8M287.2 219.2h1.8M278.1 226.1h1.8M263.2 222.7h1.8M284.3 211.4h1.8M260.9 227.6h1.8M271.4 215.2h1.8M286.7 217.8h1.8M252.2 223.7h1.8M263.9 233.2h1.8M251.3 236.5h1.8M268.3 224h1.8M280.5 218.2h1.8M279.5 218.3h1.8M255.5 221.7h1.8M279.5 225.7h1.8M264.2 221.9h1.8M271.4 232.3h1.8M277.2 222.1h1.8M262.8 228h1.8M277.5 220.8h1.8M263.8 226.1h1.8M290.8 215h1.8M276.2 218h1.8M286.3 207.5h1.8M287.9 216.7h1.8M287.3 218.7h1.8M282.9 218.5h1.8M290.9 211.4h1.8M284.7 222.5h1.8M308.9 209.2h1.8M288.9 216h1.8M264.2 230.7h1.8M274.2 217.7h1.8M291.8 203.1h1.8M289.2 210.8h1.8M282 215.3h1.8M278.3 218.8h1.8M269.9 218.3h1.8M280.1 221.3h1.8M278.7 213.5h1.8M267.7 216.9h1.8M275 217.2h1.8M250.8 230.6h1.8M303.6 204.3h1.8M249.9 226.2h1.8M288.9 224.3h1.8M275.7 223.2h1.8M274.9 214.3h1.8M248 225.5h1.8M281.5 226.7h1.8M259.3 227.7h1.8M296.9 219.1h1.8M280.7 216.3h1.8M270 225.2h1.8M285.9 215.5h1.8M282.3 210.9h1.8M286.3 229.5h1.8M292.7 212.8h1.8M277.8 218.4h1.8M275.1 227.8h1.8M268.8 220h1.8M288.7 208.7h1.8M277.3 219.6h1.8M272.9 230.3h1.8M270.2 221.3h1.8M253.5 234h1.8M271.6 211.9h1.8M271.9 222h1.8M259.1 230.4h1.8M297.1 222.9h1.8M256.8 237h1.8M264.5 221.4h1.8M257.6 232.4h1.8M271.8 229.6h1.8M279.1 217.1h1.8M272.2 222.1h1.8M282.5 209.9h1.8M278.6 224.7h1.8M299.7 207.7h1.8M281.1 221.6h1.8M289.6 211.2h1.8M257.9 230.3h1.8M295 214.2h1.8M258.1 232.5h1.8M278.3 223.3h1.8M265.3 233h1.8M273 219h1.8M272.5 216h1.8M281.7 218.6h1.8M254.3 222h1.8M287.5 225.6h1.8M294.1 213.6h1.8M265.7 225.7h1.8M248.8 231.1h1.8M281.4 227.7h1.8M259.1 227.6h1.8M306.5 203.9h1.8M280.2 215.8h1.8M294.4 219.5h1.8M255.3 227.4h1.8M278.8 226.1h1.8M271.1 223.3h1.8M273.7 213.5h1.8M268.6 231h1.8M247.9 230.1h1.8M269.3 216.9h1.8M255.7 230.9h1.8M266.7 220.2h1.8M292.9 220.3h1.8M255.3 224.5h1.8M282.7 217h1.8M252.9 216.2h1.8M256.6 222.3h1.8M264.5 219.7h1.8M267.5 212.8h1.8M237 226.5h1.8M273.1 228.5h1.8M264.7 237.8h1.8M280.9 223.2h1.8M276.9 229.8h1.8M285.7 228.1h1.8M271.1 221.1h1.8M285.9 207.1h1.8M240.9 232.8h1.8M266.6 228h1.8M308.9 207.1h1.8M267.1 215.6h1.8M263.2 217.3h1.8M266.7 217.3h1.8M276.2 217.8h1.8M283.9 237.2h1.8M279.6 237.3h1.8M264.1 229.3h1.8M258.1 237.9h1.8M285.9 208.5h1.8M278.1 225.9h1.8M268 227.8h1.8M305.4 203.9h1.8M274.7 214.6h1.8M275.4 224.2h1.8M271.7 206.5h1.8M280.1 213.7h1.8M260.1 228h1.8M277.2 217.1h1.8M280.7 218.9h1.8M260.3 229h1.8M264.2 219.2h1.8M272.2 218.7h1.8M278 218.7h1.8M271.9 231.1h1.8M274 227.6h1.8M289.9 221.4h1.8M263.5 228.5h1.8M257.4 220.7h1.8M272.1 208.8h1.8M261.4 218.5h1.8M290.3 217.7h1.8M275.3 219.1h1.8M284.7 218.4h1.8M277.9 212h1.8M247.5 229.8h1.8M309.1 213.9h1.8M283.8 200.6h1.8M243.1 229.6h1.8M287.2 225.7h1.8M266.8 217.7h1.8M266.4 225h1.8M291 213.3h1.8M264.7 215h1.8M278.6 216.2h1.8M290.6 220.9h1.8M250.1 225h1.8M262 225.6h1.8M266.1 230.8h1.8M271.9 238h1.8M257.3 222.7h1.8M294.4 216.8h1.8M284.5 220.4h1.8M266.9 219.9h1.8M273.9 223.3h1.8M250.9 226.7h1.8M278.7 230.7h1.8M268.6 223.7h1.8M281.6 226.8h1.8M274.5 216.1h1.8M292 215.8h1.8M251.8 216.2h1.8M273.1 224h1.8M269.7 220.5h1.8M260.1 231.9h1.8M264.6 215.5h1.8M315.6 204.3h1.8M287.5 220.5h1.8M275.7 223.9h1.8M273.8 221.6h1.8M302.7 216.7h1.8M290 208.3h1.8M299.9 225.4h1.8M286.3 226.3h1.8M275.9 226.8h1.8M268.6 227.3h1.8M267 231.3h1.8M263.7 225.2h1.8M246.3 229.2h1.8M277 214.5h1.8M275 212.4h1.8M254.7 221.5h1.8M281 222.9h1.8M261.7 231.4h1.8M278.4 225.2h1.8M269.8 213.8h1.8M277.3 214.8h1.8M293.2 211.4h1.8M269.9 228.7h1.8M276.1 218.4h1.8M285.7 223.7h1.8M257.8 215.6h1.8M263.6 227.3h1.8M269.2 221.2h1.8M273.2 213.9h1.8M272 221.9h1.8M281 213.6h1.8M272.4 231.9h1.8M271.3 225.4h1.8M275.2 204.5h1.8M287.6 223.3h1.8M285.3 227.3h1.8M276.9 231h1.8M288.6 223.2h1.8M272.6 222.5h1.8M287.8 215.4h1.8M255.2 220.6h1.8M271.5 210.4h1.8M261.8 226.5h1.8M281.9 217.1h1.8M251.7 237.6h1.8M279.6 231.1h1.8M261 221.7h1.8M261.4 219.6h1.8M287.9 219.6h1.8M300.3 221.1h1.8M271.8 220.1h1.8M255.7 227.9h1.8M256.7 233.2h1.8M275.8 214.2h1.8M276.6 221.8h1.8M263.4 227.1h1.8M270.6 235.5h1.8M299 215.3h1.8M274.8 227.4h1.8M258.2 221h1.8M256 232.2h1.8M269.1 218.7h1.8M270.4 220.5h1.8M280.8 202.8h1.8M283.1 218.1h1.8M276.4 234.7h1.8M277.1 206h1.8M296 210.9h1.8M277.1 207.7h1.8M289.2 212.4h1.8M282.8 209.6h1.8M279.4 217.4h1.8M296.9 208h1.8M273.4 220.6h1.8M277.3 227.6h1.8M292.2 213.9h1.8M278.5 221.6h1.8M284.9 207.4h1.8M294 209.3h1.8M297.8 200.7h1.8M283.2 210.6h1.8M282.7 203h1.8M296.5 212.9h1.8M285.1 218.8h1.8M284 211.7h1.8M283.1 215.3h1.8M310.2 207.8h1.8M284.6 223.3h1.8M301.2 203.7h1.8M297.6 206.9h1.8M297.8 211.7h1.8M293.5 203.9h1.8M297.2 226.3h1.8M300.9 217.7h1.8M278.2 217.5h1.8M283.9 218.7h1.8M285.1 215h1.8M307.7 213.7h1.8M292.1 202.9h1.8M284.8 219.2h1.8M293.2 221.4h1.8M289.8 213.3h1.8M285.5 209h1.8M288.1 213.5h1.8M283.3 204.9h1.8M279.9 215.4h1.8M275.8 206.3h1.8M289.5 211.3h1.8M268.1 209.4h1.8M295.1 226.6h1.8M293.7 208.8h1.8M288.3 209.8h1.8M291.3 216h1.8M283.6 221.1h1.8M295.1 207.5h1.8M300.2 192.8h1.8M294.4 198.5h1.8M287.8 211h1.8M309.2 197.2h1.8M294.1 203.8h1.8M288.5 228.2h1.8M284.9 196.4h1.8M285 221.4h1.8M294.8 222.6h1.8M299.4 217.6h1.8M269.2 213.2h1.8M298.4 207.9h1.8M296.2 207.6h1.8M280.6 223.6h1.8M292.8 212.6h1.8M286.5 218.2h1.8M302.2 206h1.8M296.9 202.9h1.8M285.8 208.6h1.8M291.4 208.8h1.8M304.9 204.2h1.8M276.6 215.7h1.8M291.3 200.8h1.8M307.6 201.2h1.8M275.1 207.5h1.8M271 216.6h1.8M262.9 223.5h1.8M310.1 209h1.8M270.7 220.8h1.8M278.9 209.1h1.8M294.8 223.2h1.8M303.1 212.7h1.8M274.7 217.7h1.8M292.1 218.1h1.8M279.9 231.2h1.8M293.8 222.1h1.8M284.5 211.7h1.8M297.1 214.1h1.8M282.6 210.5h1.8M280.4 208.9h1.8M280.8 214.8h1.8M291.8 201h1.8M293.3 226.9h1.8M278.2 197.7h1.8M306.1 215h1.8M301.1 217.4h1.8M276.4 215.5h1.8M293 202.8h1.8M293.3 216.6h1.8M290.2 206.8h1.8M276.7 218.8h1.8M315 201.4h1.8M291.1 219.8h1.8M292.7 208.1h1.8M280.7 206.7h1.8M292.8 221.3h1.8M305.2 213.3h1.8M289.9 217.9h1.8M272.2 207.8h1.8M283.3 218.9h1.8M302.5 210.3h1.8M286.9 225.7h1.8M293.3 208.8h1.8M321 202.6h1.8M278.7 223.3h1.8M280.2 216.9h1.8M286 206.4h1.8M302.4 196.3h1.8M280.8 212.1h1.8M300 202.2h1.8M284.1 229.2h1.8M295.7 223.2h1.8M309.8 207.1h1.8M298.3 200.9h1.8M286.8 201.8h1.8M278.1 217.3h1.8M296.7 207h1.8M277.8 218.7h1.8M299.7 214.1h1.8M296.6 211h1.8M300.7 203.7h1.8M286.3 209.6h1.8M268.6 231.7h1.8M302 209.5h1.8M290.1 230.4h1.8M287.7 226h1.8M303.6 212.3h1.8M299.4 203.8h1.8M293.9 212.6h1.8M282.5 208.8h1.8M294.9 193.1h1.8M288.7 212.3h1.8M295.3 221.7h1.8M300.2 214h1.8M284.9 216.2h1.8M287.8 217.7h1.8M287.9 231.8h1.8M293.6 209.3h1.8M294.6 214.5h1.8M302.6 198.8h1.8M282.8 217.6h1.8M303.3 214h1.8M286.4 215.2h1.8M294.3 210.7h1.8M295.6 213h1.8M275.7 225.3h1.8M279 218.8h1.8M280.8 214.2h1.8M289.3 210.4h1.8M307.3 222h1.8M301.8 206.6h1.8M304 202.3h1.8M277.7 219.1h1.8M282.6 215.4h1.8M297.5 214.5h1.8M287.7 229.4h1.8M299.7 228.9h1.8M299.9 202.4h1.8M300.8 210h1.8M300 213.6h1.8M281.9 208.5h1.8M292.6 205.3h1.8M283.3 221.2h1.8M276.1 208.6h1.8M289.9 213.2h1.8M287.7 207.8h1.8M277.1 228.4h1.8M291 209.6h1.8M296 212.4h1.8M293.8 201.6h1.8M293.3 203.6h1.8M268.6 211.2h1.8M300.9 208h1.8M306.9 200h1.8M288.7 224.5h1.8M291.8 209.8h1.8M304.1 204.8h1.8M279.4 214.2h1.8M296.2 202.4h1.8M275.8 222.4h1.8M288 210.1h1.8M289.4 207.6h1.8M315.5 200.5h1.8M289.1 202.7h1.8M278.9 210.7h1.8M286.6 215.4h1.8M288.4 206h1.8M300.1 217.6h1.8M283.4 207.9h1.8M292.6 224.2h1.8M294.5 211.1h1.8M294.4 212.6h1.8M274.4 224.6h1.8M294.6 208.5h1.8M277 218.2h1.8M289.5 223.4h1.8M294.3 214.4h1.8M292.4 218.4h1.8M288.1 223.5h1.8M296.1 206.2h1.8M287.3 208.7h1.8M309.6 214.6h1.8M280.4 216h1.8M278.7 218.2h1.8M281.2 222.7h1.8M290.1 207.6h1.8M285.8 216.4h1.8M318.9 194.8h1.8M302.9 210h1.8M284.3 211.6h1.8M270.3 199.3h1.8M279.3 201.2h1.8M298.4 205.7h1.8M279.8 226.6h1.8M282.1 205.9h1.8M274.2 217.2h1.8M274.8 212.8h1.8M294 205.1h1.8M283.1 226.4h1.8M279.1 203.2h1.8M304.2 201.2h1.8M296.4 210.1h1.8M284.1 214h1.8M285.5 212.9h1.8M299.4 205.1h1.8M288.8 222.4h1.8M280.3 216.1h1.8M296.9 195.9h1.8M279.3 215.4h1.8M276 212.6h1.8M277.6 215.2h1.8M289.5 214.9h1.8M276.7 212.6h1.8M289.9 206.4h1.8M288 211.3h1.8M295 220.1h1.8M302 208.3h1.8M294 198.7h1.8M306.8 214h1.8M270.3 224.9h1.8M286.6 209.6h1.8M288.1 214.5h1.8M306 205.9h1.8M290.8 207.3h1.8M295.1 213.5h1.8M284.4 204h1.8M284.4 201.3h1.8M304.7 205.1h1.8M286.1 224.7h1.8M267 216.4h1.8M266.3 229.8h1.8M294.1 214.6h1.8M300.3 205.5h1.8M302.8 204h1.8M287.5 213.4h1.8M307.6 204.9h1.8M296.3 204.5h1.8M285.8 211.9h1.8M299.6 206.9h1.8M273.7 226h1.8M307.5 208.1h1.8M290.5 209.9h1.8M305.4 200.6h1.8M286.5 198.9h1.8M288.1 202.8h1.8M283.3 208.9h1.8M270.8 217.4h1.8M297.5 220.5h1.8M274.8 222h1.8M279.2 213.4h1.8M292.3 213.2h1.8M288 226.9h1.8M291.4 212.5h1.8M290 211.2h1.8M291 205.4h1.8M312 207.5h1.8M306.5 213.6h1.8M275.6 219.6h1.8M277.2 215h1.8M286.4 227.7h1.8M279.4 219.7h1.8M287.7 203.8h1.8M292.1 216.7h1.8M311.7 211.2h1.8M268.5 213h1.8M304.6 202.1h1.8M276.7 211.8h1.8M275.9 214.2h1.8M294.5 206.8h1.8M285.2 216.7h1.8M291.2 210.3h1.8M293.2 208.2h1.8M285.2 221.4h1.8M274.8 213.9h1.8M286.7 208.4h1.8M296.3 207.2h1.8M302.5 198h1.8M302.9 208.2h1.8M288.8 208.6h1.8M296.4 210h1.8M293.2 213.9h1.8M317.4 201.1h1.8M295.4 223.4h1.8M291.6 223.6h1.8M278.9 206.7h1.8M288.4 212.3h1.8M294.5 213.6h1.8M286 198.4h1.8M278 218.3h1.8M290.1 200h1.8M264.5 229h1.8M294.9 217.2h1.8M299.9 222.7h1.8M294.4 204.4h1.8M296.1 201.3h1.8M295.3 214.5h1.8M288.1 217h1.8M296.9 223.1h1.8M280.5 207.7h1.8M266.2 212.6h1.8M271.6 213.4h1.8M301.8 209.4h1.8M303 208.2h1.8M298.4 204.2h1.8M295 208h1.8M310.8 222h1.8M293.9 208.5h1.8M296.2 208.8h1.8M277.1 207h1.8M296.3 210h1.8M276 220.9h1.8M297.2 207h1.8M292.8 220.5h1.8M287.4 209h1.8M270.9 227.9h1.8M306.7 203.3h1.8M280.2 217.9h1.8M299.5 205.4h1.8M292.5 219.1h1.8M296.5 200.4h1.8M300 198.9h1.8M288.5 217.6h1.8M287.8 213.3h1.8M296 195.3h1.8M291.9 218.7h1.8M302.1 204.2h1.8M278.4 213.1h1.8M278.1 207.4h1.8M289.8 208.4h1.8M275 218.3h1.8M289.2 208.8h1.8M289.4 203.2h1.8M276.6 210.2h1.8M270.1 214.9h1.8M272.5 220.7h1.8M288.5 228.7h1.8M304 200.7h1.8M271.4 196.9h1.8M273.7 228.3h1.8M275.6 202.2h1.8M306.8 209.9h1.8M284.8 205h1.8M302.4 203.7h1.8M287.8 214.2h1.8M285.9 206.3h1.8M286.8 215.4h1.8M290.5 219.2h1.8M293.8 210.8h1.8M294.9 205.3h1.8M289 216.9h1.8M290.6 202.7h1.8M304.1 199.9h1.8M299.6 208.8h1.8M290.1 200.8h1.8M310.7 204.5h1.8M299.6 200.2h1.8M307.4 203.7h1.8M288.3 215h1.8M293.7 221.9h1.8M275.4 213.9h1.8M283.8 222.7h1.8M293.8 200h1.8M296.4 211.8h1.8M265.8 209.6h1.8M311.9 214.4h1.8M288.8 206.4h1.8M306.5 210.7h1.8M297.4 211h1.8M302.1 214.9h1.8M295.7 220.1h1.8M288.6 205.3h1.8M291.4 216.6h1.8M287.8 215.4h1.8M294.3 216.1h1.8M288.5 227.5h1.8M280.4 213h1.8M308.8 218.5h1.8M293 196.2h1.8M281.2 214.8h1.8M291.4 213.3h1.8M295.3 208.8h1.8M273.8 205.9h1.8M296.1 206h1.8M285 206.7h1.8M277.1 223.3h1.8M285.9 208.8h1.8M292.8 213.6h1.8M278 208.6h1.8M269.9 225.7h1.8M291.4 213.4h1.8M317.4 210.3h1.8M304.5 198.1h1.8M285.5 225.7h1.8M313.6 203.8h1.8M288.6 208.8h1.8M282 213.6h1.8M282.3 222h1.8M289.2 217.6h1.8M291.7 207.4h1.8M274.5 213.5h1.8M274.4 220h1.8M279.6 212.8h1.8M285.2 202.1h1.8M293.2 208.7h1.8M283.2 210.4h1.8M311 203.7h1.8M277.5 212.7h1.8M313.9 195.1h1.8M296.2 223h1.8M276.3 220.4h1.8M294.5 212.9h1.8M305.8 200.9h1.8M310.1 199.7h1.8M303.3 200.6h1.8M306.5 218.7h1.8M316.8 209.1h1.8M267.2 221.1h1.8M317.5 204.9h1.8M298.6 194.9h1.8M279.3 207.1h1.8M300.1 199h1.8M277.9 202.1h1.8M302 189.9h1.8M311.8 189.9h1.8M293.9 190.3h1.8M290.7 197h1.8M287.6 170h1.8M292.5 210.3h1.8M306.3 194.6h1.8M301.7 209.2h1.8M301.7 212.7h1.8M299.5 203.5h1.8M292.9 222h1.8M300.2 201.1h1.8M299.5 189h1.8M298.8 177.8h1.8M301.1 200.6h1.8M295.4 190h1.8M302.3 190.7h1.8M322.8 185.8h1.8M298.5 200.7h1.8M293.3 201.4h1.8M281.9 201.3h1.8M297.6 213.7h1.8M309.3 197.6h1.8M304.8 209.8h1.8M300 203.1h1.8M299.2 203.9h1.8M303.7 206.9h1.8M298.3 199.4h1.8M282.8 203.7h1.8M308.2 197.2h1.8M297.6 220.3h1.8M287.2 225.2h1.8M315.7 195.7h1.8M290.4 210.8h1.8M314.4 185.7h1.8M303.7 193.9h1.8M279.3 223.8h1.8M301.7 195.6h1.8M300.2 207.4h1.8M298.6 193.8h1.8M299.9 193.9h1.8M296.8 208.7h1.8M309.3 180.6h1.8M283.4 195h1.8M296.3 229.6h1.8M292.6 187.8h1.8M290.9 214.8h1.8M297.8 189.2h1.8M286 202.6h1.8M299.7 190.8h1.8M285.6 223.6h1.8M307.6 199.2h1.8M291.9 196.9h1.8M297.1 180.8h1.8M307.2 208.8h1.8M291.8 196.3h1.8M318.2 171.1h1.8M292.8 193.1h1.8M283.6 210.9h1.8M292.6 203.3h1.8M303.6 200.9h1.8M302.9 213.8h1.8M282.1 211h1.8M284.7 211.8h1.8M310.6 204.6h1.8M291.7 186.8h1.8M281.8 234.2h1.8M290.6 185.2h1.8M316 196.5h1.8M307.8 192.6h1.8M305.1 207.1h1.8M285.5 191.7h1.8M296.3 216.4h1.8M299.9 183.4h1.8M301.3 177.1h1.8M328 188.9h1.8M299.2 190.9h1.8M286.8 196.4h1.8M302.5 201.5h1.8M294.8 202.8h1.8M303.7 208.2h1.8M269.7 197.1h1.8M284.6 200.1h1.8M273 214.8h1.8M293.5 208.1h1.8M283.5 207.5h1.8M288.9 217.4h1.8M294.5 203.8h1.8M295.6 185.6h1.8M297.1 194.8h1.8M286.1 189.1h1.8M290.2 209.2h1.8M296.3 195.9h1.8M294.9 222.4h1.8M309.4 201.3h1.8M260.6 218.6h1.8M286.5 217.2h1.8M292.2 202.4h1.8M283.9 205.1h1.8M284.7 199.7h1.8M300.2 199.8h1.8M296.3 203.4h1.8M316.5 176.7h1.8M285.8 208.5h1.8M316.1 178.5h1.8M295.2 183.7h1.8M297.3 181.4h1.8M320.2 193.2h1.8M291.3 214h1.8M283 196.4h1.8M295.6 212.9h1.8M296.7 207.7h1.8M307.8 218.3h1.8M283.2 198.2h1.8M303 190.6h1.8M287.6 215.5h1.8M301.3 207.3h1.8M281.6 211.5h1.8M286.9 207.7h1.8M290.8 206.2h1.8M282.5 169.4h1.8M289.4 197.3h1.8M281.4 195.6h1.8M274 209.2h1.8M304.3 202.5h1.8M297.6 206.8h1.8M322.7 166.9h1.8M324 165h1.8M331.2 168.8h1.8M329.6 162.7h1.8M322.8 163.6h1.8M323.3 162.3h1.8M329.6 160.2h1.8M325.8 166.4h1.8M327.4 170.2h1.8M326 168.9h1.8M321.6 165.6h1.8M327.9 155.9h1.8M327.6 166.7h1.8M325 169.4h1.8M330.3 167h1.8M323 157.2h1.8M330.2 171.9h1.8M325.2 162.3h1.8M310.2 171h1.8M321.8 173.1h1.8M329.8 166.3h1.8M323.6 171.6h1.8M328.4 162.7h1.8M324 167.5h1.8M327.9 162.8h1.8M325.1 165.9h1.8M331.9 168h1.8M322.5 164.7h1.8M327.1 166.3h1.8M327.4 164.3h1.8M328.1 171h1.8M318.8 166.2h1.8M330.5 167.2h1.8M326.3 163h1.8M319.7 162.9h1.8M333.8 163.1h1.8M328.6 167.9h1.8M326.4 162.5h1.8M326.1 166.5h1.8M322 165.5h1.8M326.1 162.8h1.8M323.6 175.2h1.8M324.4 168.8h1.8M323.7 165.8h1.8M328 167.1h1.8M324.1 170.6h1.8M319.7 169.4h1.8M319.9 164.7h1.8M332.2 162.6h1.8M330.1 164.7h1.8M329.5 169.2h1.8M320.9 162.8h1.8M329.1 168.1h1.8M326.2 170.2h1.8M332.8 162.2h1.8M332.6 160.4h1.8M333.6 163h1.8M324.9 166.2h1.8M328 167h1.8M331.1 168h1.8M332.5 160.5h1.8M335.8 161.9h1.8M319.7 173.2h1.8M334.9 163.6h1.8M328.1 167.6h1.8M331.6 168.4h1.8M326.1 173.7h1.8M320.9 166.8h1.8M328 157.4h1.8M327.3 161.7h1.8M337.6 166.4h1.8M328.9 167.4h1.8M331.7 161.5h1.8M313.3 178h1.8M323.3 170.1h1.8M327.7 160.5h1.8M327.6 167.9h1.8M319.3 164.3h1.8M311.6 173.3h1.8M328.8 160.7h1.8M330.7 177h1.8M319.3 184.3h1.8M326.9 149.8h1.8M323.7 157.9h1.8M328 182.9h1.8M325.7 156.8h1.8M309.7 173.6h1.8M328.3 169.5h1.8M305.5 172.4h1.8M329.5 189.8h1.8M319.8 179.6h1.8M320.1 130.6h1.8M327.4 146.3h1.8M318.4 143h1.8M316.6 176.5h1.8M319.6 152.9h1.8M315 161.4h1.8M316.2 145.6h1.8M319.8 188.8h1.8M318.5 174h1.8M329.7 169.5h1.8M324.6 165h1.8M325.2 166.5h1.8M317.7 178.8h1.8M329.2 183.4h1.8M330.1 148.5h1.8M326.5 149.8h1.8M308.4 172.6h1.8M323.7 190.5h1.8M328.5 165.7h1.8M335.1 136.1h1.8M331.3 167.5h1.8M337.2 162.4h1.8M343 171h1.8M320.3 184.8h1.8M307.9 161.4h1.8M329 175.2h1.8M334.5 180.4h1.8M323.8 170.9h1.8M318.1 191.9h1.8M322.1 130.2h1.8M325.2 167.7h1.8M317.8 139.8h1.8M324.8 186.3h1.8M340.9 145.8h1.8M325.2 172.1h1.8M328.6 154.3h1.8M336.1 166h1.8M309 175.1h1.8M323.9 175.8h1.8M318 174.3h1.8M329.7 173.8h1.8M344.1 152.6h1.8M310.5 197.1h1.8M321.6 153.9h1.8M333.7 170.1h1.8M335 152h1.8M314.9 165.4h1.8M317.5 143.5h1.8M329.2 172.8h1.8M328.3 190.5h1.8M323 185.2h1.8M323.8 165.8h1.8M331.2 151.1h1.8M337.5 155.7h1.8M314 182.7h1.8M321.6 154.3h1.8M342.8 179.7h1.8M306 174.2h1.8M323.6 184.4h1.8M327 159.1h1.8M327.3 157.4h1.8M306.1 148.4h1.8M314.6 169.7h1.8M338.8 163.5h1.8M333.4 171.1h1.8M333 157.3h1.8M320.3 168.2h1.8M334.1 187.2h1.8M324.8 177.3h1.8M308.5 207.2h1.8M319.4 178.7h1.8M327.3 191.8h1.8M312.3 173.2h1.8M314.3 176h1.8M322.4 169.1h1.8M328.7 142.5h1.8M321.3 179.9h1.8M314 174.8h1.8M325.7 166.3h1.8M331.7 178h1.8M331 184.9h1.8M320 173.6h1.8M318.5 154.8h1.8M337.9 153.3h1.8M316.7 208.8h1.8M329.4 197.8h1.8M311.6 208h1.8M324.2 238.6h1.8M315.4 217h1.8M327.6 217.4h1.8M318.7 226.3h1.8M321.7 209.2h1.8M323.8 210.5h1.8M314.7 197.4h1.8M327.1 238.2h1.8M328.9 183h1.8M322.2 220.7h1.8M326.3 213.4h1.8M319 220.6h1.8M315.2 201.2h1.8M317.7 209.6h1.8M332.4 231.4h1.8M326 237.9h1.8M311 201.9h1.8M322.3 209.7h1.8M337.6 220.8h1.8M310.1 179.4h1.8M307.9 206h1.8M326.8 228.8h1.8M316.7 218.8h1.8M317.8 213.5h1.8M325.6 223.8h1.8M297.6 213.4h1.8M326.2 227.2h1.8M331.3 231.3h1.8M324.1 214.3h1.8M328.6 208.7h1.8M326.1 202.6h1.8M310.9 209h1.8M316.3 210.3h1.8M321.7 222.7h1.8M320.1 227.7h1.8M330.5 189.6h1.8M320.1 222.4h1.8M322.2 235h1.8M320 203.9h1.8M315.4 206.2h1.8M318.9 202.9h1.8M320.1 220.5h1.8M329.5 220.9h1.8M309.9 237.7h1.8M315.2 223.3h1.8M322.9 235.3h1.8M334.3 210h1.8M314.3 204.1h1.8M330.2 212.1h1.8M323.2 227.7h1.8M317.3 212h1.8M320.6 222.5h1.8M315.2 219.5h1.8M322 221.3h1.8M316.6 177.3h1.8M317.3 206.6h1.8M318.6 197h1.8M323.6 205.1h1.8M326.2 236.8h1.8M319.8 200h1.8M324.2 201.3h1.8M335.5 218.6h1.8M315.5 175.2h1.8M320 212.9h1.8M330 202.2h1.8M319 206.6h1.8M321.8 218h1.8M314.4 219.2h1.8M319.6 205.3h1.8M323.8 201.4h1.8M324.8 218.8h1.8M316.6 217.1h1.8M316.6 206.3h1.8M321.1 230.2h1.8M332.1 179.7h1.8M318.4 211.3h1.8M315 192.2h1.8M327.3 223.5h1.8M322.7 238.1h1.8M326.6 200.1h1.8M309 226.1h1.8M327.2 216.8h1.8M323.2 228.4h1.8M330.5 180.8h1.8M330.4 218.1h1.8M323.9 209h1.8M320.6 232.3h1.8M315.6 201.9h1.8M308.7 177.8h1.8M311.8 200.3h1.8M318.2 203h1.8M334.6 238.8h1.8M324.2 239.9h1.8M314.9 238.6h1.8M343.3 239.1h1.8M323.7 239.1h1.8M330.7 240.3h1.8M320.8 239.3h1.8M336.2 239.9h1.8M327.2 240.1h1.8M340.7 240h1.8M307.5 240.3h1.8M320.3 239.4h1.8M309.2 239.4h1.8M323.1 240.6h1.8" stroke="#606060" stroke-opacity="0.5" stroke-width="1.8" fill="none"/>
</g>
<path d="M309.6 110.4V241.6M235 176.4H349.3" stroke="#828282" stroke-width="1.8" fill="none"/>
<rect x="235" y="110.4" width="114.30000000000001" height="131.2" fill="none" stroke="#111" stroke-width="1.9"/>
<path d="M235 241.6v5.5M255 241.6v3.2M249.9 241.6v3.2M246.4 241.6v3.2M243.6 241.6v3.2M241.3 241.6v3.2M239.4 241.6v3.2M237.8 241.6v3.2M236.3 241.6v3.2M263.6 241.6v5.5M283.5 241.6v3.2M278.5 241.6v3.2M274.9 241.6v3.2M272.2 241.6v3.2M269.9 241.6v3.2M268 241.6v3.2M266.3 241.6v3.2M264.9 241.6v3.2M292.1 241.6v5.5M312.1 241.6v3.2M307.1 241.6v3.2M303.5 241.6v3.2M300.8 241.6v3.2M298.5 241.6v3.2M296.6 241.6v3.2M294.9 241.6v3.2M293.5 241.6v3.2M320.7 241.6v5.5M340.7 241.6v3.2M335.7 241.6v3.2M332.1 241.6v3.2M329.3 241.6v3.2M327.1 241.6v3.2M325.2 241.6v3.2M323.5 241.6v3.2M322 241.6v3.2M349.3 241.6v5.5" stroke="#222" stroke-width="1" fill="none"/>
<text transform="translate(226 263.7) scale(1 1.09)" font-size="15.7">10<tspan dy="-5.4" dx="-0.3" font-size="9.8">0</tspan></text>
<text transform="translate(253 263.7) scale(1 1.09)" font-size="15.7">10<tspan dy="-5.4" dx="-0.3" font-size="9.8">1</tspan></text>
<text transform="translate(281.7 263.7) scale(1 1.09)" font-size="15.7">10<tspan dy="-5.4" dx="-0.3" font-size="9.8">2</tspan></text>
<text transform="translate(312.2 263.7) scale(1 1.16)" font-size="14.8">11<tspan dy="-5.4" dx="-0.3" font-size="9.8">3</tspan></text>
<text transform="translate(343.5 263.7) scale(1 1.16)" font-size="14.8">11</text>
<g filter="url(#bl)">
<path d="M427.7 225h1.8M445.7 223.7h1.8M426.5 215.5h1.8M409.1 217.7h1.8M400.7 224.2h1.8M466.5 218.3h1.8M410.6 216.6h1.8M412.9 224.5h1.8M422.3 234.3h1.8M434.4 231.4h1.8M424.3 223h1.8M390.8 228.8h1.8M438.3 225.9h1.8M439.4 214.9h1.8M427.8 219.8h1.8M432.3 218.6h1.8M423.7 227.1h1.8M432.7 214.8h1.8M426.9 218.9h1.8M432.3 224.1h1.8M416.6 218.5h1.8M452 219h1.8M390.3 225.1h1.8M439.7 221.1h1.8M477.8 214.1h1.8M431.7 223.1h1.8M420 223.9h1.8M449.2 226.2h1.8M434.2 215.5h1.8M416.4 229.2h1.8M442.8 228.8h1.8M448.2 209.2h1.8M421.9 220.8h1.8M432.7 216.6h1.8M435.2 217.6h1.8M422.3 228.5h1.8M447.7 227.1h1.8M434.4 223.1h1.8M433.2 210.1h1.8M405.7 229.5h1.8M434.8 219h1.8M414.2 219.8h1.8M443.7 219.8h1.8M405.4 228.8h1.8M453.3 227.1h1.8M407.1 223.3h1.8M419.4 224h1.8M423.9 217h1.8M434.3 228.5h1.8M415.6 227.7h1.8M443.4 223.5h1.8M444.1 218h1.8M426.4 225.8h1.8M423.9 233.4h1.8M426.7 233.7h1.8M434.1 216.5h1.8M419 225.1h1.8M432.6 213.2h1.8M435.8 232.5h1.8M427.8 219.9h1.8M400.6 229h1.8M424.3 229h1.8M416.9 217.2h1.8M422.1 214.3h1.8M429 212.8h1.8M410.5 218.5h1.8M405.1 230.2h1.8M436.9 216.8h1.8M409.3 221h1.8M436.7 226.2h1.8M450.9 219.2h1.8M416.5 218h1.8M433.1 222h1.8M442.1 224.6h1.8M415.2 232.9h1.8M414.8 221.7h1.8M424.8 222.4h1.8M412.3 219.2h1.8M425 230.7h1.8M403.7 221.8h1.8M405 227.8h1.8M434.7 222.7h1.8M420.8 239.1h1.8M411.5 217h1.8M409.5 212.5h1.8M451.7 222h1.8M434.2 215.1h1.8M420.3 218.3h1.8M438.1 223.8h1.8M425.2 217.6h1.8M408.2 220.7h1.8M411.6 215.3h1.8M408.9 218.7h1.8M421.5 214.1h1.8M433.8 214.2h1.8M448.8 232.5h1.8M445.8 216.4h1.8M445.3 217h1.8M421.6 221.5h1.8M457.7 223.4h1.8M427 230.5h1.8M432.7 229.6h1.8M427.9 221.8h1.8M445.9 227.7h1.8M458.2 211.5h1.8M432 219.3h1.8M428.6 224h1.8M433.3 220.8h1.8M451.4 222.4h1.8M413.5 227.6h1.8M447.4 221.1h1.8M425.7 225h1.8M405.6 219.1h1.8M421.4 228.3h1.8M437.5 218h1.8M414.1 220h1.8M432.1 219.2h1.8M442.7 225.8h1.8M447.9 213.7h1.8M435.9 235.3h1.8M420.9 227.6h1.8M417.5 219.2h1.8M467.9 214h1.8M444.2 209.4h1.8M440 213.8h1.8M431.5 230.8h1.8M431.9 225.8h1.8M436.2 219.6h1.8M407.6 230.9h1.8M455.4 227.9h1.8M416.5 218.3h1.8M411.9 227.1h1.8M421.1 228h1.8M408.9 229.3h1.8M424.1 219.4h1.8M418 222.2h1.8M421.4 214.1h1.8M390.5 231.6h1.8M437.9 222.8h1.8M418.6 234h1.8M411.6 237.4h1.8M444.1 222.8h1.8M410 224.7h1.8M426.6 232.4h1.8M429.7 225.8h1.8M403.5 222.6h1.8M426.8 226.6h1.8M438.7 223.1h1.8M415.2 232h1.8M414.5 225.2h1.8M419 223.9h1.8M408.1 227.8h1.8M430.6 221.3h1.8M430.2 226.2h1.8M438.4 216.2h1.8M444.7 223.1h1.8M429.1 219.8h1.8M431.4 227.9h1.8M424.6 225.1h1.8M404.9 221.7h1.8M454.5 223.1h1.8M435.8 215.7h1.8M410.9 223.8h1.8M416.9 224h1.8M430.4 217.9h1.8M430.7 225.5h1.8M397.9 224.4h1.8M457.5 202.4h1.8M434.4 213.9h1.8M416.8 216.7h1.8M407.8 223.2h1.8M447.9 211.8h1.8M433.2 230.4h1.8M428.9 210.1h1.8M400.1 234.4h1.8M415.9 227.6h1.8M415 201.8h1.8M435.1 224h1.8M392.7 217.3h1.8M432.1 217.6h1.8M429 222.5h1.8M417.8 227h1.8M447.2 223.1h1.8M429.9 221.1h1.8M406.1 229.3h1.8M430.4 217.9h1.8M430.1 217.9h1.8M447.8 217.9h1.8M426.4 221.1h1.8M439.4 206.2h1.8M438.6 219.1h1.8M448 219.8h1.8M439.8 216.3h1.8M419.1 228.4h1.8M411.5 235.6h1.8M416.1 216.5h1.8M422.9 224.9h1.8M424.9 215.5h1.8M415.8 219.4h1.8M455.7 210.4h1.8M417.4 222.8h1.8M411.5 223.9h1.8M408.8 223.5h1.8M417.2 219.1h1.8M407.1 230h1.8M407.7 209.8h1.8M409.2 218.3h1.8M423.6 218.6h1.8M443.6 228.5h1.8M402.7 230.8h1.8M426.8 211.5h1.8M415.2 224.2h1.8M434.8 216.6h1.8M443.6 221.7h1.8M419 222.5h1.8M401 228.4h1.8M469.6 222.4h1.8M407 227.4h1.8M466.1 212.6h1.8M412.7 227.9h1.8M444.6 212.9h1.8M417.2 240.5h1.8M410.3 217.3h1.8M419.4 219.2h1.8M435.7 218.6h1.8M449.2 224.4h1.8M409.1 230.2h1.8M386.2 224.8h1.8M429.6 213.8h1.8M436.1 217.8h1.8M410.1 224.2h1.8M410.7 222.3h1.8M462.8 210.6h1.8M428 219.1h1.8M455.9 222.8h1.8M405.9 226.4h1.8M458 214.4h1.8M424.8 220.2h1.8M433.9 214.7h1.8M410.2 224.2h1.8M435.3 222.4h1.8M423.9 222.9h1.8M426.2 206h1.8M443.4 214.2h1.8M413.3 223.4h1.8M408.9 217.5h1.8M424.1 227.7h1.8M428.8 224.3h1.8M445.1 213.2h1.8M418.8 220.1h1.8M455.5 213.5h1.8M420.6 227.3h1.8M434.7 211.3h1.8M426.7 221.4h1.8M417.8 222.2h1.8M425.1 217.3h1.8M427.2 219.3h1.8M417.5 230.6h1.8M435.3 218.3h1.8M420.1 226.4h1.8M427.2 220.4h1.8M418.9 225.3h1.8M441.6 230.3h1.8M432 210.7h1.8M414.3 222.3h1.8M433.5 230.6h1.8M445.1 221.2h1.8M428.8 225.2h1.8M433.5 222.5h1.8M428.5 222.6h1.8M425.3 229.2h1.8M438 214.5h1.8M418.9 227h1.8M412.7 224.4h1.8M415.6 224h1.8M429.1 221.3h1.8M424.3 218.7h1.8M427.6 221.5h1.8M414.2 218.5h1.8M440.3 219.7h1.8M438.6 222.2h1.8M429.6 224.5h1.8M392.5 235.6h1.8M412.9 226.9h1.8M439.4 220.5h1.8M424.1 218.6h1.8M440.8 226h1.8M441.3 218.1h1.8M423.6 219.7h1.8M456 220.5h1.8M388 238h1.8M389 230.6h1.8M417 226.9h1.8M428.2 222.2h1.8M422.3 225.4h1.8M394.4 235.2h1.8M411.3 223.6h1.8M406.6 226.4h1.8M429.8 213.6h1.8M421.4 220.5h1.8M412.7 224.9h1.8M431.4 214.7h1.8M431.2 229.2h1.8M433 231.9h1.8M447.6 214.5h1.8M431.4 229.3h1.8M409 236h1.8M407.5 209.8h1.8M429.8 216.3h1.8M416.8 224.6h1.8M419 215h1.8M412.4 233.5h1.8M419.9 229.1h1.8M402.9 218.8h1.8M410.4 223.2h1.8M446.5 213.8h1.8M410 240.2h1.8M412.7 229.8h1.8M402.2 219.1h1.8M443.7 216.3h1.8M434.4 217.3h1.8M433.4 233.8h1.8M434.8 223.5h1.8M425.6 220.9h1.8M420.4 229.4h1.8M435.6 229.5h1.8M446 228.5h1.8M493.3 227.3h1.8M395.8 227.7h1.8M452.6 214.7h1.8M444 222.6h1.8M460 223.2h1.8M431.2 226.2h1.8M406.8 225.4h1.8M440.9 216.3h1.8M420.6 221.4h1.8M418 222h1.8M423.9 225.6h1.8M439.2 219.4h1.8M436.7 232.1h1.8M440.1 214.3h1.8M420.6 223.3h1.8M439.7 221.9h1.8M448.2 220h1.8M414.8 222.9h1.8M437.9 229.2h1.8M421.6 220.7h1.8M433.4 222.4h1.8M427.9 233.8h1.8M402.2 222.5h1.8M431.6 231h1.8M410.5 220.9h1.8M422.7 231.1h1.8M437.7 226.5h1.8M414.9 211.4h1.8M430.3 222.1h1.8M431.6 219.3h1.8M433.1 224.8h1.8M442.3 217.1h1.8M437.9 221.4h1.8M424.9 217.8h1.8M414.1 225.3h1.8M452.4 225.9h1.8M433.6 217.5h1.8M427.4 228.9h1.8M442.9 225.3h1.8M430.2 215.2h1.8M426.9 223.2h1.8M411.2 221.2h1.8M430.2 222.5h1.8M433.6 228h1.8M419.4 227.4h1.8M410 226.6h1.8M421.8 223.4h1.8M452.9 207.4h1.8M435.5 214.7h1.8M409.9 220.9h1.8M449.7 227h1.8M437 222.6h1.8M433.6 223.2h1.8M440.2 220h1.8M430.9 224.1h1.8M439 220.8h1.8M426.4 237h1.8M410.2 221.5h1.8M414 218.5h1.8M438.4 214.1h1.8M444.7 219.9h1.8M438.1 225h1.8M445.8 213h1.8M449.8 217.4h1.8M429 202.4h1.8M438.5 227h1.8M437.3 211.9h1.8M445 218.6h1.8M406.7 235.5h1.8M431.6 226.2h1.8M422.4 225.4h1.8M435.6 218.6h1.8M433.8 218.6h1.8M432.8 223.6h1.8M416 225.3h1.8M453.5 220.6h1.8M441.3 220.5h1.8M431.5 219.4h1.8M408.9 228.3h1.8M405.1 225.9h1.8M418.7 223.5h1.8M416.7 224.5h1.8M411.1 216.6h1.8M434.3 213.8h1.8M426 222.2h1.8M444.1 238.5h1.8M414.2 215.1h1.8M427 217.3h1.8M406.2 231h1.8M418.8 233.8h1.8M439.6 222.4h1.8M419.7 219h1.8M440 220.8h1.8M455.5 215.3h1.8M440 221.8h1.8M414.1 230.1h1.8M444.2 221h1.8M436.1 228.7h1.8M424.5 226.9h1.8M440.8 219.2h1.8M397.9 234.6h1.8M462.4 214.1h1.8M422.5 220.9h1.8M420.4 220.4h1.8M431.6 215.4h1.8M411.1 223.7h1.8M416.6 227.5h1.8M398.2 233.9h1.8M446 216.7h1.8M420.1 228.9h1.8M430.1 217.7h1.8M437.9 228.6h1.8M425.5 233.7h1.8M416.1 229h1.8M426.9 224.4h1.8M421.5 219.3h1.8M429.2 219.7h1.8M436.3 214.2h1.8M434.8 217.4h1.8M428.7 227.4h1.8M431.1 211h1.8M451 220h1.8M397 225.5h1.8M411.9 229.3h1.8M403.7 216.9h1.8M426.7 215.2h1.8M424.3 218.5h1.8M439.2 217.5h1.8M407.7 240.8h1.8M428.3 220.7h1.8M421.5 231.8h1.8M435 233.9h1.8M429.6 217.3h1.8M436.1 215.8h1.8M413.2 223.6h1.8M405.1 226.1h1.8M444.1 213h1.8M404.5 205.8h1.8M403.1 229.2h1.8M438.6 226.1h1.8M418 220.2h1.8M448.2 218.4h1.8M411.9 224.7h1.8M464.9 211.1h1.8M419.6 212.8h1.8M401.7 221.9h1.8M421.3 218.3h1.8M418.8 225.2h1.8M387.9 225.1h1.8M412.2 233h1.8M428.2 220.4h1.8M441 215.1h1.8M425.5 228.5h1.8M435.2 217.2h1.8M452.3 216.9h1.8M438.3 221.5h1.8M415.8 218.4h1.8M404.9 226.5h1.8M404.9 229.6h1.8M421.3 210.1h1.8M429.1 220.1h1.8M410.2 234.9h1.8M434.4 210.3h1.8M436.9 230.8h1.8M444.2 207.6h1.8M435.9 216.1h1.8M426 221.9h1.8M439.5 220.9h1.8M426.3 213.5h1.8M429.9 227.5h1.8M420.8 228.3h1.8M442.8 220.5h1.8M423.3 224.8h1.8M429.1 222.8h1.8M410.4 220.3h1.8M427.5 219.8h1.8M430.5 225.7h1.8M396.4 225.9h1.8M401.5 231.4h1.8M428.8 215.2h1.8M444.3 219.2h1.8M411.9 215.6h1.8M417 219.7h1.8M452.5 210.4h1.8M438.3 221h1.8M435.7 225.1h1.8M415.9 218.9h1.8M400.9 232.5h1.8M466.5 210h1.8M396.6 232.5h1.8M416.5 218.2h1.8M457.4 215.8h1.8M409.3 227.9h1.8M406.7 219.1h1.8M438.3 219.4h1.8M397.9 225h1.8M433.5 225.9h1.8M439.6 217.7h1.8M415.6 225.4h1.8M437.3 212.9h1.8M470.7 198.5h1.8M412 222.2h1.8M443 220.8h1.8M429.1 214h1.8M447.8 207.7h1.8M435.6 227.1h1.8M448.8 224.6h1.8M444.5 218.5h1.8M438.9 228.2h1.8M416.9 222.2h1.8M441.9 218h1.8M423 226.1h1.8M438.6 205.8h1.8M450 219.1h1.8M435 217.5h1.8M430.1 216.2h1.8M457.6 211.6h1.8M428.2 221.2h1.8M432.1 209.5h1.8M415.3 224.5h1.8M416.2 228.2h1.8M443.9 215.2h1.8M447.7 218.2h1.8M426.6 225.2h1.8M434.6 219.2h1.8M418.8 230h1.8M429.9 218h1.8M445.8 214.9h1.8M402.7 223.8h1.8M423 220.7h1.8M414.4 236.7h1.8M391.3 226.1h1.8M436.6 221.9h1.8M414.5 231.4h1.8M434.1 222.3h1.8M458.9 223h1.8M438.8 220.6h1.8M423 227.8h1.8M458.9 214.5h1.8M419.4 232.6h1.8M433.6 215.7h1.8M415.6 227.7h1.8M411.7 221.3h1.8M428.1 227.3h1.8M445.9 218.3h1.8M439.4 212.6h1.8M444 220.9h1.8M408.9 222.6h1.8M459.4 208.4h1.8M416.5 226.8h1.8M412 225.8h1.8M414.2 217.4h1.8M437.5 221.4h1.8M431.8 221.7h1.8M469.5 220.6h1.8M437.6 222.7h1.8M427.9 228h1.8M429.1 215.7h1.8M419.5 228.1h1.8M427.7 207.1h1.8M403.1 229.4h1.8M425.4 227.3h1.8M425.2 217.9h1.8M422.2 218h1.8M401.3 217h1.8M415.8 228h1.8M431.4 232.6h1.8M432 213.6h1.8M415.8 233.5h1.8M425.5 213h1.8M422.7 240.6h1.8M426.7 223.6h1.8M425.5 218.7h1.8M421.5 223h1.8M438.8 218.4h1.8M426.8 224.2h1.8M404.2 223.2h1.8M431.2 228h1.8M433.6 220h1.8M411 213h1.8M423.9 216.5h1.8M404.3 235.3h1.8M443.1 219.6h1.8M425.2 233.9h1.8M449 218h1.8M419.1 225.4h1.8M436.9 226.4h1.8M421.2 227.9h1.8M426.7 214.7h1.8M416.5 222.2h1.8M440.6 222.2h1.8M430 214h1.8M463.3 215.1h1.8M410.5 218h1.8M413.4 225.8h1.8M417.3 224.6h1.8M407.8 222.5h1.8M425.4 226.9h1.8M420.7 218.4h1.8M450.8 218.5h1.8M446 213.5h1.8M434.1 223.5h1.8M447.5 233.8h1.8M424 221h1.8M442.9 208.6h1.8M420 228h1.8M441.7 222.5h1.8M449.6 208h1.8M405.9 220.6h1.8M423.8 223.4h1.8M414.3 224h1.8M423.3 226.3h1.8M444.5 222.2h1.8M426.5 217.1h1.8M416.9 223.2h1.8M393.3 226.9h1.8M434.5 225.6h1.8M411.4 228.6h1.8M413.2 222.9h1.8M428 218.3h1.8M449.2 215.7h1.8M422.9 227.5h1.8M423.1 229h1.8M438.4 222.4h1.8M414.4 227.6h1.8M394.3 238.3h1.8M421.2 228.1h1.8M434.1 225.4h1.8M437.3 223.5h1.8M430.7 224.7h1.8M407.7 238.1h1.8M410.9 231.3h1.8M407 230.8h1.8M406.9 228.6h1.8M439.6 230.5h1.8M428.2 223.6h1.8M410.5 224.2h1.8M432.8 214h1.8M428.5 226.3h1.8M413.3 226.5h1.8M423.9 221.4h1.8M430.1 216.1h1.8M445.3 214.5h1.8M420.6 223.7h1.8M430.4 228.6h1.8M434.2 218.6h1.8M445 217.5h1.8M411.7 222.4h1.8M440 237.9h1.8M423 226.9h1.8M431.8 231.8h1.8M426.8 215h1.8M437.3 213.4h1.8M435.6 217h1.8M425.7 220.7h1.8M410.3 217.9h1.8M423 228.3h1.8M427.9 233.6h1.8M434 221h1.8M444.2 213.8h1.8M416.2 230.7h1.8M426.4 223.1h1.8M428.8 232.1h1.8M414.7 224.3h1.8M416.7 226.7h1.8M417 229.2h1.8M439.2 224.4h1.8M427.4 216.1h1.8M404.1 226.4h1.8M427.5 223.6h1.8M421.7 213.1h1.8M425.5 224.3h1.8M436.6 239.5h1.8M398.8 223.1h1.8M407.3 226.4h1.8M420.8 232.3h1.8M408.4 231.8h1.8M407.8 224.5h1.8M425.2 221.7h1.8M446.1 222.6h1.8M420.9 235.3h1.8M430.3 215.5h1.8M454.2 219h1.8M439.9 213.1h1.8M429.5 216.1h1.8M409.2 221.9h1.8M424.7 216.4h1.8M436.2 226.6h1.8M430.6 223.5h1.8M422.1 224.2h1.8M424.9 215.3h1.8M390.8 236.3h1.8M406.7 230h1.8M466.1 216h1.8M427.1 206.5h1.8M431.8 226.1h1.8M408.4 228.4h1.8M466.4 220.5h1.8M394.2 228h1.8M447.3 218.3h1.8M431.2 219h1.8M431.6 229.2h1.8M437.8 224.4h1.8M425.4 223.1h1.8M424.4 216h1.8M439 218.4h1.8M423.6 224.7h1.8M409.7 220.3h1.8M416.3 226.1h1.8M403.7 217.3h1.8M435 223.4h1.8M439.6 219.3h1.8M438.5 207.2h1.8M428.2 215.9h1.8M421.8 222.6h1.8M439.3 216.9h1.8M443.1 215.5h1.8M433.7 218.8h1.8M444.3 230.3h1.8M424.9 232h1.8M452.8 211.5h1.8M471 215.8h1.8M425.4 211.4h1.8M412.8 229.4h1.8M441.4 207.2h1.8M441.1 223.2h1.8M429.1 224.6h1.8M423.2 208.4h1.8M444.1 225.1h1.8M425.1 224.9h1.8M413 224.3h1.8M426.1 218.5h1.8M442.6 227.9h1.8M418.4 233.9h1.8M432.8 222.6h1.8M392.4 219.6h1.8M411.9 233.9h1.8M423.2 234.3h1.8M421.6 217.8h1.8M422 216.5h1.8M416.7 223.8h1.8M412 226.5h1.8M442.6 214.8h1.8M422.7 220.8h1.8M419.2 235.2h1.8M424.1 226.2h1.8M431.1 223.1h1.8M400.1 220.1h1.8M404.2 221.6h1.8M437.6 217.2h1.8M437.3 216h1.8M435.7 215.5h1.8M434.6 228.5h1.8M422.2 222.7h1.8M445.9 214.3h1.8M454.4 223h1.8M433.4 217.6h1.8M423 230.1h1.8M430.7 219.1h1.8M404.3 227.8h1.8M430.5 216.9h1.8M442.9 218.3h1.8M426.7 223.7h1.8M426.2 222.7h1.8M429 223.2h1.8M428.6 225.9h1.8M420.1 223.5h1.8M442.9 219.4h1.8M438.1 225.3h1.8M416.9 222.9h1.8M423.6 217.8h1.8M427 222.2h1.8M433.6 227.3h1.8M423.9 222.2h1.8M415.2 220.8h1.8M421.5 222.1h1.8M432.7 216.9h1.8M448.8 223.1h1.8M430.9 217.8h1.8M425.9 224.8h1.8M411.8 227.9h1.8M430 215.1h1.8M464.9 222.2h1.8M437.4 219.3h1.8M425.2 222.1h1.8M434.1 223.8h1.8M435.4 226.3h1.8M411 221.6h1.8M427.4 224.5h1.8M434.3 228.1h1.8M440.8 233.1h1.8M412.4 218.6h1.8M420.6 224.4h1.8M441.7 226.2h1.8M416.8 232.2h1.8M412.5 235.5h1.8M432 225.2h1.8M446.8 220.2h1.8M428.1 225.3h1.8M436.1 223h1.8M430 218.3h1.8M403.8 214.7h1.8M397.2 210.7h1.8M410.4 223.6h1.8M398.5 229.7h1.8M436.5 213.4h1.8M439.7 223.6h1.8M417.7 226.9h1.8M407.3 223.6h1.8M454.5 216.6h1.8M418.6 212.8h1.8M398.6 225.7h1.8M429.7 227.5h1.8M414.6 234.6h1.8M417.5 230.1h1.8M428.3 217.9h1.8M414.9 226.9h1.8M416.3 221.3h1.8M407.2 234.9h1.8M418.1 230.5h1.8M449 222.5h1.8M446.3 212.8h1.8M409.5 224.9h1.8M400.7 226.5h1.8M425.2 211.2h1.8M406.4 235.7h1.8M414.9 224.4h1.8M403.8 225.1h1.8M445.1 215.8h1.8M409.7 232.7h1.8M427 214.1h1.8M404.7 232.2h1.8M440.4 223h1.8M416 215.6h1.8M427.5 215.6h1.8M418.9 232.6h1.8M436.3 227.4h1.8M409 231.1h1.8M417 223.8h1.8M431.7 224.1h1.8M441.7 218.6h1.8M400.9 227.8h1.8M434.8 216.2h1.8M460.5 226.1h1.8M458.7 212.7h1.8M437.6 225.9h1.8M429.3 219.7h1.8M430.8 214.6h1.8M415.8 222.8h1.8M422.1 222.4h1.8M423.3 224.4h1.8M436.4 213.6h1.8M402.9 221.3h1.8M416 229h1.8M415.9 222.4h1.8M406.9 233.4h1.8M436.1 227.9h1.8M428.2 221.8h1.8M436.3 210.5h1.8M406.2 239.3h1.8M435.9 212h1.8M422.5 225.7h1.8M457.9 223.4h1.8M444.1 225.5h1.8M445 216.1h1.8M450.1 228.4h1.8M430.7 231.6h1.8M422.4 209.5h1.8M441.3 219.2h1.8M423.5 239.2h1.8M407.4 225.3h1.8M460.5 220.9h1.8M403.2 224.8h1.8M425.1 229.3h1.8M433.4 211.6h1.8M425.5 225.9h1.8M417.7 220.9h1.8M391.1 227.8h1.8M452.1 216.3h1.8M432.9 217.1h1.8M441.9 228.1h1.8M453.1 216.8h1.8M427.3 227.6h1.8M445.2 220.5h1.8M424.2 215.3h1.8M413.2 223.3h1.8M449.9 216.3h1.8M439 225.5h1.8M424.7 219.2h1.8M412.8 219h1.8M400.2 232.2h1.8M420.6 227.5h1.8M427.7 223.3h1.8M423.9 210.9h1.8M407.7 218.8h1.8M450.3 222.6h1.8M427.4 229.7h1.8M431.1 220.3h1.8M456.3 218.9h1.8M448 221.8h1.8M413.7 218.2h1.8M433.7 221.4h1.8M428.1 221.5h1.8M413 227.6h1.8M416 226.3h1.8M398 228.3h1.8M422 222.6h1.8M459.5 213.9h1.8M440.3 206.8h1.8M469 215.9h1.8M431.7 210.9h1.8M408.5 230.5h1.8M427.2 218h1.8M404.4 223.1h1.8M432.1 225h1.8M424.9 215.9h1.8M421.5 229.2h1.8M439.7 214.5h1.8M435.6 218.6h1.8M428.4 225.7h1.8M427.8 219.8h1.8M433.4 227.1h1.8M399.7 224h1.8M411.2 231.9h1.8M417 212.9h1.8M418.8 232.2h1.8M412.3 237.4h1.8M441.4 228.3h1.8M430.5 212h1.8M433.9 219.2h1.8M411.1 223.4h1.8M418.6 208.7h1.8M441.9 225.6h1.8M421.5 212.5h1.8M421.3 216.7h1.8M403.7 216.2h1.8M420.4 212.4h1.8M443.9 206h1.8M432 224.6h1.8M430.4 220.6h1.8M431.9 210.6h1.8M438 213h1.8M428.6 232.1h1.8M437.1 223h1.8M431.1 228.5h1.8M429 214.7h1.8M436.3 220h1.8M417.6 229.7h1.8M447 215.5h1.8M443.3 211.6h1.8M410.7 226.9h1.8M388 222h1.8M416.3 222.8h1.8M413 225.5h1.8M428.7 225.2h1.8M420.5 209.4h1.8M448.9 216.3h1.8M431.2 225.2h1.8M422 219.2h1.8M447.8 216.9h1.8M425.6 224.1h1.8M409.6 228h1.8M433.9 230.2h1.8M407 229.6h1.8M447 212.4h1.8M426.7 215.7h1.8M398.5 219.8h1.8M404.1 229.3h1.8M409.8 217.6h1.8M431.5 222.1h1.8M399.4 235.3h1.8M449.1 211.2h1.8M439 235.8h1.8M401.9 226.5h1.8M399.4 231.6h1.8M411.8 235.1h1.8M418.5 223.9h1.8M448.7 213.3h1.8M411.3 223.3h1.8M431.4 221.8h1.8M417.7 225.6h1.8M417.9 218.1h1.8M414.4 219.7h1.8M443.4 220.5h1.8M434.1 228h1.8M416.1 236.2h1.8M411.1 235h1.8M445.5 221h1.8M427.9 224.1h1.8M408.6 223.7h1.8M427 232.1h1.8M426.8 215.2h1.8M436.4 231.2h1.8M437.2 226h1.8M440.4 213.7h1.8M447.9 216.6h1.8M421.7 232.1h1.8M447.6 215.3h1.8M423.3 214.2h1.8M437.8 211.5h1.8M429.7 226.9h1.8M411.6 218.1h1.8M436.7 219.6h1.8M431.2 224.5h1.8M440.2 222.2h1.8M430.6 222.5h1.8M430.4 223.8h1.8M440.7 220.3h1.8M406.5 218.9h1.8M438.7 219.5h1.8M434.7 219.5h1.8M423.1 225.7h1.8M480.5 206h1.8M424 227.5h1.8M432.5 224.5h1.8M424.7 221.3h1.8M412.4 225.5h1.8M416.3 232.2h1.8M431.8 228.9h1.8M415.7 219h1.8M448.8 217h1.8M426.6 233.7h1.8M430.7 218.6h1.8M410.5 215.6h1.8M425.3 217.8h1.8M417.8 223.2h1.8M424.4 226.2h1.8M433.8 219.5h1.8M422.1 226.8h1.8M407.7 218.6h1.8M405.2 217h1.8M430.2 212.9h1.8M436.1 217.1h1.8M414.2 231h1.8M412.9 234.7h1.8M436.1 217h1.8M443.9 213.2h1.8M392.4 233.3h1.8M423.4 226h1.8M403.3 228.4h1.8M413.6 223.1h1.8M431.2 211.7h1.8M418.9 225.3h1.8M413.4 226.4h1.8M458.5 215.9h1.8M430.3 219.1h1.8M446.7 218.7h1.8M423.9 204.3h1.8M430.2 219.9h1.8M422.9 235.3h1.8M437.2 237.9h1.8M454 225.4h1.8M443.3 220.2h1.8M406.4 219.2h1.8M430.7 224.6h1.8M403.9 236h1.8M427.9 225.1h1.8M417.8 237.5h1.8M403.9 221.5h1.8M431.1 225.6h1.8M434.7 236.4h1.8M417.4 219.4h1.8M428.5 220.3h1.8M433.4 214.5h1.8M449.3 229.9h1.8M432.1 211.2h1.8M421.3 218.3h1.8M421.4 209.4h1.8M433.8 222.2h1.8M438.2 226.6h1.8M407.6 223.3h1.8M435.5 229.6h1.8M456.9 210h1.8M444.8 219.5h1.8M442.3 217.4h1.8M425.6 215.2h1.8M418.9 220.6h1.8M436.4 223.1h1.8M419 236.4h1.8M423.4 229.8h1.8M426.4 231.6h1.8M436.3 231.9h1.8M407.2 216.9h1.8M430.3 216.6h1.8M453.1 223.4h1.8M388.5 219.5h1.8M422 225.9h1.8M431.9 215.9h1.8M427.2 228.6h1.8M435.9 216.4h1.8M436.7 225.8h1.8M420.6 231.9h1.8M449.4 213.2h1.8M422.6 221.4h1.8M423 216.1h1.8M424.1 232.7h1.8M411.9 226h1.8M419.1 228.9h1.8M439.2 228.9h1.8M443.3 222.2h1.8M427.9 223.1h1.8M447.4 213.9h1.8M417 219h1.8M469.2 223.9h1.8M425.5 229.4h1.8M434.2 214.8h1.8M410.4 228.8h1.8M420.1 225.5h1.8M425.7 224.8h1.8M399.4 225h1.8M451.8 214.2h1.8M430.7 219.3h1.8M432.5 226.7h1.8M429.9 222h1.8M418.7 227.1h1.8M421.2 228.4h1.8M416.5 228.8h1.8M449.7 216.6h1.8M431.6 224.3h1.8M397.3 229.8h1.8M423.8 211.4h1.8M410.9 231.5h1.8M418 213.8h1.8M430.9 218.3h1.8M423 225.1h1.8M415.3 217.5h1.8M470 201.4h1.8M402.4 221h1.8M409.3 234.3h1.8M394.2 225.6h1.8M404.7 232.2h1.8M430.8 225.4h1.8M433.7 216.7h1.8M425.4 217.9h1.8M422.3 225.9h1.8M412 226.3h1.8M427.7 225.8h1.8M442.1 219.2h1.8M451.9 225.4h1.8M440.4 218.5h1.8M433.4 229.8h1.8M437.2 220.1h1.8M442.7 231.3h1.8M400.8 222.6h1.8M440 219.9h1.8M414.8 228.1h1.8M425 211.2h1.8M413.2 225.6h1.8M400.6 228.7h1.8M415.2 229.2h1.8M439.2 220.7h1.8M418.3 227.2h1.8M430.9 233.2h1.8M428.2 230.5h1.8M429.2 231.7h1.8M447 223.2h1.8M461.8 204.6h1.8M425.5 220h1.8M420.5 223.8h1.8M424.9 219.7h1.8M436 225.6h1.8M431 213.5h1.8M460.5 224.2h1.8M388.9 225.8h1.8M421.8 228h1.8M424.5 221.9h1.8M414.1 229h1.8M435.3 218.5h1.8M429.1 223.6h1.8M442.5 219.7h1.8M435.3 219.7h1.8M405.4 219.3h1.8M422.2 214.4h1.8M428.8 230.3h1.8M417.6 221.3h1.8M449.9 223.7h1.8M416.7 230.1h1.8M433.5 216.8h1.8M437 218.2h1.8M436.5 216.2h1.8M423.6 226.2h1.8M427.3 217.5h1.8M411.3 230.7h1.8M418.5 210.6h1.8M431.1 209.7h1.8M463.2 206.4h1.8M418.2 217.8h1.8M415.3 216.1h1.8M409 223h1.8M397.7 219.3h1.8M413 215h1.8M426.7 224h1.8M418.1 222.3h1.8M430.1 224h1.8M441.9 224.1h1.8M441.3 212.5h1.8M426.7 221.7h1.8M433.8 228.4h1.8M434.9 213.4h1.8M431.5 228.5h1.8M420.6 220.9h1.8M422.3 230.8h1.8M420.3 224.2h1.8M435.5 220.8h1.8M444.3 222.1h1.8M451 225.5h1.8M421.6 227.8h1.8M429.1 221.2h1.8M422 235.6h1.8M439.8 227.4h1.8M409.7 221.2h1.8M409.7 224.5h1.8M424.4 216.5h1.8M442.4 216.2h1.8M429.5 221.8h1.8M412.5 227.2h1.8M427.9 234h1.8M418.5 215.7h1.8M409 234.1h1.8M439.8 216.1h1.8M432.8 221.6h1.8M414.4 233.8h1.8M409.7 225.4h1.8M431.8 216.1h1.8M458.5 215.6h1.8M463 223.4h1.8M419.7 220.5h1.8M436.6 210.1h1.8M437.1 229.6h1.8M423.3 222.9h1.8M405.3 230.6h1.8M453.9 216.9h1.8M454 209.7h1.8M420.8 216.6h1.8M419.2 230h1.8M430.1 219.5h1.8M440.2 225.7h1.8M441.7 214.2h1.8M451.6 215.8h1.8M422.9 231.8h1.8M423.3 213h1.8M410.7 211.8h1.8M418.9 225.2h1.8M387.8 237.2h1.8M417.8 223.8h1.8M424.2 211.9h1.8M401.8 238.2h1.8M456.4 219.5h1.8M426.1 214.2h1.8M433.7 221.5h1.8M420.7 224.3h1.8M423.1 222.1h1.8M427.7 227.5h1.8M407 225.7h1.8M428.3 217.7h1.8M426.6 219.8h1.8M418 228.4h1.8M406.4 224.1h1.8M457.7 225.1h1.8M430.6 214.3h1.8M427.2 226.2h1.8M422.9 230.3h1.8M402.1 221.1h1.8M441.6 220.5h1.8M427.1 215.3h1.8M445.3 224.9h1.8M388.8 224h1.8M406.7 213.2h1.8M420.4 213.7h1.8M428.7 222h1.8M414.4 228.1h1.8M418.9 217.2h1.8M449.8 216.1h1.8M420.9 230h1.8M430.2 235h1.8M445.9 209.6h1.8M410.6 225.3h1.8M450.3 213.6h1.8M432.1 226.6h1.8M425.5 225.8h1.8M432.1 228.6h1.8M409.9 236.6h1.8M428.6 225.2h1.8M417.6 221.6h1.8M445.6 218.7h1.8M424.9 218.7h1.8M419.9 212.6h1.8M393.3 235.8h1.8M423.9 225.4h1.8M405.4 231.9h1.8M430.2 225.4h1.8M423.9 232.7h1.8M428.9 223.3h1.8M423.6 213.5h1.8M433.9 233.1h1.8M423.9 222.5h1.8M414.1 223.8h1.8M415 228.7h1.8M403.5 219.5h1.8M432.6 216.3h1.8M446.8 220.3h1.8M430.3 227.8h1.8M399.9 229.6h1.8M431 215.9h1.8M430.5 221.4h1.8M434 226.6h1.8M432.3 219.3h1.8M429.3 225.8h1.8M394.8 218.4h1.8M429.7 217.8h1.8M411.5 221.8h1.8M436.2 211h1.8M446.3 225.4h1.8M405.7 230h1.8M442.3 221.9h1.8M414.2 232.4h1.8M430.1 221.8h1.8M427.7 230.3h1.8M433.9 225.5h1.8M425 231.2h1.8M430.9 217.6h1.8M433.7 232.8h1.8M421.6 225.7h1.8M434.5 224h1.8M424.1 216.8h1.8M412.8 218.3h1.8M417.8 219.3h1.8M429.1 224.3h1.8M402.8 218.9h1.8M407 222.1h1.8M430.7 225.7h1.8M412.7 227.2h1.8M394.4 217.4h1.8M407.4 237.1h1.8M434.7 224.3h1.8M403.8 224.5h1.8M427.9 227.2h1.8M443.1 216.2h1.8M443.2 214.2h1.8M396.2 219.9h1.8M392.6 230.8h1.8M424.9 233h1.8M442.1 230h1.8M426.3 213.9h1.8M446.4 225.8h1.8M409.8 225.3h1.8M420.5 223.7h1.8M408.9 217.4h1.8M418.7 217.2h1.8M426.8 228.6h1.8M463.4 214.8h1.8M430.9 215.9h1.8M428.1 221.9h1.8M420.2 230.1h1.8M412.5 228.2h1.8M428.8 212.3h1.8M418.5 211.7h1.8M452.2 210.3h1.8M437.4 220h1.8M437.5 215h1.8M430.5 218.7h1.8M404.8 229.5h1.8M423.8 222.7h1.8M425.3 221.4h1.8M427.9 218.4h1.8M417.8 224.1h1.8M434.1 227.8h1.8M416.8 222.4h1.8M449.9 225.3h1.8M427.7 229.2h1.8M435.3 215.6h1.8M431.6 222.4h1.8M392.9 232.1h1.8M440.8 225.6h1.8M395.4 226.4h1.8M442.5 220.6h1.8M440.5 217.2h1.8M421.5 224.6h1.8M416.4 229.9h1.8M416.8 230.8h1.8M438.7 228.4h1.8M423.1 226.1h1.8M452.7 214h1.8M419.6 221.6h1.8M433.6 216.6h1.8M427.7 225.5h1.8M446.4 225h1.8M410 214.6h1.8M428.1 224h1.8M430.9 224.9h1.8M420.2 219.6h1.8M401.5 220.3h1.8M408.1 230h1.8M395.2 224.9h1.8M464.8 218.3h1.8M411.7 233.3h1.8M432.6 212.9h1.8M433.7 222.8h1.8M433.2 224.4h1.8M439.2 211.5h1.8M430.1 219.3h1.8M398.5 224.5h1.8M431.4 221.4h1.8M447 208.5h1.8M452.2 225.5h1.8M432.4 215.4h1.8M408 219.3h1.8M424.8 221h1.8M426.3 226.5h1.8M394.9 219.5h1.8M421.9 227.1h1.8M413.7 225.6h1.8M440.1 224.1h1.8M421.1 221.8h1.8M429 218.3h1.8M409.2 227.2h1.8M411.7 229.5h1.8M446.7 213h1.8M413.1 220.7h1.8M428.5 219.3h1.8M432.4 228.6h1.8M443.2 223.1h1.8M427.4 221.5h1.8M451.4 215.2h1.8M465.8 220h1.8M407 232.4h1.8M433.7 236.7h1.8M429.8 237.4h1.8M410.9 226.5h1.8M441.3 228.2h1.8M435 224h1.8M463.6 225.3h1.8M400.4 215.1h1.8M433 224.7h1.8M421.7 221.7h1.8M430.7 219.6h1.8M449.4 222.7h1.8M420.5 221.3h1.8M414.5 222h1.8M423.1 224.7h1.8M424.6 223.5h1.8M412.3 227.3h1.8M420 225.7h1.8M415.3 226.8h1.8M410.3 222.8h1.8M443.7 227.7h1.8M407.2 217.1h1.8M440.3 213.4h1.8M429.8 223.8h1.8M420.1 214.9h1.8M441.7 229.3h1.8M426.2 237.7h1.8M422.4 223.6h1.8M445 221.5h1.8M426.3 219.1h1.8M431.2 222.9h1.8M446.2 235.5h1.8M450.9 220.6h1.8M421.1 230.5h1.8M405.1 217.9h1.8M435.6 215.5h1.8M398.7 228.6h1.8M430.4 231.5h1.8M404.9 220.9h1.8M437.3 222.2h1.8M423.6 231.1h1.8M406.9 217.1h1.8M421.1 228.7h1.8M418.9 216.1h1.8M425.6 221.2h1.8M418.5 227.5h1.8M431.9 215.2h1.8M442 215.2h1.8M421 230.3h1.8M428.1 222.4h1.8M414.7 234h1.8M415.1 220.9h1.8M408.6 228.9h1.8M443.4 223.5h1.8M410.1 217.7h1.8M430.5 221.2h1.8M437 224.7h1.8M425 215.6h1.8M445.3 211.4h1.8M422.9 223.3h1.8M440.9 221h1.8M426.5 216.8h1.8M465.1 218.4h1.8M422.1 212.7h1.8M394.6 229.8h1.8M414.1 224.1h1.8M422.1 227.9h1.8M419 223.9h1.8M440 224h1.8M417 226.6h1.8M426.8 213h1.8M402.6 234.1h1.8M413.2 223.3h1.8M442.3 219.3h1.8M408.6 220.4h1.8M468.4 230.1h1.8M425.1 224.7h1.8M416.3 232.1h1.8M429.3 221.6h1.8M420.1 226.4h1.8M405.7 226.4h1.8M442.8 230.5h1.8M422.1 232.8h1.8M443 215.9h1.8M450.4 212h1.8M422 222.8h1.8M421.8 222.2h1.8M433.1 219h1.8M432.5 228.2h1.8M396.7 240.9h1.8M432 221.4h1.8M435.1 229.4h1.8M430.1 210.4h1.8M415.1 219.3h1.8M403.7 211.5h1.8M454.3 222.3h1.8M420.9 209.1h1.8M420.4 219.9h1.8M413.4 227h1.8M414.2 220.1h1.8M421.5 232.2h1.8M429.4 222.2h1.8M433.7 213.7h1.8M433.6 223.5h1.8M420 227.5h1.8M429.8 224.9h1.8M432.5 224.2h1.8M452.3 213.8h1.8M416.2 224.9h1.8M441.1 214.6h1.8M408.6 237.6h1.8M460.1 217.8h1.8M431.9 224.2h1.8M392.4 219.4h1.8M436.1 211h1.8M414.8 221.4h1.8M423.5 223h1.8M420 218.8h1.8M426.4 226.2h1.8M426.1 225.9h1.8M415.2 219.9h1.8M423.7 217.4h1.8M456.9 223.9h1.8M438.1 215.8h1.8M444.1 217.8h1.8M432.6 222.1h1.8M421.4 224.6h1.8M408.5 216.3h1.8M451.9 218.7h1.8M412.2 222.3h1.8M428.3 217.3h1.8M391.6 230.6h1.8M410.2 234.8h1.8M405.2 218.6h1.8M407.8 222.3h1.8M439.1 233.5h1.8M424.4 217.6h1.8M465.3 217.8h1.8M435.1 220.5h1.8M407.9 227.4h1.8M424.7 218.1h1.8M412.5 221.7h1.8M414.5 219.6h1.8M421 230.7h1.8M437 220.7h1.8M415.4 216.6h1.8M399.6 233.4h1.8M416 222.2h1.8M427.1 214.2h1.8M425.4 232h1.8M438.2 220.2h1.8M410.1 225.1h1.8M417.8 233.9h1.8M424.2 219.3h1.8M420.9 215.9h1.8M442.9 220.5h1.8M434.8 222.2h1.8M416.1 216.8h1.8M437.3 220h1.8M442.7 217.8h1.8M440.2 219.1h1.8M420.7 209.2h1.8M432 211.9h1.8M423 222.9h1.8M419.5 229.9h1.8M429.7 221.2h1.8M423.9 211.1h1.8M406.1 235.9h1.8M422.8 232.1h1.8M433.1 221.8h1.8M419.7 226.8h1.8M402.7 229.9h1.8M446 219.3h1.8M443.7 217.8h1.8M443.4 216.7h1.8M441 207h1.8M429.7 225.9h1.8M414.1 198h1.8M424.6 225.9h1.8M434.7 230.4h1.8M426.7 230.2h1.8M427.3 232.2h1.8M439.2 215.6h1.8M420.5 210h1.8M427.1 229h1.8M437.1 221h1.8M443.5 226.3h1.8M432.5 231.3h1.8M397.9 223.9h1.8M405.8 210.4h1.8M441.9 225.1h1.8M424.1 215h1.8M400.1 230.9h1.8M428.1 214h1.8M425.6 225.3h1.8M405.4 221.4h1.8M435.5 224.1h1.8M413.4 237.9h1.8M415.1 225.9h1.8M410.3 220.8h1.8M413 224.9h1.8M446.7 218.9h1.8M393.5 235h1.8M434.1 221.7h1.8M436.3 219.7h1.8M441 223.8h1.8M458 230.6h1.8M437.8 228.4h1.8M438.2 225.5h1.8M441.7 234.7h1.8M433.5 226.3h1.8M414.2 222.6h1.8M402 225.4h1.8M443.7 225.2h1.8M403.9 241.1h1.8M447.3 217.3h1.8M436 207.9h1.8M422.6 216.4h1.8M445.4 226.1h1.8M425.8 213.7h1.8M460.1 223.7h1.8M430.8 214.8h1.8M417.8 221.4h1.8M405.7 239.6h1.8M415.3 223.5h1.8M432.4 210h1.8M420 215.2h1.8M418.9 223.8h1.8M448.3 211.2h1.8M443.3 215.5h1.8M428.5 216.6h1.8M435.7 231.7h1.8M445.1 221h1.8M402.3 225.9h1.8M440.2 213.2h1.8M415 231.7h1.8M407.1 219.6h1.8M437.2 223.8h1.8M425.3 229.2h1.8M392.2 227.2h1.8M470.7 215.3h1.8M419.4 216.1h1.8M449.4 231.7h1.8M437 223.8h1.8M437.2 213.5h1.8M392.7 211.9h1.8M418.5 226.6h1.8M445.8 227.8h1.8M429 227.7h1.8M414.4 219.3h1.8M459 215.9h1.8M417.6 227.3h1.8M414.9 212.7h1.8M435.3 210.2h1.8M439.8 217.7h1.8M396.7 225.6h1.8M410.9 211.8h1.8M423.1 237.1h1.8M425.5 228.8h1.8M437.3 214.5h1.8M424.2 223.2h1.8M405 231.9h1.8M457.2 231.6h1.8M429.2 224.6h1.8M415.4 229.7h1.8M441.8 226.1h1.8M437.9 206.3h1.8M426 205.1h1.8M424.5 224.3h1.8M420.4 227.6h1.8M424.6 220.5h1.8M445.7 213h1.8M416.1 233.4h1.8M436.1 227.3h1.8M434.9 227.8h1.8M413.2 224.7h1.8M420.1 224.3h1.8M438.1 226.3h1.8M423.7 225.3h1.8M427.1 220.9h1.8M410.4 221.5h1.8M450.5 216.9h1.8M408.3 234.9h1.8M414.6 229.2h1.8M419.1 226.4h1.8M421.1 228.1h1.8M415.3 223.1h1.8M419.3 214.1h1.8M425.7 220.5h1.8M409.5 235.2h1.8M450.5 208.4h1.8M406.3 230.4h1.8M435.8 220.7h1.8M425.6 219.9h1.8M418 214.6h1.8M414.8 214h1.8M425.2 232.9h1.8M435.7 218.2h1.8M429.8 215.2h1.8M434.1 218.7h1.8M414 231.1h1.8M457.4 224.5h1.8M456.5 214.6h1.8M435.9 220.3h1.8M430.2 211.3h1.8M454.2 225.5h1.8M424.5 221.3h1.8M417.4 236.4h1.8M441 216.5h1.8M424.1 215h1.8M416.3 234.1h1.8M428.3 211.7h1.8M467 215.4h1.8M440.2 219.9h1.8M412.9 239.1h1.8M416.1 225.9h1.8M421 233h1.8M458.3 219.6h1.8M442.4 210.5h1.8M410.1 226.4h1.8M444.3 217.7h1.8M435.2 219.3h1.8M393 229.9h1.8M443.3 216.5h1.8M429.5 222.1h1.8M446.3 213.3h1.8M423.1 237.1h1.8M413.6 205.1h1.8M462.9 218.1h1.8M459.8 221.3h1.8M420.9 214h1.8M440.4 222.8h1.8M429.8 219h1.8M450.4 213h1.8M455.3 229.5h1.8M411.5 227.2h1.8M411.5 220.7h1.8M411.5 221.5h1.8M448 231.1h1.8M434.6 227.4h1.8M427.7 234.1h1.8M401.5 229.5h1.8M454.3 218.7h1.8M398.8 227h1.8M405.4 231.4h1.8M439 229.1h1.8M405.1 226.7h1.8M446.5 212h1.8M405 235.7h1.8M403.7 222.5h1.8M421.3 227.3h1.8M432.8 224.6h1.8M416.5 225.6h1.8M408 225.3h1.8M428.9 231.1h1.8M429.8 226.1h1.8M408.4 231.5h1.8M450.4 221.7h1.8M431.4 222.5h1.8M427.3 220.8h1.8M414.7 235.4h1.8M437.4 223.8h1.8M435.4 223.9h1.8M423.4 216.2h1.8M421.4 226.6h1.8M453.9 220.9h1.8M399.8 220.7h1.8M419 219.1h1.8M442.4 220h1.8M422.4 217.2h1.8M412.2 230.2h1.8M448.8 214.9h1.8M432.8 217h1.8M435.9 227.9h1.8M444.8 220.8h1.8M446 207.4h1.8M461.6 211.6h1.8M450.2 219.9h1.8M457.3 216.3h1.8M424.5 217.7h1.8M415.8 224.2h1.8M418.9 223.8h1.8M417.5 226h1.8M439.3 214.9h1.8M437 213.6h1.8M435 223.4h1.8M419.2 224.7h1.8M410.9 226.9h1.8M432.9 214h1.8M433.5 222.1h1.8M423.3 227.1h1.8M409.7 222.6h1.8M419.8 225.5h1.8M412.2 225.5h1.8M422.4 224.7h1.8M425.4 217.8h1.8M446 205.1h1.8M434.9 224.2h1.8M418.7 222.8h1.8M418 213.6h1.8M428.7 213.7h1.8M431.6 228.8h1.8M418 217.1h1.8M467.6 209.8h1.8M424.3 211h1.8M409.3 226h1.8M420.6 216.7h1.8M433 215.2h1.8M408 231h1.8M430.2 221.3h1.8M430 236h1.8M414.6 226.1h1.8M418.7 219.1h1.8M445.3 223.9h1.8M449.3 211.9h1.8M433.5 229.8h1.8M436.3 222.4h1.8M426.1 218.2h1.8M408.4 223.6h1.8M432.1 218.4h1.8M435.6 231.8h1.8M439.1 216.4h1.8M415.2 228h1.8M420.4 229.4h1.8M431.8 218.5h1.8M460.7 212.8h1.8M427.9 234.1h1.8M412.9 217.5h1.8M442.9 216.4h1.8M444.6 215.3h1.8M454.1 210.7h1.8M433.7 220.3h1.8M419.6 233.4h1.8M427.7 231.3h1.8M441.6 222h1.8M416.7 222.3h1.8M432.4 234.1h1.8M420.5 215.4h1.8M427.6 215.7h1.8M425.4 223.7h1.8M430.6 218.9h1.8M438.5 223h1.8M411.8 233.7h1.8M465.8 204.5h1.8M427.5 214.6h1.8M442.8 232.1h1.8M422.1 215h1.8M432 212.3h1.8M418.5 229.7h1.8M420.7 233.5h1.8M435.2 230.6h1.8M412.2 219.4h1.8M437.9 225.8h1.8M418.9 218h1.8M438.3 238.8h1.8M436.6 219h1.8M408.9 226.8h1.8M425.7 207.7h1.8M426.9 227.1h1.8M434.1 225.8h1.8M431.6 227.9h1.8M447.6 217.6h1.8M440.5 219.3h1.8M423.4 227h1.8M429.7 232.2h1.8M431.4 230.1h1.8M449.1 210.5h1.8M443.7 220.5h1.8M437.4 221h1.8M430.7 216.2h1.8M400.5 224.8h1.8M433.6 225.5h1.8M407.6 224.7h1.8M422.5 217.4h1.8M424.4 223.6h1.8M431.3 225.1h1.8M412.5 223.9h1.8M416.2 223.8h1.8M437.2 207.1h1.8M450.5 215.2h1.8M426.3 227.9h1.8M391.2 215.8h1.8M427.8 213.5h1.8M424.1 216.2h1.8M430.6 223.8h1.8M471.6 219.6h1.8M407.6 228.5h1.8M432.2 226.3h1.8M450.4 221.2h1.8M423 231.6h1.8M437.7 224.3h1.8M414.9 221.5h1.8M413.3 231.3h1.8M422.1 229.4h1.8M431.5 215.4h1.8M434 222.9h1.8M396 225.2h1.8M431.7 208.7h1.8M396 222.5h1.8M402.9 224.6h1.8M412.9 240.8h1.8M421 227.6h1.8M446.2 231.4h1.8M452.8 216.8h1.8M417.4 218.9h1.8M413.8 220.5h1.8M403.5 216h1.8M399.6 225.9h1.8M423.3 227.3h1.8M451.2 213.2h1.8M399.1 232.2h1.8M454.1 219h1.8M412.3 229.8h1.8M435.8 220.4h1.8M436.1 218.6h1.8M414.3 231.7h1.8M430.9 216.2h1.8M422 226.6h1.8M413.7 217.8h1.8M441 228h1.8M421.8 215.8h1.8M443.3 217.1h1.8M424.1 222.4h1.8M439.9 209h1.8M444.4 208.4h1.8M444.1 214.6h1.8M444.2 220.5h1.8M461.4 214.5h1.8M435.7 225.1h1.8M435 206.7h1.8M455.9 204h1.8M432.9 224.2h1.8M460 196h1.8M436.9 222.6h1.8M437.1 213h1.8M434.5 217.7h1.8M448.9 215.6h1.8M439.1 220.9h1.8M442.5 214.6h1.8M434.5 223.6h1.8M443.4 226.5h1.8M444.2 216.1h1.8M437.2 219.2h1.8M440.4 216.1h1.8M449.8 221.9h1.8M464.5 205.3h1.8M453.6 220h1.8M442.5 212.6h1.8M440 209h1.8M457.2 215.6h1.8M450.1 210.9h1.8M446.8 228.7h1.8M441 213.9h1.8M450.8 216.5h1.8M431.9 227.1h1.8M428.3 230.9h1.8M448.2 214.2h1.8M421.7 223.1h1.8M446.4 222.5h1.8M439.5 223.2h1.8M438.4 212.1h1.8M430.8 209.2h1.8M445.1 217.3h1.8M429.4 204h1.8M446.6 207.1h1.8M442.2 221.2h1.8M445.9 220.1h1.8M450.6 201.5h1.8M430.2 224.7h1.8M434 224.9h1.8M437.6 212.8h1.8M446.3 224.5h1.8M445.2 220.5h1.8M440.5 213.4h1.8M450.4 210h1.8M438.6 214.5h1.8M421.6 219.6h1.8M433.6 219.9h1.8M433.7 221.3h1.8M449.8 201.3h1.8M441.8 210.6h1.8M452 210.1h1.8M450.2 214.6h1.8M434.9 199.8h1.8M468.1 205.9h1.8M441.1 219.7h1.8M449.9 219.5h1.8M454.8 201.6h1.8M444 215.1h1.8M432 219.7h1.8M435.5 210.8h1.8M449.1 221.6h1.8M444.8 203.7h1.8M454.1 209.8h1.8M432.2 213.1h1.8M449.8 218.6h1.8M439.1 216.9h1.8M452.2 204.9h1.8M423 208.8h1.8M459.8 205.3h1.8M427.1 206.4h1.8M477.9 206.6h1.8M452.2 209.1h1.8M456 208.5h1.8M434.7 222h1.8M433.7 206.1h1.8M438.3 203.4h1.8M443.4 207.4h1.8M443.7 215.3h1.8M451.8 207.3h1.8M434.9 202.4h1.8M454.6 202h1.8M414.9 224.8h1.8M448.2 219.6h1.8M424.7 203.3h1.8M445.2 221.6h1.8M427.8 214.7h1.8M437.3 229.2h1.8M433.5 217.3h1.8M444.5 212.4h1.8M435.7 220.7h1.8M459.8 202.6h1.8M429.3 203.9h1.8M453.2 212.7h1.8M445.2 225.7h1.8M424.5 226.6h1.8M452.7 220.3h1.8M443.8 207.4h1.8M444.8 214.7h1.8M459 208.5h1.8M442.1 216.2h1.8M446.9 222.4h1.8M437.2 209h1.8M432.7 213.2h1.8M470.8 202.2h1.8M440.9 231.7h1.8M408.3 216.9h1.8M444 208.9h1.8M438.8 211.1h1.8M471 204.9h1.8M430 208.6h1.8M441.1 198.4h1.8M443 203.8h1.8M447.1 212.4h1.8M444.7 199.6h1.8M464.4 203.4h1.8M448.3 220.2h1.8M449.5 223.8h1.8M458.4 220.8h1.8M448.6 211.4h1.8M462 210h1.8M432.7 200.2h1.8M420.8 231.1h1.8M437.9 205.3h1.8M447.5 206.7h1.8M436.2 213.7h1.8M452 203.5h1.8M449.8 215.6h1.8M439.2 216.5h1.8M440.8 212.9h1.8M449.3 207h1.8M458.9 217.1h1.8M463.1 206.1h1.8M430.5 192.7h1.8M443.2 212.2h1.8M444.4 215h1.8M447.2 221.1h1.8M448.7 212.8h1.8M438.8 216.8h1.8M435.2 201h1.8M443.6 217.2h1.8M442.8 216.9h1.8M447.9 221h1.8M446.8 204.7h1.8M450 212.9h1.8M446.6 212.6h1.8M433.6 205.7h1.8M439.3 216.4h1.8M453.4 215.7h1.8M439.1 201.7h1.8M444.5 206.8h1.8M432.6 227h1.8M447.8 209.9h1.8M445 199.1h1.8M444.6 225.7h1.8M427.9 213.8h1.8M446.5 227.5h1.8M453.1 209.8h1.8M432.2 207.3h1.8M441.2 210.9h1.8M434.3 214.4h1.8M439.9 193.6h1.8M449.8 208.3h1.8M454.1 209.9h1.8M455.4 212.2h1.8M447.9 217.4h1.8M451.3 218.8h1.8M447 207.4h1.8M432.7 214.4h1.8M431 214.8h1.8M443.5 204.4h1.8M457.6 208.2h1.8M464 203.5h1.8M427.9 212.6h1.8M443.2 207h1.8M434.5 214.3h1.8M445.9 213.3h1.8M447.4 217.8h1.8M436.6 220.8h1.8M458.7 207.9h1.8M454 214.9h1.8M443.2 203.3h1.8M440.8 222.8h1.8M446.1 207.3h1.8M434.1 221.7h1.8M445.8 226.8h1.8M447.1 198.8h1.8M426.3 218.2h1.8M439.7 210.9h1.8M427 212.3h1.8M439.4 227.7h1.8M417.1 222h1.8M441.8 215.4h1.8M449.4 221.2h1.8M440.7 221.7h1.8M433.3 222.1h1.8M451.1 215.1h1.8M438.4 218.2h1.8M437.4 216.2h1.8M461.2 211.2h1.8M445.2 204.5h1.8M442.2 215.1h1.8M444.4 211.9h1.8M444.7 220h1.8M438.8 216.4h1.8M445.8 197.3h1.8M423.6 212.5h1.8M457.1 200.2h1.8M448.6 217.5h1.8M428.1 205.5h1.8M439.3 194.6h1.8M432.9 209.2h1.8M449.1 216.7h1.8M438.1 221.4h1.8M443.8 218h1.8M455.7 219.9h1.8M428.8 215h1.8M443 211.6h1.8M437.5 213.9h1.8M437.1 204.4h1.8M434.6 206.2h1.8M442.4 206.4h1.8M447.9 217.2h1.8M435.3 211.3h1.8M439.3 214.7h1.8M454.6 229.1h1.8M424.4 218.4h1.8M410.6 219.5h1.8M447 209.9h1.8M458.4 205.8h1.8M445.4 208.1h1.8M439.1 214.2h1.8M456.8 212.4h1.8M448.9 211.1h1.8M430.9 224.4h1.8M458.8 215h1.8M431.5 217.8h1.8M441.2 220.6h1.8M446.3 219h1.8M434.9 212.4h1.8M454.8 212.2h1.8M452.9 209.9h1.8M435.5 209.6h1.8M441.7 209.7h1.8M444.7 219.9h1.8M445.5 228.7h1.8M443.9 204.3h1.8M445.2 225.5h1.8M455.4 217.8h1.8M451.5 214h1.8M438.3 209.2h1.8M420.6 213.9h1.8M427.4 221.3h1.8M451.7 221h1.8M440.6 212.2h1.8M442.6 214.6h1.8M435.3 203.2h1.8M452.1 219.2h1.8M443.7 216.3h1.8M444.7 209.9h1.8M451.5 205.7h1.8M443.4 208.5h1.8M440.9 216.6h1.8M438 213.8h1.8M438.6 209.6h1.8M438 219h1.8M447.1 226.3h1.8M444.6 216.2h1.8M435.9 222.7h1.8M431.9 231.4h1.8M445.5 215.3h1.8M438.1 224.9h1.8M449.9 221.5h1.8M451 215.5h1.8M445.5 216.3h1.8M426.9 225.3h1.8M455.8 205.8h1.8M434.4 223.5h1.8M454.9 221.6h1.8M428 214.8h1.8M454.3 209.1h1.8M442.5 214.6h1.8M443.7 204.9h1.8M449.4 217.7h1.8M446.2 229.6h1.8M431.7 215.1h1.8M437.6 220.6h1.8M437.6 220.4h1.8M431.2 212h1.8M439 222.2h1.8M424.4 219.3h1.8M457.4 209.1h1.8M439.8 215.1h1.8M456.2 208.4h1.8M438.2 208.1h1.8M434.1 218.1h1.8M448.5 212.7h1.8M435.3 211.2h1.8M434.8 223.2h1.8M432.2 220.4h1.8M436 216.3h1.8M437.2 214.8h1.8M431.5 227.7h1.8M432.1 218.9h1.8M436.8 204h1.8M442.9 215.1h1.8M429.3 222.1h1.8M471.8 211.8h1.8M455.2 217.5h1.8M437.9 205.9h1.8M436.8 218.3h1.8M426.3 215.9h1.8M447.5 207h1.8M450.2 210.3h1.8M448.9 221h1.8M441.6 221.5h1.8M437 221h1.8M453 198.2h1.8M453 202.7h1.8M440.2 215.3h1.8M448.3 219.7h1.8M438.4 227.4h1.8M457.2 220.2h1.8M456.3 211.1h1.8M448.4 217.7h1.8M437.9 208.8h1.8M448.5 206.8h1.8M423.9 236.4h1.8M440.9 220h1.8M444.8 217.6h1.8M450.3 204.8h1.8M436.8 212.9h1.8M437.6 228.5h1.8M443.6 202.1h1.8M455.6 212.4h1.8M436.2 219.3h1.8M437.8 212.2h1.8M435.9 218.3h1.8M452.1 207.2h1.8M443.1 214.2h1.8M467.4 196h1.8M440.5 197.9h1.8M435.6 225.4h1.8M434.3 210.1h1.8M414.9 222.1h1.8M457.7 205.8h1.8M436.6 225.4h1.8M436.9 220.5h1.8M431.5 216.2h1.8M443.9 209.8h1.8M445.7 205.1h1.8M435.3 229h1.8M449.6 210.9h1.8M437 218.3h1.8M428.6 215.1h1.8M449.5 213.3h1.8M438.1 221.5h1.8M441.3 223.5h1.8M445.5 224.4h1.8M443.3 214.6h1.8M425.2 222h1.8M436.9 206.6h1.8M437.3 216.2h1.8M442.5 212.3h1.8M446.6 209h1.8M417.9 218.8h1.8M432.7 216.9h1.8M424.2 219h1.8M452.9 208.3h1.8M452.4 213.2h1.8M450.9 201h1.8M438.8 205.6h1.8M449 184.3h1.8M449.3 190.3h1.8M456.4 193.3h1.8M444.5 200.4h1.8M465.6 208.2h1.8M441.9 208.3h1.8M452.8 195.4h1.8M461.8 212.1h1.8M444.1 203.4h1.8M435 207.5h1.8M444.1 194h1.8M457.8 191.3h1.8M462.5 191.9h1.8M446.6 197.6h1.8M458.6 195.3h1.8M470.5 187.5h1.8M458.7 191.2h1.8M456.1 219.1h1.8M442.3 202.8h1.8M457.1 201.4h1.8M455.8 200.7h1.8M461.2 198.4h1.8M445.3 210.1h1.8M436.5 196.9h1.8M454.2 219.4h1.8M454.1 197.5h1.8M450.1 199.1h1.8M438.5 210.3h1.8M438.4 205.4h1.8M462.9 198.9h1.8M462.1 209.4h1.8M446.5 166.5h1.8M437.2 217.5h1.8M447.8 200.3h1.8M450.5 198.4h1.8M437 205.3h1.8M463.6 182.3h1.8M448.2 196.2h1.8M459 211.4h1.8M452.5 202.1h1.8M458.8 205.7h1.8M451.6 201.5h1.8M456.5 197.3h1.8M441.9 211.3h1.8M457.3 193.1h1.8M443.2 216.2h1.8M463.6 188.6h1.8M441.3 193.8h1.8M464.8 199h1.8M441.1 208.8h1.8M461.7 189.5h1.8M459.1 181h1.8M452.7 190.9h1.8M477.5 221.4h1.8M480.5 214h1.8M476.4 231.5h1.8M480.4 216.7h1.8M475.9 210.7h1.8M477.6 233.6h1.8M480.4 205.3h1.8M479.6 220.9h1.8M470.6 226.7h1.8M474 205.6h1.8M486.6 195.3h1.8M475.3 218.8h1.8M478.8 202.2h1.8M474.2 172.3h1.8M473.9 203.5h1.8M473.2 220h1.8M478.3 219.8h1.8M478.2 200.2h1.8M475.2 210.6h1.8M475.4 214.4h1.8M483 214.6h1.8M482.4 199h1.8M476.8 200.5h1.8M482 198.5h1.8M485.9 197.9h1.8M482.1 218.2h1.8M476.2 227.1h1.8M473.5 226.1h1.8M484.8 181.2h1.8M478.1 215.4h1.8M482.1 208.4h1.8M471.8 240.7h1.8M472.2 214.8h1.8M476.3 230.6h1.8M486.7 212h1.8M481.6 210.2h1.8M476.7 214.5h1.8M478.2 202.1h1.8M475 227.3h1.8M475.4 211.8h1.8M481.7 189h1.8M477 207.5h1.8M461.9 237.2h1.8M476.9 219.9h1.8M472.4 212.4h1.8M477 210.6h1.8M480 210.4h1.8M478.7 215.4h1.8M482.7 205h1.8M482.5 203.3h1.8M473.8 209.6h1.8M475.9 193.9h1.8M477.5 209.1h1.8M480.9 219.4h1.8M472.7 212.1h1.8M480.3 209.2h1.8M479.1 184.7h1.8M475.6 224h1.8M479.3 224h1.8M477.2 206.1h1.8M478.9 201.3h1.8M475.2 204h1.8M480.1 210.5h1.8M476.3 204.5h1.8M478 219.1h1.8M475.2 223.3h1.8M473.1 217h1.8M477.5 218.8h1.8M491.5 190.8h1.8M476.9 196.9h1.8M476.2 215h1.8M467 236.8h1.8M476.2 230.7h1.8M483.9 184.2h1.8M477.2 222.1h1.8M475 205.8h1.8M482.6 212.7h1.8M476.9 198.9h1.8M478.1 222.5h1.8M481 173.8h1.8M479.2 189.4h1.8M477.5 209.7h1.8M476.4 218.3h1.8M474 204.3h1.8M477.7 203.9h1.8M480 204.9h1.8M480.7 221.1h1.8M481.5 203.3h1.8M474.4 192.7h1.8M481.7 215.6h1.8M478.4 211.6h1.8M477.7 210.6h1.8M484.5 222.7h1.8M481.6 193.1h1.8M476.3 216.7h1.8M480 208.7h1.8M477.2 208.3h1.8M476.6 201.8h1.8M471.3 218.8h1.8M474.2 194.2h1.8M479.7 210.1h1.8M478.1 219.3h1.8M482.9 204.3h1.8M484.4 205h1.8M477.3 209.7h1.8M474.6 212h1.8M479.7 188.6h1.8M479 196.1h1.8M477.1 211.8h1.8M480 197.4h1.8M473.9 228.8h1.8M477.4 231.6h1.8M481.6 206.2h1.8M479.9 185.6h1.8M471.6 221.7h1.8M485.2 198.2h1.8M477.8 235.4h1.8M482.8 193.3h1.8M478.7 229.2h1.8M477.7 200.2h1.8M472.9 214.8h1.8M477.4 201.5h1.8M476.3 204.6h1.8M480.5 197.3h1.8M477 217.4h1.8M472.6 197.2h1.8M478.6 207h1.8M476 231.2h1.8M474.5 209.6h1.8M478.9 192.4h1.8M473.6 209.2h1.8M481.9 202h1.8M483.7 190.4h1.8M486.1 216.7h1.8M477.2 212.7h1.8M473.2 219.2h1.8M484.3 141.2h1.8M496.1 142.9h1.8M487.3 132.4h1.8M481.4 163.1h1.8M490.8 154h1.8M485.3 150.1h1.8M489.4 163.7h1.8M485.9 134h1.8M499.1 147.9h1.8M480.4 122.3h1.8M492.5 146.8h1.8M488.6 142.8h1.8M486.9 152.8h1.8M481.5 161.5h1.8M485 152.5h1.8M483.9 162.3h1.8M482.4 156.9h1.8M488.3 130.4h1.8M494.9 147.1h1.8M485.3 143h1.8M489.7 173.2h1.8M491.5 168.9h1.8M485.7 178.2h1.8M487.8 145.5h1.8M486.5 162.1h1.8M487.6 158.2h1.8M493.3 144.2h1.8M488.6 139.6h1.8M487.4 144.2h1.8M483.4 135.8h1.8M490.7 151.8h1.8M491.2 139.4h1.8M483.9 151.1h1.8M490.5 149.9h1.8M484.9 155.8h1.8M482.1 140.2h1.8M486 143.7h1.8M486.1 147h1.8M483.6 154.2h1.8M491 153.9h1.8M484.2 133.7h1.8M485.9 143.1h1.8M492.9 112.5h1.8M483.1 153.7h1.8M482.4 162.7h1.8M489.5 143.9h1.8M489.6 162.2h1.8M489.9 160.8h1.8M488.1 155.5h1.8M492.8 144.6h1.8M485.3 186h1.8M485.5 176.7h1.8M484.7 185.3h1.8M493.2 191.5h1.8M484.1 191.5h1.8M477.2 182.2h1.8M482.6 196.3h1.8M486.5 177.9h1.8M483.5 185.2h1.8M479.6 180.5h1.8M476.5 182.8h1.8M484 200.2h1.8M476.8 204h1.8M475.1 185.3h1.8M483.9 186.4h1.8M481.1 181.1h1.8M485.6 170.5h1.8M482.4 182.1h1.8M483 192.8h1.8M483.6 186.7h1.8M478.6 180.2h1.8M479.7 184.6h1.8M481.9 191.9h1.8M488.7 179.3h1.8M484.3 200.4h1.8M492.9 186.6h1.8M486.8 182.4h1.8M487 175.2h1.8M485.3 155.2h1.8M487.3 190.3h1.8M488.5 183.6h1.8M481.8 184.4h1.8" stroke="#606060" stroke-opacity="0.5" stroke-width="1.8" fill="none"/>
<path d="M459.4 226.9h1.8M417 232.6h1.8M428 215.5h1.8M431.6 221.9h1.8M415.8 229.4h1.8M433.1 215.5h1.8M409.4 228.5h1.8M432.2 230.1h1.8M407 222.4h1.8M420.9 226.1h1.8M431.8 229.6h1.8M433.2 227.3h1.8M437.1 234.2h1.8M441.6 214.4h1.8M408 222.2h1.8M410.1 227.9h1.8M411.3 226.1h1.8M456.9 213.1h1.8M423.7 225.8h1.8M398 219.5h1.8M414.8 215h1.8M456 216.2h1.8M422.4 210.9h1.8M420.3 236.3h1.8M409.5 224.2h1.8M422.8 228.6h1.8M453.8 218.2h1.8M400.3 236.1h1.8M407.9 220.1h1.8M426.7 225.9h1.8M441.9 225.5h1.8M414.5 224.2h1.8M405.6 220h1.8M437.2 225.1h1.8M436 233.8h1.8M439.4 222.1h1.8M450.4 224.3h1.8M422.2 233h1.8M440.4 220.4h1.8M430 220.6h1.8M435.8 213.3h1.8M429.4 234.9h1.8M430.4 230.4h1.8M477.8 216.9h1.8M447.5 228.5h1.8M450.1 217h1.8M417.6 221.2h1.8M402.1 220.1h1.8M390.6 222.1h1.8M438.1 219.4h1.8M410.4 222h1.8M451.8 225.5h1.8M416.6 228.3h1.8M437.2 216.5h1.8M409 216.6h1.8M412.6 228.2h1.8M415 220.9h1.8M404.1 228.3h1.8M419.9 221.1h1.8M432.7 221.8h1.8M435 222.5h1.8M442.8 225.2h1.8M424.5 214.5h1.8M425.8 220.7h1.8M410.5 230.4h1.8M394.9 228h1.8M415.2 236.1h1.8M417.7 227.7h1.8M441 230.6h1.8M452.3 211.9h1.8M426.5 229.5h1.8M439.7 228.7h1.8M437.7 225.7h1.8M442.2 228.9h1.8M418 232.4h1.8M443.8 203.8h1.8M394.8 228.3h1.8M429.1 214h1.8M411.8 220.7h1.8M416 225.8h1.8M409.4 229.7h1.8M439 219.6h1.8M460.7 213.6h1.8M437.3 210.5h1.8M432.6 215.3h1.8M460.2 218.7h1.8M431.8 218.6h1.8M418.2 217h1.8M428.6 217.8h1.8M427.1 229.3h1.8M421.4 235.7h1.8M430.1 209.6h1.8M423.4 228.5h1.8M439.8 224.8h1.8M428.5 228.5h1.8M420.2 224.1h1.8M424.3 219.5h1.8M432.7 214.4h1.8M440 227.9h1.8M438.3 212.5h1.8M428.1 210.8h1.8M416.6 224.3h1.8M414.8 233.9h1.8M429.1 222.6h1.8M401.6 239.1h1.8M423.4 224.4h1.8M456.9 217.1h1.8M387 231.4h1.8M450.3 218h1.8M411.9 217.7h1.8M388.4 225.1h1.8M441.3 227.9h1.8M408 229.2h1.8M393.2 231.6h1.8M439.1 217.2h1.8M448.7 215.9h1.8M447.3 217.6h1.8M419.4 211.6h1.8M436.2 228.9h1.8M419.9 214h1.8M444.5 213.1h1.8M431.2 226.4h1.8M414.3 219.8h1.8M423.2 229.9h1.8M423.6 229.3h1.8M451.7 214.8h1.8M483.6 222.8h1.8M435 217h1.8M420.7 228.7h1.8M420 239.5h1.8M424.4 221.1h1.8M419.3 219.5h1.8M412.1 231.4h1.8M407.1 229.3h1.8M428.2 220h1.8M406.9 226.4h1.8M445.5 209.5h1.8M429.1 221.6h1.8M427.6 218.8h1.8M398.1 227.5h1.8M408.1 226.4h1.8M409.6 224.4h1.8M435.9 221.7h1.8M404.9 234.1h1.8M414.5 226h1.8M433.9 222.1h1.8M429.3 232.1h1.8M438.7 218.5h1.8M424.2 222.8h1.8M447.9 210.8h1.8M452.4 225.4h1.8M434.8 214.8h1.8M411.5 214.3h1.8M439.1 222.5h1.8M425.2 218.3h1.8M447.6 220.3h1.8M457.4 208.3h1.8M427.8 224.1h1.8M439.9 223.2h1.8M469.1 204.4h1.8M417.4 227.5h1.8M449.2 211.5h1.8M425 221.8h1.8M418.8 217.3h1.8M413.7 217.6h1.8M400 237.1h1.8M418.8 225.6h1.8M401.5 232.9h1.8M428.4 233.4h1.8M404.6 235.7h1.8M445.2 232h1.8M432.3 223.3h1.8M428.1 222.6h1.8M432.2 219.9h1.8M441.3 219.1h1.8M421.3 232.3h1.8M431.9 234.4h1.8M442.2 223.5h1.8M439.7 215.1h1.8M452.7 215.4h1.8M437.3 229.6h1.8M437.9 206.1h1.8M411.7 240.7h1.8M429.2 230.4h1.8M446.8 220.3h1.8M437.2 219.6h1.8M390.5 228.3h1.8M410.8 224.2h1.8M447.6 221.9h1.8M431.1 225.3h1.8M399.8 236h1.8M419.1 233.9h1.8M424.4 226h1.8M409.2 231.4h1.8M438.5 229.8h1.8M419.9 227.6h1.8M424.9 216.7h1.8M428.8 212.8h1.8M440.4 225h1.8M450.8 208.8h1.8M429.2 219h1.8M433.8 231.1h1.8M431.8 220.5h1.8M441.8 222.6h1.8M435.5 215.6h1.8M421.1 229.1h1.8M416.3 224.8h1.8M452.2 223.4h1.8M438.2 221.1h1.8M424.6 226.2h1.8M424.9 217.2h1.8M460.2 223.4h1.8M454.8 225.7h1.8M434 220.2h1.8M427.1 220.2h1.8M428.7 224.1h1.8M402.2 237.6h1.8M433.1 219.9h1.8M409.5 215.9h1.8M449.8 222h1.8M411.9 223h1.8M444.6 224.2h1.8M429.1 233h1.8M417.1 215.1h1.8M441.5 224h1.8M399 223.9h1.8M411.4 222.7h1.8M409 226.8h1.8M443.8 230.8h1.8M424.2 224.6h1.8M431.6 219.4h1.8M415.1 205.5h1.8M434.1 226.4h1.8M386.5 230.2h1.8M407.7 229.3h1.8M428.6 221h1.8M418.5 226h1.8M435.3 223.4h1.8M432.7 215.8h1.8M430.7 215.6h1.8M445.4 216.6h1.8M426.8 220.2h1.8M435.8 227.4h1.8M406.6 234.7h1.8M449.6 217.4h1.8M416.3 222.9h1.8M436 220.9h1.8M436.3 221.6h1.8M420.3 229.9h1.8M444.4 240.7h1.8M439.8 212.3h1.8M417.3 223h1.8M412.3 234.4h1.8M432.1 224.1h1.8M409.2 229.3h1.8M413.4 218.2h1.8M424.1 229.4h1.8M434.6 225.7h1.8M405.1 228.2h1.8M426.2 221.4h1.8M431.7 221.3h1.8M436.6 221.9h1.8M445.4 216.5h1.8M436 213.3h1.8M433 224.1h1.8M417.8 219.9h1.8M416 235.1h1.8M424.9 225.8h1.8M434.7 215.9h1.8M436.4 221.7h1.8M390.1 224.1h1.8M404.4 224.6h1.8M427 224.6h1.8M409.5 223.2h1.8M459.6 229.2h1.8M432.9 215.4h1.8M448.7 226.6h1.8M438 224.2h1.8M446.2 232h1.8M436 211.4h1.8M408.1 215.3h1.8M418.1 220h1.8M415.3 228.4h1.8M392.2 225.5h1.8M435.5 227.6h1.8M436.1 225h1.8M425.1 218.1h1.8M387.8 209.5h1.8M438.7 221.4h1.8M444.4 214.8h1.8M416.4 212.4h1.8M408.3 226.8h1.8M412.1 227.8h1.8M442 226.1h1.8M410.9 227.5h1.8M418.6 234.9h1.8M411.3 233.5h1.8M411.1 224.8h1.8M435 217.5h1.8M454 215.7h1.8M426.3 222.2h1.8M416.5 224h1.8M412.1 221.6h1.8M420.1 224.7h1.8M400.4 228.9h1.8M428.5 224h1.8M410.9 212.5h1.8M443 216.8h1.8M409.2 230.1h1.8M420.3 206.7h1.8M426.4 217.5h1.8M427 217.1h1.8M463.3 215.4h1.8M432.8 227.5h1.8M432.7 220.5h1.8M434.3 216.9h1.8M428.7 225.1h1.8M413.7 227.6h1.8M431.1 217.5h1.8M447.4 223.3h1.8M432.2 218.2h1.8M431.2 219.9h1.8M438.5 204.5h1.8M401.6 212.6h1.8M434.5 223h1.8M448.5 217.8h1.8M425.6 234.1h1.8M425.2 225.6h1.8M413.8 216.3h1.8M457.7 222.9h1.8M406.1 217.6h1.8M417.9 239.4h1.8M408.6 230.5h1.8M438.3 218.7h1.8M409.1 229.9h1.8M403.8 237.7h1.8M418.9 220.3h1.8M401.5 223.9h1.8M446.4 227.1h1.8M434.2 219.9h1.8M434.6 228.8h1.8M445.8 212.8h1.8M451.8 222.3h1.8M389.3 221.6h1.8M442.7 213h1.8M434.2 207.3h1.8M441.5 216.5h1.8M428.8 227.6h1.8M440.5 220.5h1.8M433.8 205.3h1.8M449.6 222.2h1.8M421.3 218.9h1.8M401.4 225.9h1.8M419.3 223.1h1.8M426.9 222.9h1.8M427.3 220.3h1.8M415.9 222h1.8M411.3 211.1h1.8M412 223.9h1.8M450.5 223.1h1.8M406.7 219.7h1.8M423.9 230.4h1.8M427.4 229.1h1.8M413 226.4h1.8M427.1 225h1.8M405.3 230.4h1.8M439.7 213.2h1.8M434 219.6h1.8M417.1 222h1.8M416.9 222h1.8M416.2 225.4h1.8M463.1 228.1h1.8M434.1 214.7h1.8M420.7 234.1h1.8M428.3 226.7h1.8M450 222.9h1.8M423.7 215.3h1.8M420.8 228.2h1.8M417.9 228h1.8M409.7 221.7h1.8M434.3 229.9h1.8M441.7 228.7h1.8M433.3 221.7h1.8M389.2 229.4h1.8M415.7 223.6h1.8M447.3 209.2h1.8M431.4 216.2h1.8M421.6 208.4h1.8M414.1 236.3h1.8M431 218.9h1.8M422.5 225.1h1.8M427 222.2h1.8M409.9 225.1h1.8M417.5 212.2h1.8M419.3 223.8h1.8M436.8 226h1.8M433.5 222.2h1.8M463 211.9h1.8M446.2 226.2h1.8M412.4 226.6h1.8M431.3 215.3h1.8M434.7 218h1.8M430.5 234.5h1.8M465.7 222.5h1.8M452.7 212.9h1.8M426.8 223.1h1.8M450.9 208.5h1.8M420.8 223.5h1.8M442.6 221.9h1.8M432.3 220.9h1.8M412 228.5h1.8M414.1 224.3h1.8M412.2 221.3h1.8M390.1 231.6h1.8M443.4 215.7h1.8M430.4 226.5h1.8M424.4 219.9h1.8M438.3 221.8h1.8M412.7 224.7h1.8M438.9 220.5h1.8M422 214.4h1.8M396.1 233.7h1.8M429.8 221.8h1.8M440.7 228.5h1.8M448.7 219.1h1.8M404.2 226.3h1.8M426.1 224.8h1.8M421.8 226.7h1.8M406.2 230.4h1.8M436.9 228h1.8M428.8 219.7h1.8M406.2 219.3h1.8M424.6 218h1.8M395.2 227.9h1.8M405.6 226.1h1.8M426.9 238.7h1.8M396 237h1.8M449 219.3h1.8M434.6 218.8h1.8M395.6 231.4h1.8M422 230.6h1.8M422.7 219.5h1.8M415.6 220.8h1.8M450.4 224.9h1.8M442.5 213.9h1.8M436.4 221.4h1.8M428.6 225h1.8M433.8 223.4h1.8M419.7 221.5h1.8M399.4 234.7h1.8M431.3 226.6h1.8M423.2 216.7h1.8M405.7 223.3h1.8M407 220.1h1.8M421.1 237.9h1.8M428 224.7h1.8M442.9 226.9h1.8M423.3 219.3h1.8M437.5 213.5h1.8M430.8 222.3h1.8M426.3 229h1.8M432.3 210.6h1.8M396.1 235h1.8M424.1 235.4h1.8M421.4 228.1h1.8M425 232.2h1.8M437.4 220.4h1.8M413.2 219.8h1.8M418.5 229.4h1.8M408.3 233.4h1.8M418.3 228.8h1.8M468 217.4h1.8M428.4 217.9h1.8M422.2 220.6h1.8M427.7 227.1h1.8M429 224.4h1.8M435.8 224.1h1.8M434.6 217.1h1.8M408.9 215.9h1.8M429.1 217.3h1.8M431.9 226.9h1.8M427.7 220.2h1.8M445.2 228.2h1.8M412.7 230.6h1.8M433.1 223.9h1.8M410.4 233.5h1.8M429.7 214.7h1.8M427 221.8h1.8M431.1 226.7h1.8M439.6 221.5h1.8M451.1 225.4h1.8M454.7 224.4h1.8M459.4 223.4h1.8M430.3 221.2h1.8M424.4 225.3h1.8M408.1 225.2h1.8M415.9 218.6h1.8M441.8 215.8h1.8M450.7 216.8h1.8M422.3 222.2h1.8M412.6 222.5h1.8M419.3 229.3h1.8M424 226.5h1.8M433.2 217.4h1.8M440.7 218.4h1.8M409.2 226.5h1.8M434.1 229.7h1.8M431.3 232.2h1.8M436.4 238.7h1.8M409.3 226.8h1.8M418.8 241.1h1.8M401.6 230.3h1.8M422.4 225.7h1.8M403.6 217.3h1.8M410.5 212.9h1.8M426 220.4h1.8M419.5 220h1.8M422.4 228.5h1.8M413.7 236.5h1.8M427.4 221.8h1.8M433 222.2h1.8M439.4 227.6h1.8M417 214.6h1.8M439.2 221.9h1.8M449.2 218.9h1.8M455.3 212.3h1.8M412.9 226.5h1.8M437.4 218.1h1.8M459.6 215.1h1.8M432.4 226.6h1.8M427.1 229.9h1.8M404 236.4h1.8M457.2 222.7h1.8M403.5 229.1h1.8M424.4 227.4h1.8M431 223.6h1.8M436.2 204.7h1.8M456.8 207.1h1.8M440.8 228.1h1.8M441.6 230.7h1.8M438.2 215.5h1.8M434 226.5h1.8M407.4 229.8h1.8M455.4 220.6h1.8M428 226.8h1.8M427 224.8h1.8M395.3 229.1h1.8M452.7 212.5h1.8M441.9 219.3h1.8M446.1 218h1.8M420.6 236.4h1.8M408.2 221.8h1.8M429.5 220.2h1.8M426.4 226.1h1.8M408.6 224.4h1.8M432 224.5h1.8M446.9 215.3h1.8M439.4 222.1h1.8M433.6 224.8h1.8M418.4 224.1h1.8M425.1 227.2h1.8M427.1 228.4h1.8M446.6 231.2h1.8M460.1 222.2h1.8M464.5 216.9h1.8M441.8 220.1h1.8M421.4 222.7h1.8M396.6 227.4h1.8M432.6 222.8h1.8M417.5 222.5h1.8M427.6 229.9h1.8M423.4 215.5h1.8M416.7 225.1h1.8M435.1 222.8h1.8M416 221.6h1.8M414.7 220.3h1.8M447 229.1h1.8M439 217.8h1.8M440.7 227.6h1.8M422.2 228.1h1.8M425.9 217.7h1.8M425.6 219.4h1.8M417.3 221.5h1.8M413.7 231h1.8M434.7 217.9h1.8M423.8 220.5h1.8M415.8 230h1.8M436.1 226.8h1.8M429.2 220.2h1.8M424.7 215.2h1.8M448.8 226.7h1.8M412.3 230.5h1.8M436.9 214.7h1.8M428.8 228.3h1.8M435.4 213.5h1.8M435.3 218.6h1.8M435 226.5h1.8M431.3 227.8h1.8M448 228.2h1.8M434.2 216.4h1.8M405.6 221h1.8M452.5 221.2h1.8M449.9 226.2h1.8M396.3 219.7h1.8M398.7 223h1.8M453.3 225.5h1.8M444.5 219.4h1.8M414.6 230.6h1.8M412.1 231.9h1.8M432.9 227.7h1.8M422.1 224h1.8M419.3 216.1h1.8M440.9 215.6h1.8M440 215.6h1.8M434 225.7h1.8M435 218.9h1.8M411.4 238.7h1.8M414.9 228.6h1.8M440.5 232.9h1.8M457.9 225.2h1.8M428.8 218.5h1.8M403.5 223.9h1.8M436.3 223.5h1.8M463.2 207.6h1.8M421.8 214.7h1.8M444.2 217.5h1.8M405.4 223.6h1.8M428.4 219h1.8M406.9 230.8h1.8M439.4 220h1.8M427.6 218.1h1.8M409.2 233.3h1.8M425.2 225.8h1.8M435 222.1h1.8M422.8 226.9h1.8M419.2 225.1h1.8M408.6 235.6h1.8M427.2 219.4h1.8M457.7 217.7h1.8M406.9 226.4h1.8M429.8 218.5h1.8M419.3 219.7h1.8M431.6 224.9h1.8M420.9 218.6h1.8M406.6 222h1.8M437.8 230.9h1.8M420.6 222.1h1.8M414.1 226.3h1.8M438.7 218.8h1.8M405.6 214.7h1.8M433.1 218.1h1.8M434.2 229.5h1.8M411.3 213.1h1.8M426.2 232h1.8M417.9 220.6h1.8M397.4 230.7h1.8M432.2 226h1.8M426.6 229.7h1.8M401.5 224.2h1.8M424.2 229.4h1.8M443.1 201h1.8M442.3 230h1.8M435.3 213h1.8M402.4 223.1h1.8M443.2 220.4h1.8M419.8 221.8h1.8M412 223.8h1.8M412.6 223.2h1.8M424.1 229.4h1.8M411.5 226.7h1.8M418.1 234h1.8M422.5 231.5h1.8M434.2 221.4h1.8M431.7 223.4h1.8M433.6 226.2h1.8M440.8 227.8h1.8M430 238.2h1.8M432.8 216.9h1.8M434.2 219.1h1.8M406 228h1.8M423.1 229.8h1.8M424.6 224.5h1.8M423.7 217.4h1.8M439.9 224.4h1.8M424.7 225h1.8M449.3 214.2h1.8M432 219.4h1.8M417.6 225.6h1.8M442.2 230h1.8M407.7 222h1.8M434.9 225.9h1.8M408.4 224.2h1.8M436.3 216.3h1.8M415.3 212.3h1.8M420.7 231.4h1.8M441.4 221.7h1.8M449.2 216.6h1.8M438.4 216.9h1.8M438.1 228.9h1.8M408.2 222.5h1.8M418.1 217.8h1.8M440.5 217.5h1.8M406.9 228.7h1.8M418.8 215.7h1.8M471.3 213h1.8M450.9 216.8h1.8M422.1 225.9h1.8M408.7 227.7h1.8M418.8 219.3h1.8M403.9 223.8h1.8M397.2 232.2h1.8M433.3 214.2h1.8M433.3 225.5h1.8M406.9 215.7h1.8M431.3 219.6h1.8M415.3 216.8h1.8M411.5 223.9h1.8M430.1 223.8h1.8M433.3 219.3h1.8M430.7 231.5h1.8M421.2 220h1.8M436 221.9h1.8M427.7 216.6h1.8M434.3 220.3h1.8M427.7 218.9h1.8M430.9 230.4h1.8M436.3 213.4h1.8M420.3 222.4h1.8M401.9 230.8h1.8M448 227.8h1.8M438.9 227.4h1.8M431.9 230.2h1.8M432.2 220.9h1.8M427.9 234h1.8M410.6 232.6h1.8M427.4 228.7h1.8M433.9 215.8h1.8M406.6 240.3h1.8M424.9 219.7h1.8M408 214.4h1.8M462.3 223.2h1.8M414.4 220.9h1.8M442.9 221.1h1.8M433.1 225.4h1.8M415.2 225.6h1.8M411.3 222h1.8M430 232h1.8M417 224.1h1.8M417.1 233.5h1.8M413.7 229.8h1.8M453.4 216.5h1.8M418.9 225.4h1.8M438 229.5h1.8M420.6 239.4h1.8M405.2 228.3h1.8M433.5 206.3h1.8M438.6 222h1.8M428.4 210.3h1.8M400.7 233.5h1.8M448.5 211.4h1.8M422.9 216h1.8M443.1 215.8h1.8M410.7 227.6h1.8M425.7 219.4h1.8M417.6 231h1.8M434.7 223.3h1.8M419.9 234.8h1.8M402.2 228.7h1.8M436.7 224h1.8M405.1 233.7h1.8M425.9 223.4h1.8M415.9 220.8h1.8M429.3 235.2h1.8M434 222.9h1.8M443.6 224.3h1.8M441.1 220.8h1.8M421.1 219.2h1.8M414.8 227.8h1.8M430.7 228h1.8M438.7 225.7h1.8M404.9 226.1h1.8M408.9 230.2h1.8M444.1 222.1h1.8M432.7 223.7h1.8M397.9 227.1h1.8M412.5 219.6h1.8M426.5 229h1.8M443.1 222.7h1.8M434 223.5h1.8M424.6 223.7h1.8M438.9 222.7h1.8M416.7 226.5h1.8M439.5 224.9h1.8M417.2 207h1.8M458.1 226.9h1.8M437.9 228.7h1.8M419.9 224.7h1.8M419.4 236.7h1.8M432.2 227.7h1.8M414.1 236h1.8M407.1 220.6h1.8M406.9 232.2h1.8M438.6 214.7h1.8M422.1 210.2h1.8M426.6 226.8h1.8M427 227.2h1.8M464.9 216h1.8M428.3 220.2h1.8M455.2 223.4h1.8M433.5 220.5h1.8M426.9 225.2h1.8M430 222h1.8M440.2 213.8h1.8M430.9 231.4h1.8M400.5 225.8h1.8M429.3 222h1.8M437.6 223.6h1.8M416.4 219.5h1.8M458.7 223.1h1.8M405.8 228.7h1.8M433.9 210.8h1.8M433.5 212.4h1.8M418.3 225h1.8M421.5 225.3h1.8M431.5 225.3h1.8M451.5 214h1.8M409.5 229.1h1.8M425.1 220.5h1.8M407.7 231.6h1.8M465.9 219h1.8M447.7 229.5h1.8M420.3 221.3h1.8M391.8 236.3h1.8M417.7 229.4h1.8M410.6 221h1.8M400 230.2h1.8M445.1 221h1.8M419.6 224.8h1.8M440.3 221.1h1.8M406.7 227.6h1.8M418.9 230.6h1.8M416.1 220.2h1.8M439.9 205.6h1.8M423.1 230.4h1.8M450.1 225.5h1.8M444.8 218.2h1.8M402.8 226.3h1.8M414.6 231.7h1.8M431.9 231.2h1.8M461.9 218.1h1.8M429.5 217.1h1.8M421.6 237.1h1.8M387 228.7h1.8M422 228.7h1.8M440.6 228.3h1.8M428.1 225h1.8M420.5 221.6h1.8M435.7 209.2h1.8M421.7 217.7h1.8M440 224.9h1.8M443.4 219.1h1.8M447.9 231.7h1.8M441.1 229.5h1.8M437.4 230.8h1.8M450.9 224.1h1.8M456 219h1.8M424.2 216h1.8M446.5 211.7h1.8M421.2 230.2h1.8M443.2 216.3h1.8M427.6 215h1.8M462.4 222.2h1.8M436.7 215.1h1.8M406.5 213.1h1.8M420.3 224.1h1.8M431.5 219.4h1.8M449 217.1h1.8M415.5 232h1.8M432.7 218.9h1.8M408.6 227.2h1.8M402.4 219.5h1.8M449 219.2h1.8M410.7 229.6h1.8M418.1 221.6h1.8M454 216.4h1.8M457.1 202.7h1.8M447.7 226.1h1.8M402.2 230.8h1.8M434 218.2h1.8M445.4 227.8h1.8M408.9 220.7h1.8M429.8 226.4h1.8M435.5 230.1h1.8M416.2 230.5h1.8M441 231.2h1.8M431.5 220.1h1.8M407.2 220.1h1.8M420.1 223.2h1.8M406.2 229.5h1.8M438.7 223.1h1.8M416.9 215.9h1.8M430.5 218.2h1.8M418.4 221.5h1.8M426 226h1.8M439 215.4h1.8M437.1 216.4h1.8M459.5 208.3h1.8M423.7 225.7h1.8M404.1 218.7h1.8M434.8 214.9h1.8M425.3 215h1.8M428.3 220.8h1.8M416.7 224h1.8M435 210.9h1.8M416.9 224.6h1.8M419 229.9h1.8M451.5 212h1.8M390.5 234.4h1.8M434.9 228.2h1.8M429.6 222.1h1.8M413.2 227.3h1.8M443.9 226.8h1.8M419.3 223.9h1.8M410.5 220.5h1.8M440.9 216.1h1.8M409.4 225.3h1.8M428.7 224.1h1.8M421.6 219h1.8M461.6 211.3h1.8M423.9 233.3h1.8M442.7 219.5h1.8M404.9 218.1h1.8M409.6 225.7h1.8M420.3 220.9h1.8M416.1 229.4h1.8M423.6 222.3h1.8M443.6 224.7h1.8M427.7 224.5h1.8M452.6 220.4h1.8M450.2 220.8h1.8M435.5 217.2h1.8M434.4 227.3h1.8M419.4 232.1h1.8M409.2 223h1.8M451 219.5h1.8M439.5 217.3h1.8M428.8 221.8h1.8M409 220.8h1.8M433.8 216.4h1.8M406.9 227.8h1.8M434.6 214h1.8M423.7 220.2h1.8M441.9 219.9h1.8M444.9 222.6h1.8M423.9 229.2h1.8M394.2 226.4h1.8M402.5 225h1.8M414.4 221.5h1.8M440 214.1h1.8M450.2 218.2h1.8M436.9 221.2h1.8M418 216.4h1.8M434.1 228.1h1.8M439.4 212.1h1.8M453.6 217.9h1.8M396.5 227.6h1.8M434 217.1h1.8M423.1 230.8h1.8M390.7 222h1.8M438.1 214.3h1.8M415.6 219.6h1.8M414.2 227.5h1.8M394.6 224.6h1.8M410 219.5h1.8M427.9 221.8h1.8M424.4 220.8h1.8M414.6 221.7h1.8M418.7 216.1h1.8M455.3 216.2h1.8M444.6 225.1h1.8M436.9 223.3h1.8M440.7 226.3h1.8M405.1 220.9h1.8M442.3 213.5h1.8M418.4 212.1h1.8M423.9 219.7h1.8M413.2 227.8h1.8M427 221.5h1.8M430.4 213.4h1.8M418.3 225h1.8M437.3 222.8h1.8M387.7 240.1h1.8M434.4 206.8h1.8M431 227h1.8M428.1 226h1.8M436 227.8h1.8M406.8 223.6h1.8M437.3 214.2h1.8M407 232.1h1.8M418.2 228.7h1.8M406.1 226.9h1.8M435.3 227.4h1.8M419.9 237h1.8M448.3 228.4h1.8M455.3 200h1.8M443.8 209.2h1.8M430 233.7h1.8M415.1 214h1.8M388.9 230.2h1.8M438.5 221.6h1.8M419.5 209.7h1.8M454.9 208.8h1.8M412.3 230.3h1.8M453.4 214.5h1.8M432.1 203.8h1.8M437.7 206.4h1.8M442.6 222h1.8M439.4 221.7h1.8M432.2 216.8h1.8M426.9 221.2h1.8M432.9 220.2h1.8M402.7 222.4h1.8M418.4 219.1h1.8M419.1 218.8h1.8M440.7 225.2h1.8M430.7 221.7h1.8M423.9 227.8h1.8M439.6 227.5h1.8M440.1 222.9h1.8M407.8 232.3h1.8M401.3 225.5h1.8M469.3 217.6h1.8M416 220.4h1.8M429.8 230.5h1.8M412.8 230.1h1.8M423.1 214.2h1.8M434.9 218.2h1.8M444.3 210.3h1.8M434.2 231h1.8M432.1 224h1.8M418.3 228.5h1.8M445.1 234.9h1.8M427.4 215.2h1.8M421.6 216.8h1.8M410.5 228h1.8M405 227.4h1.8M421.7 220.5h1.8M438.7 216.7h1.8M437.4 215.6h1.8M435.4 225.6h1.8M399.5 223.8h1.8M420.5 230.4h1.8M430.1 220.7h1.8M395.5 236.5h1.8M451.1 222.1h1.8M438 224.7h1.8M421.1 222.2h1.8M414.6 217.2h1.8M440.6 215.3h1.8M443.1 215.8h1.8M444.9 228.9h1.8M388.1 226.1h1.8M401.1 226.9h1.8M441.7 205.4h1.8M433.9 222.3h1.8M433.1 225.3h1.8M404.5 237.4h1.8M431 222.9h1.8M400.8 225.3h1.8M415.5 230.1h1.8M459.7 219.9h1.8M392 223.3h1.8M432.9 221.5h1.8M441.9 215.6h1.8M418.4 224.8h1.8M415.4 231.2h1.8M433.1 232.9h1.8M431 217.8h1.8M417 227h1.8M419.5 231h1.8M431.5 237.5h1.8M442.3 227.4h1.8M449.2 217h1.8M433.9 211.7h1.8M432.5 222.9h1.8M438.2 222.3h1.8M440.2 209.7h1.8M440.3 208.9h1.8M411.8 234.8h1.8M449.4 215.4h1.8M440.5 222.4h1.8M409.4 218.2h1.8M420.5 218.4h1.8M442.6 228.5h1.8M447.1 217h1.8M408.2 227.3h1.8M430.3 219.8h1.8M444.1 227.7h1.8M403.3 224.9h1.8M415.3 226.3h1.8M431.9 221.7h1.8M397 229h1.8M419.5 230.4h1.8M416.2 231.8h1.8M448.4 214.3h1.8M443.8 227.3h1.8M416.7 222.4h1.8M421.2 226.9h1.8M412.4 218.1h1.8M426 224.5h1.8M442.3 217.5h1.8M425 218.8h1.8M429.5 230.4h1.8M446.3 228.2h1.8M433 226.1h1.8M414.9 232.6h1.8M440.9 229.8h1.8M450.3 219.1h1.8M418.7 230h1.8M448.3 215h1.8M411.5 223h1.8M437.8 202.3h1.8M432.6 223.7h1.8M419.8 218.4h1.8M432.3 210.4h1.8M448.6 222.7h1.8M415.7 222.2h1.8M427.4 202.9h1.8M413.6 226.8h1.8M439.8 216.8h1.8M402.2 232.3h1.8M437.1 225.7h1.8M398.3 217.6h1.8M435.1 211.8h1.8M440.7 227.3h1.8M420.4 221.1h1.8M423.1 229.2h1.8M443.9 221h1.8M421.3 222.2h1.8M441.1 213.6h1.8M418.4 228.4h1.8M449.9 216.4h1.8M411.5 224h1.8M408.9 222.2h1.8M422.6 219.5h1.8M415.3 226.3h1.8M419 222.9h1.8M429.6 224.3h1.8M415.6 216.7h1.8M445.5 218.1h1.8M424 208.8h1.8M426.7 227.1h1.8M445.9 217.9h1.8M429.1 235.9h1.8M430 217.4h1.8M392 224h1.8M391.3 223.2h1.8M412.8 222.4h1.8M453.6 217.7h1.8M444.1 226.1h1.8M451 228.4h1.8M444.7 215.6h1.8M438 200.8h1.8M453.7 209.7h1.8M423.4 229.5h1.8M410 222.2h1.8M411.5 228.2h1.8M429.3 210.9h1.8M407.8 217.2h1.8M433.9 219.7h1.8M410.9 218.9h1.8M428.7 221.1h1.8M397.1 225.3h1.8M391.4 240h1.8M408.9 226.4h1.8M448 225.4h1.8M436.6 227.1h1.8M431.1 232.8h1.8M408.1 213h1.8M397.6 225.3h1.8M440.9 219.4h1.8M399.3 230.4h1.8M391.2 236h1.8M429 212.7h1.8M404.9 240.6h1.8M429.3 218.4h1.8M403.9 225.2h1.8M422.6 233.4h1.8M422.5 233h1.8M410 228.9h1.8M415.4 226h1.8M434.1 214.5h1.8M409.5 223.8h1.8M411.1 218.3h1.8M435.4 230.6h1.8M423.8 222.2h1.8M427.4 222.2h1.8M443 215.1h1.8M437.9 224.6h1.8M415.6 211.9h1.8M435.8 214.8h1.8M413.3 227.5h1.8M419.2 226h1.8M406.7 240.8h1.8M417.4 226.8h1.8M419.8 233.6h1.8M437.8 217.2h1.8M429.3 224.9h1.8M421.6 218.3h1.8M411.3 216.1h1.8M456.9 218.9h1.8M439.2 226.1h1.8M436.7 221.8h1.8M407.8 231.8h1.8M419.8 232.4h1.8M438.9 233.1h1.8M420 222h1.8M436.9 213.4h1.8M433.3 217.3h1.8M456.1 219.1h1.8M430.3 233h1.8M432.5 226.7h1.8M432.9 220.3h1.8M409.7 229.1h1.8M422.6 222.1h1.8M443.4 216.1h1.8M447.4 220.6h1.8M432 230.8h1.8M429.4 234.1h1.8M435.8 216.3h1.8M454.3 211.1h1.8M422 221.4h1.8M411.1 216.2h1.8M421.1 225.3h1.8M416.4 224.7h1.8M407.2 219.9h1.8M445.4 224.3h1.8M421.8 219.8h1.8M457.1 209.9h1.8M405.7 225h1.8M394.1 221.4h1.8M414.5 232h1.8M397 227.8h1.8M425.8 225.9h1.8M462.8 202.9h1.8M462.8 224.6h1.8M453.3 222.4h1.8M425.6 227.2h1.8M404.5 227.6h1.8M412.2 222.3h1.8M407.6 231.8h1.8M409.1 232.3h1.8M422.7 227.6h1.8M445.7 220.9h1.8M435.2 226.2h1.8M453.5 208.6h1.8M448.1 210.1h1.8M421.5 234h1.8M441.3 215.3h1.8M415.2 229h1.8M417.7 234.9h1.8M438.2 226.1h1.8M438.1 222.6h1.8M437 224.3h1.8M431.2 219.1h1.8M437.9 216h1.8M435.8 224.3h1.8M422.7 214h1.8M433.1 220.9h1.8M456.4 226.6h1.8M424 219.9h1.8M403.9 227h1.8M405 218.8h1.8M431.8 226.3h1.8M422.5 208.7h1.8M446 220.3h1.8M429.3 211.2h1.8M432.2 227.6h1.8M443.1 226.1h1.8M442.1 235.6h1.8M428.6 219.6h1.8M420.6 220.7h1.8M439.1 217h1.8M413.6 221.8h1.8M421.7 215.8h1.8M414.5 217.9h1.8M446.5 213.8h1.8M422.5 222.3h1.8M427.6 215.9h1.8M430.5 209.8h1.8M438.4 229.7h1.8M445.3 218.8h1.8M442.7 221.1h1.8M452.6 212.9h1.8M445.2 218.9h1.8M424 226.4h1.8M432.7 220.8h1.8M427.8 231.1h1.8M410.1 217.2h1.8M438.4 231.3h1.8M401.8 238.2h1.8M423.6 229h1.8M445.4 214.5h1.8M416.8 233h1.8M405.1 227.2h1.8M411.7 221.9h1.8M439.6 219.4h1.8M434.5 223.9h1.8M441.9 226.7h1.8M420.7 225.5h1.8M414.5 223.5h1.8M446 216.7h1.8M394.5 221.7h1.8M444.3 226.8h1.8M421.6 224.5h1.8M422.5 232h1.8M436.3 214.4h1.8M425.4 227.7h1.8M408.2 227.8h1.8M412.1 226.1h1.8M415.5 210h1.8M430.8 219.1h1.8M445.2 222.7h1.8M443.5 218.6h1.8M414.5 226.5h1.8M414.6 225.8h1.8M445.3 211.3h1.8M438 222.8h1.8M455.7 224.3h1.8M432.4 215.1h1.8M412 229h1.8M417.8 215.6h1.8M408.3 233.4h1.8M425.5 220.1h1.8M421.5 235.7h1.8M412.6 211.3h1.8M397.9 232.4h1.8M427.3 230.4h1.8M414.1 210.7h1.8M412.7 226h1.8M466.5 214.1h1.8M404.5 234.9h1.8M415.1 238.3h1.8M444.2 222.6h1.8M424.9 224h1.8M444 219.6h1.8M412.6 230.7h1.8M416.1 227.4h1.8M431.9 212.1h1.8M438.2 232.4h1.8M422.5 223.4h1.8M421.7 226.2h1.8M418.9 231.5h1.8M410.9 223h1.8M413.9 226.1h1.8M422.3 219.5h1.8M440.3 220.2h1.8M431 237.8h1.8M431.7 221.9h1.8M396.2 236.6h1.8M426.3 229.2h1.8M433.3 223.9h1.8M431.5 224h1.8M423.8 211.7h1.8M442 222.1h1.8M434.9 224h1.8M432.5 216.2h1.8M413.7 235.1h1.8M438.4 232.2h1.8M428.7 212.3h1.8M438.4 227h1.8M393.8 219.9h1.8M434.5 211.9h1.8M427.5 227.8h1.8M439.7 221.3h1.8M409.7 227.7h1.8M423.1 224.2h1.8M436.8 207.6h1.8M450.8 224.1h1.8M464.2 217.6h1.8M404.8 227.9h1.8M406.8 225.6h1.8M421.4 226.9h1.8M436.3 221.2h1.8M438.1 231.8h1.8M407.8 230.2h1.8M426.1 232.6h1.8M440.1 225.9h1.8M433.2 222.4h1.8M418 220.8h1.8M426.7 215.6h1.8M430.4 220.7h1.8M407.1 227.6h1.8M442.4 219.4h1.8M411.6 224.6h1.8M426.8 230.4h1.8M410.4 217.8h1.8M404.3 235.4h1.8M429.3 222.3h1.8M429.6 215.8h1.8M460.7 213.9h1.8M425.9 221.3h1.8M435.4 214.3h1.8M454.5 233.3h1.8M408.2 220.5h1.8M417.1 234h1.8M434.3 227.3h1.8M430.7 223.8h1.8M431.4 225.1h1.8M448 206h1.8M428.1 215.2h1.8M425.3 210.3h1.8M429.7 234.5h1.8M435.2 219.2h1.8M439.8 225.8h1.8M433 223.9h1.8M392.9 225.9h1.8M422.3 217.2h1.8M431.7 212.2h1.8M432.8 231.4h1.8M428.9 237.4h1.8M425.1 228.9h1.8M442.4 215.2h1.8M458.5 224.5h1.8M425.7 224.7h1.8M428.5 216.6h1.8M470.2 214.4h1.8M429.9 209.9h1.8M436.4 219h1.8M447.1 203.1h1.8M422 219.4h1.8M428.7 225.5h1.8M419.6 232.5h1.8M451.9 213.1h1.8M435.4 223.6h1.8M398.4 228.1h1.8M457.3 220.2h1.8M445 217.4h1.8M420.9 218.2h1.8M447.1 220.2h1.8M440.2 214.7h1.8M449.5 221.1h1.8M435 216.3h1.8M430.6 220.4h1.8M418.4 225.5h1.8M419.7 223.4h1.8M419.3 222.6h1.8M447.3 218.5h1.8M424.1 222.8h1.8M438.9 223.5h1.8M415.2 230.2h1.8M402.4 224h1.8M420.2 228.1h1.8M429.4 228.4h1.8M417.3 226.9h1.8M450.4 226h1.8M431.1 213.7h1.8M450.8 219.7h1.8M454.3 226.3h1.8M410.5 218.7h1.8M406 220.8h1.8M411.6 228.4h1.8M435.4 212.6h1.8M396.3 230.5h1.8M409.7 240.8h1.8M396.6 227.3h1.8M427.7 222.6h1.8M463.2 210.6h1.8M431.1 225.7h1.8M441.1 212.3h1.8M431 220.7h1.8M423.4 218.9h1.8M435.8 210.2h1.8M419.3 228h1.8M411.9 226h1.8M401.7 223.9h1.8M415.3 229.6h1.8M420.5 213.9h1.8M441.9 221h1.8M420.2 216.4h1.8M440.3 223.8h1.8M429.7 223.2h1.8M430.1 217.5h1.8M402.1 221.1h1.8M418.8 239.6h1.8M412 224.8h1.8M411.6 217.5h1.8M409.9 215.1h1.8M436.6 228.3h1.8M416.4 236.8h1.8M441.5 226.7h1.8M430.1 223.4h1.8M419.5 216h1.8M433.8 216.3h1.8M402.5 225.4h1.8M415.4 224h1.8M435.9 219.9h1.8M432.7 238.2h1.8M391.8 232.1h1.8M430.6 220.3h1.8M419 226.9h1.8M415.7 235.4h1.8M438 220h1.8M427.2 230.5h1.8M436 224h1.8M438.1 225.4h1.8M440.7 223.8h1.8M454.8 217.8h1.8M416.2 220h1.8M455 216.3h1.8M416.7 227.8h1.8M412.5 231h1.8M410.7 229h1.8M419 217.6h1.8M421.8 220.6h1.8M459.7 207.5h1.8M435.5 211.5h1.8M424.9 209.3h1.8M398.2 228h1.8M451.5 231.4h1.8M439 211.5h1.8M421.3 230.7h1.8M394.9 238.5h1.8M397.9 226h1.8M416.4 230.9h1.8M426.1 221.9h1.8M472.8 216.3h1.8M418 208.6h1.8M433.5 223.3h1.8M424.3 227.2h1.8M412.1 213.6h1.8M398.3 228.5h1.8M435.8 222.6h1.8M419.2 220.4h1.8M435.9 220.2h1.8M433 216.4h1.8M443 217.4h1.8M426.5 220.1h1.8M431.8 217.2h1.8M407.8 235.5h1.8M437.1 225.4h1.8M436.1 221.6h1.8M433.3 222.1h1.8M435.7 227.1h1.8M397 231.8h1.8M419.9 223.3h1.8M423.7 224.6h1.8M445.5 237.7h1.8M425.3 222.4h1.8M412.9 213.9h1.8M420.8 225h1.8M425.8 217.5h1.8M427.3 214.8h1.8M444.6 228h1.8M410.9 233h1.8M418.1 215.2h1.8M411.2 214.9h1.8M422.6 226.8h1.8M419.8 224h1.8M430 218.4h1.8M422.4 229.5h1.8M462.6 224.8h1.8M426.1 220.7h1.8M435.6 223.3h1.8M450.4 217h1.8M421.3 222.7h1.8M406.4 227.3h1.8M421.4 230.4h1.8M407.6 226.3h1.8M425 220.4h1.8M444.5 216.1h1.8M405.3 222.5h1.8M422 220.3h1.8M450.6 216.3h1.8M446.5 221.3h1.8M389.6 237h1.8M441.3 217.7h1.8M455.1 229.7h1.8M414.9 225.9h1.8M435.1 222.8h1.8M449.6 219.2h1.8M428.2 234.7h1.8M400.9 225.4h1.8M464.8 222.4h1.8M444.2 221.7h1.8M418 223.9h1.8M413.7 223h1.8M396.6 229.8h1.8M427.5 219.9h1.8M437.2 213.3h1.8M438.5 212.9h1.8M442.5 215.2h1.8M421.8 216.8h1.8M410.5 222.7h1.8M414.7 222.7h1.8M450.9 218.4h1.8M424.9 223.4h1.8M435.6 223.2h1.8M405.3 215.2h1.8M430.6 228.6h1.8M409.5 223.8h1.8M418.8 226h1.8M407.7 219.6h1.8M429.5 221.3h1.8M422.8 218.7h1.8M431.5 227.2h1.8M439.9 220.2h1.8M455.4 217.8h1.8M433.7 224.7h1.8M415 226.4h1.8M413.2 224.8h1.8M447.4 216h1.8M415.7 221.7h1.8M433 218.8h1.8M424.3 225.7h1.8M406.2 221.1h1.8M424.8 219.5h1.8M417.8 223.2h1.8M433.5 226.6h1.8M433.6 223.8h1.8M403.1 221.4h1.8M411.9 228.8h1.8M438.8 214.7h1.8M428.1 232.2h1.8M429 227.6h1.8M418.5 217h1.8M432.2 220.7h1.8M419.2 221.3h1.8M442.1 226h1.8M451.3 221.7h1.8M413.9 221.4h1.8M410.3 224.4h1.8M441.6 215.9h1.8M419.9 220.5h1.8M426.2 234h1.8M417.6 227.9h1.8M421.4 235.6h1.8M410.8 225.5h1.8M452.3 203.9h1.8M428.3 229.5h1.8M427.6 226.8h1.8M430.3 215.8h1.8M408.9 238.8h1.8M416.5 237.4h1.8M414.9 212.1h1.8M428.2 234.2h1.8M410.3 233.3h1.8M408.7 231.4h1.8M413.3 235.7h1.8M434.1 226.3h1.8M441.2 216.9h1.8M401.5 220h1.8M415.9 229.7h1.8M409.5 231.7h1.8M429.5 215.3h1.8M411.6 226.5h1.8M413.8 229.1h1.8M439.9 221.4h1.8M451.5 209.5h1.8M439 219.5h1.8M454 227.3h1.8M455.3 213.9h1.8M420.5 217.1h1.8M424.2 212.3h1.8M403.8 224.9h1.8M425.8 218.1h1.8M419.4 200.6h1.8M430 218.7h1.8M440.4 213.3h1.8M439.5 220.3h1.8M423.7 211.3h1.8M431 211.7h1.8M424.3 217.9h1.8M417.6 221.5h1.8M440.2 208.7h1.8M440.4 221.4h1.8M422.7 229.2h1.8M414.8 222.9h1.8M428.3 222.3h1.8M433.6 226.3h1.8M437 217h1.8M411.6 223.9h1.8M431.6 227.7h1.8M424.8 220.5h1.8M393.5 240.6h1.8M442 225.1h1.8M441.7 212.1h1.8M424 230.3h1.8M403.6 224.4h1.8M455.3 209.3h1.8M423.2 222.3h1.8M433.2 218.4h1.8M444.1 211.1h1.8M427.6 217.8h1.8M406.5 230.7h1.8M432.1 217.6h1.8M425 227.1h1.8M404.4 227.8h1.8M434.9 228.6h1.8M430.2 212.6h1.8M424.3 220h1.8M449.7 228h1.8M440 217.2h1.8M416.6 223.7h1.8M477.2 214.7h1.8M433.3 222.9h1.8M430.5 219.4h1.8M424.9 218.6h1.8M436.6 221.8h1.8M411.9 217.2h1.8M422.8 219.1h1.8M390.6 226.2h1.8M419.5 239.5h1.8M442.2 232.5h1.8M463.8 217.6h1.8M427.6 217h1.8M439 232.8h1.8M425.1 207.8h1.8M416.5 226.9h1.8M434.2 222.8h1.8M452.5 213.1h1.8M433.9 225.2h1.8M446.3 208.2h1.8M430.1 218.8h1.8M416.7 227.1h1.8M420.2 223.7h1.8M411.2 216.1h1.8M409 239.3h1.8M418.7 224.9h1.8M439.3 218.5h1.8M456.8 219.4h1.8M435.7 213.5h1.8M416.2 218.6h1.8M420.1 231.8h1.8M439.4 215.8h1.8M420.8 231.8h1.8M431.7 214.9h1.8M404.1 227.2h1.8M411.5 224h1.8M449.1 219h1.8M437.1 218.5h1.8M461.1 217.3h1.8M420.1 224h1.8M415.6 218.3h1.8M404.8 220.5h1.8M433.2 225.6h1.8M438 214.2h1.8M418.3 234.3h1.8M430.1 220.2h1.8M458.9 218.1h1.8M416.3 222.9h1.8M440.9 222.3h1.8M439.6 218.6h1.8M420.6 214.4h1.8M425 223.8h1.8M397 209.3h1.8M435.2 215.7h1.8M402.2 227.6h1.8M438 214h1.8M431.5 231.1h1.8M427.8 214.5h1.8M409.5 227.9h1.8M423.6 234.5h1.8M432.7 213.6h1.8M432.1 217.8h1.8M462.1 213.6h1.8M425.3 214.4h1.8M424 219h1.8M412.3 232.7h1.8M425 216.5h1.8M437.6 224.6h1.8M428.9 231h1.8M433 228.6h1.8M406.5 234.8h1.8M433.1 224.9h1.8M405.2 223.4h1.8M434.9 227.4h1.8M434 212.5h1.8M399.5 217.3h1.8M441.3 227.8h1.8M423.4 229h1.8M437.2 221.9h1.8M437 221.5h1.8M438.4 216.4h1.8M436.7 225.9h1.8M390.8 222.6h1.8M402.5 228.5h1.8M429.3 208.5h1.8M416.6 232.5h1.8M430.9 214.4h1.8M437.7 214h1.8M427.7 224.9h1.8M422.2 219.5h1.8M436.2 214.8h1.8M418.7 223h1.8M418 224h1.8M441 217.6h1.8M432.8 228.8h1.8M438 219h1.8M419.8 235.9h1.8M454.1 222.6h1.8M422.1 230h1.8M410.2 217.8h1.8M439.5 221.3h1.8M410.2 225.5h1.8M416.2 227h1.8M401.5 226.4h1.8M435.1 228.5h1.8M429.1 230.9h1.8M435.9 216.8h1.8M462.2 209.7h1.8M436.2 230.8h1.8M452 221.7h1.8M425.4 233.2h1.8M432.2 219.9h1.8M437.4 214.4h1.8M424 219.7h1.8M414.2 209h1.8M404.5 218.3h1.8M417.4 228.2h1.8M444.8 211.4h1.8M442.7 221.4h1.8M437.2 210.7h1.8M409.4 224.6h1.8M430.4 218.2h1.8M427 214h1.8M422.5 221.4h1.8M406.5 230.7h1.8M415.8 237.4h1.8M415.8 226.6h1.8M447.6 224.3h1.8M411.2 221.6h1.8M456.6 225.3h1.8M431.6 211.8h1.8M436.6 238.2h1.8M432.5 221.8h1.8M440.2 233.3h1.8M413.2 221.4h1.8M455.7 206.6h1.8M429.2 216.4h1.8M434.7 215.2h1.8M437.1 221.7h1.8M415.3 225.1h1.8M426.4 225.3h1.8M393.2 226.1h1.8M433.2 223.9h1.8M426.3 206.4h1.8M434.2 220.7h1.8M431.3 221.9h1.8M417 224.3h1.8M452 230.9h1.8M442.1 230.8h1.8M439.7 224.6h1.8M413.9 227.2h1.8M449 223.4h1.8M442.7 224.7h1.8M437 218.6h1.8M454.1 230.2h1.8M459.9 219.1h1.8M421.6 221.5h1.8M457.7 213.2h1.8M443.9 226.8h1.8M468.2 221.6h1.8M468.2 206.6h1.8M427 233.3h1.8M433.8 210.2h1.8M432.2 229.9h1.8M424.6 219.8h1.8M412.8 216.9h1.8M405.5 217.6h1.8M439.5 226.5h1.8M425.5 227.1h1.8M423.7 221.7h1.8M444.9 205.3h1.8M445.5 214.6h1.8M427.4 222.9h1.8M432.2 221.5h1.8M399.3 233.6h1.8M415.2 224.6h1.8M435.2 211.1h1.8M425.1 225.4h1.8M452.6 224.5h1.8M440.5 213h1.8M395.3 234.3h1.8M409.4 227.5h1.8M436.3 216.5h1.8M421.5 223.5h1.8M422.2 228.2h1.8M406.2 226.2h1.8M439.2 229.2h1.8M439.2 207.2h1.8M456.3 212.7h1.8M434.6 218.5h1.8M450.1 219.1h1.8M421.9 224.8h1.8M418.7 224h1.8M436.9 219.3h1.8M465 224.3h1.8M418.3 226.8h1.8M431.3 226.6h1.8M417.7 213.3h1.8M424.7 234.5h1.8M431.2 230.1h1.8M415.2 231.2h1.8M456.9 221.9h1.8M452.1 219.3h1.8M440.9 217.7h1.8M420.6 230.2h1.8M414.1 223.9h1.8M437.9 218.4h1.8M435.1 222h1.8M425.4 221.6h1.8M423 212.2h1.8M408.7 225.5h1.8M414.6 230.8h1.8M444 215h1.8M433.2 220.7h1.8M433.1 229.4h1.8M411.4 221.7h1.8M408.6 222.1h1.8M433.2 214.3h1.8M414.1 225.7h1.8M414.4 217.7h1.8M429.1 217.6h1.8M439.4 221.7h1.8M417.9 217.9h1.8M428.4 223.7h1.8M430.9 227.2h1.8M437.6 213.3h1.8M411 225.4h1.8M399.5 221.4h1.8M439.4 223.9h1.8M419.3 226.5h1.8M412.5 218.6h1.8M408 225.9h1.8M424.4 212.9h1.8M431.6 230.6h1.8M440.8 219.2h1.8M441.2 221.3h1.8M426.4 219.8h1.8M414.9 222.2h1.8M407.7 221.5h1.8M432.1 208.8h1.8M442.1 212.6h1.8M417 220.4h1.8M439.2 224.1h1.8M410.6 226.8h1.8M429.2 238.5h1.8M413.6 216.5h1.8M411.5 219.6h1.8M419 230.8h1.8M423.7 227.8h1.8M419.1 216.1h1.8M412.3 217.6h1.8M442.7 234.5h1.8M437.6 223.3h1.8M430.6 226.6h1.8M449.7 205.6h1.8M423.4 221.1h1.8M413.2 233.3h1.8M411.9 221.9h1.8M400.2 216h1.8M439.2 223.9h1.8M454.3 209.5h1.8M428.2 218.5h1.8M432 221.6h1.8M429.9 229.9h1.8M436.4 214.3h1.8M429.1 223.5h1.8M440.2 218.7h1.8M447.2 226.9h1.8M421.5 221.8h1.8M446.8 223.9h1.8M443.4 212.3h1.8M421 220.1h1.8M420.2 213.4h1.8M436.4 232.9h1.8M423.4 208.2h1.8M440.6 220h1.8M444.7 209.7h1.8M425.8 226.3h1.8M398.1 229.7h1.8M425.4 221.9h1.8M436.3 220.3h1.8M402.4 233.2h1.8M439.6 211.3h1.8M425.7 213.5h1.8M405.4 220.3h1.8M461.4 206h1.8M449.8 215.2h1.8M435.3 217h1.8M462 206.2h1.8M447 217.1h1.8M420.4 225.3h1.8M449.1 218.3h1.8M438.1 215h1.8M435.9 211.1h1.8M444.3 221.1h1.8M450.8 209.7h1.8M454.6 223.1h1.8M439.9 230.9h1.8M424.7 215.2h1.8M453.8 200.6h1.8M444.9 207h1.8M440.2 213.3h1.8M444.7 213h1.8M437.9 210.6h1.8M447.7 213.4h1.8M435.4 234.1h1.8M432.8 208h1.8M462.9 220.9h1.8M454.1 205.7h1.8M438.8 207.2h1.8M440.9 214h1.8M447 218.8h1.8M440.1 217.1h1.8M440.7 203.9h1.8M437.3 212.9h1.8M464.9 208.2h1.8M461.3 206.2h1.8M447.8 209h1.8M437.3 218.8h1.8M447.9 207.5h1.8M467.9 222.1h1.8M437.1 218.7h1.8M443.9 214.8h1.8M444.9 217.8h1.8M428.2 208h1.8M434.7 209.3h1.8M425.8 211.8h1.8M445.6 208.4h1.8M448.5 223.2h1.8M424.7 223.1h1.8M434.4 222.3h1.8M446.9 221.3h1.8M420 230.3h1.8M437.6 213.4h1.8M446.2 224h1.8M448.7 221.2h1.8M426.2 214.7h1.8M449.6 212.4h1.8M455.9 212.8h1.8M442.7 200.1h1.8M437.8 214h1.8M450.6 221.1h1.8M443.8 225.9h1.8M431.3 214.3h1.8M441.1 206.5h1.8M428.2 216.4h1.8M437.9 205.4h1.8M448.2 210h1.8M444.8 215.5h1.8M442.1 210.7h1.8M451.1 210.4h1.8M445.9 230.8h1.8M421.6 214.4h1.8M454.9 212.1h1.8M415.7 213.4h1.8M456 210h1.8M465.4 212.3h1.8M441.1 216h1.8M431.1 215.8h1.8M441.8 205h1.8M442.6 205h1.8M455 206h1.8M449.1 212.7h1.8M444.5 205.4h1.8M443 219.1h1.8M450.6 217.4h1.8M453.6 209.9h1.8M440.2 212.8h1.8M444.8 210.7h1.8M444.4 208.5h1.8M434.9 218.1h1.8M437 221.1h1.8M443.5 220.5h1.8M444.4 217.9h1.8M429.7 216.1h1.8M450 219h1.8M440.8 224.6h1.8M423.8 209.1h1.8M443.3 223.8h1.8M440.9 223.1h1.8M448.2 211.8h1.8M425.2 219.8h1.8M446.1 207.3h1.8M439 233.6h1.8M440.5 221.8h1.8M436.9 215.9h1.8M441.2 217.8h1.8M438.5 212.9h1.8M444.6 211.3h1.8M462.9 208.4h1.8M442.6 219h1.8M440.5 218.2h1.8M428.1 228h1.8M440.1 206h1.8M435 200.7h1.8M417.6 214.1h1.8M448.2 211.8h1.8M444.5 208.5h1.8M439.8 212.1h1.8M452.5 210.4h1.8M423.7 217.3h1.8M425.6 208.8h1.8M431.2 209.8h1.8M442.9 212.4h1.8M450.5 219.9h1.8M457.5 221.8h1.8M435.1 199.4h1.8M452.4 216.8h1.8M441.3 211.4h1.8M439.2 213.4h1.8M448.8 215.3h1.8M445.1 218.1h1.8M472.4 213.8h1.8M454.4 206.1h1.8M448.8 212h1.8M454.1 220.7h1.8M460.2 220.9h1.8M450.5 214.1h1.8M446.6 215.3h1.8M446.1 220.4h1.8M428.4 214.8h1.8M441.8 209.4h1.8M428.2 212.3h1.8M438.2 211h1.8M431.1 215.3h1.8M445.3 212.7h1.8M442.9 218.5h1.8M449.4 206.1h1.8M443.5 211.5h1.8M452.6 208.3h1.8M454.3 207.4h1.8M437.2 210.6h1.8M446.3 219.3h1.8M441.8 212h1.8M427.1 216.6h1.8M432.7 214.5h1.8M444.2 218.9h1.8M447 214.1h1.8M451.8 218.6h1.8M423.2 207.7h1.8M437.3 216.3h1.8M451.2 221h1.8M447.8 208.9h1.8M446.3 209.7h1.8M443.8 209.8h1.8M435.7 212.1h1.8M432.8 211.2h1.8M437.3 211.2h1.8M452.1 195.2h1.8M414.6 219.8h1.8M436.6 212.7h1.8M431.2 202.2h1.8M438.7 211.8h1.8M436.1 211.4h1.8M433 211.9h1.8M442.3 221.5h1.8M433.3 219.4h1.8M433.9 218.4h1.8M437.2 214.5h1.8M465.6 210h1.8M449.9 212h1.8M460.3 223.2h1.8M442.5 204.2h1.8M459.3 210.7h1.8M456.4 209.7h1.8M437 216.1h1.8M461.6 225.3h1.8M440 209.3h1.8M457.1 215.3h1.8M443.1 209.2h1.8M450.9 210.3h1.8M464.9 207.5h1.8M447 229.4h1.8M442.1 208.2h1.8M433.2 225.5h1.8M434 221h1.8M436 226.3h1.8M425.2 221.7h1.8M457.3 220.7h1.8M447.9 208h1.8M437 217.3h1.8M440.6 209.7h1.8M438.1 193.4h1.8M441.9 201.8h1.8M437 215.1h1.8M444.6 215.4h1.8M452.3 207.5h1.8M462.5 211.7h1.8M446.1 214.6h1.8M434.2 221.4h1.8M444.1 208.7h1.8M440.4 219.2h1.8M426.5 220.9h1.8M443.2 216.8h1.8M455.9 194.1h1.8M442.8 213.4h1.8M442.2 221.8h1.8M427.3 225.6h1.8M436.1 229.1h1.8M437.4 229.7h1.8M449.2 219.9h1.8M443.1 214.6h1.8M455.3 207.7h1.8M445.3 211.5h1.8M456.9 205.3h1.8M447.6 208.1h1.8M449.8 199.5h1.8M428.2 211.1h1.8M457.9 220.2h1.8M452.1 211.1h1.8M418.4 211.7h1.8M438.4 198.8h1.8M453.1 216.7h1.8M445.6 222.1h1.8M449.7 213.2h1.8M453.9 200.7h1.8M459.3 213h1.8M452.2 214.5h1.8M449.3 202.5h1.8M455.1 225.8h1.8M438.7 215h1.8M451.4 218.1h1.8M447.2 215.2h1.8M458.5 208.4h1.8M434 217.4h1.8M451 223h1.8M437.4 210.4h1.8M437.1 214.2h1.8M431.8 210.3h1.8M442.6 215.2h1.8M448.1 223.2h1.8M455.3 209.4h1.8M440.3 220.2h1.8M444.7 208.9h1.8M437 223.6h1.8M436.9 207.5h1.8M447.7 215.6h1.8M435.3 207.6h1.8M437.2 223.1h1.8M439.1 211.7h1.8M432.6 218.7h1.8M441.9 221.8h1.8M447 197.1h1.8M418 214.1h1.8M454.1 202.3h1.8M423.6 218.8h1.8M435.4 213.2h1.8M441.1 210.4h1.8M424.4 212.3h1.8M434.1 210.3h1.8M424.9 232.4h1.8M442.3 212.1h1.8M461.8 218.6h1.8M445.5 201.7h1.8M436.1 209h1.8M448 204.5h1.8M439.6 205.7h1.8M437.3 224.8h1.8M460.7 211.6h1.8M454.2 209.1h1.8M448.4 226h1.8M445.6 221.1h1.8M437.4 212.7h1.8M429.9 209.9h1.8M437.1 223.7h1.8M450.3 206.5h1.8M447.6 215.3h1.8M440.9 228.1h1.8M431.9 208.6h1.8M438.5 217.9h1.8M437.8 212.9h1.8M452.3 208.3h1.8M451 218.2h1.8M448.3 210.9h1.8M457.3 211.4h1.8M423.2 216h1.8M436.8 209.4h1.8M440.2 211.6h1.8M440.2 212.8h1.8M438.8 226.7h1.8M441.4 213.9h1.8M448.9 224.2h1.8M451 208.7h1.8M461.8 201.6h1.8M458.2 223.5h1.8M467.7 205.1h1.8M446.5 220.1h1.8M447.7 223.6h1.8M439.1 210h1.8M456.2 200.1h1.8M448.9 208.9h1.8M436.9 219.5h1.8M432.5 210h1.8M454.8 217.2h1.8M449.4 217.3h1.8M435.7 212h1.8M424.7 211.1h1.8M432.8 218.3h1.8M455.8 214.9h1.8M438.8 207.2h1.8M419.7 221.9h1.8M432.8 206.8h1.8M434.9 218.9h1.8M422.2 225.4h1.8M454.8 214.1h1.8M453 213.3h1.8M444 216.4h1.8M435.4 220.8h1.8M449.6 209.5h1.8M453.1 188h1.8M457.5 195.9h1.8M449.7 222h1.8M432.7 215.1h1.8M456.5 220h1.8M450 206.6h1.8M452.1 210.9h1.8M465 187h1.8M457.3 204.8h1.8M436.5 203.4h1.8M446.1 204.1h1.8M453.4 207.4h1.8M460.5 183.9h1.8M464.1 199.2h1.8M452.7 214.9h1.8M455 198.3h1.8M433 197.2h1.8M444.7 212.6h1.8M452.4 194.9h1.8M444.6 198.7h1.8M455.2 210.3h1.8M454.4 209.3h1.8M443.3 207.8h1.8M443 180.2h1.8M454.3 204.1h1.8M438.3 209.2h1.8M447.5 200.2h1.8M459.4 197h1.8M443.9 197.2h1.8M461.2 187.6h1.8M455.1 220.8h1.8M452.3 210.7h1.8M451 205.5h1.8M459.2 203.6h1.8M454.5 205.7h1.8M449.9 188h1.8M448.7 202.5h1.8M448.8 197.5h1.8M438.9 200.2h1.8M439.3 204.2h1.8M463.7 204.8h1.8M449.9 201h1.8M440.7 186.5h1.8M449 188.5h1.8M447.9 220.6h1.8M456.7 198.9h1.8M446.2 190h1.8M458.7 206.9h1.8M458.9 199.2h1.8M484.7 183.5h1.8M443.3 201.5h1.8M455.8 206.4h1.8M464.1 197.1h1.8M458.3 193.8h1.8M473.1 207.6h1.8M456.4 201.5h1.8M462.9 198.5h1.8M460 193.9h1.8M449 189.2h1.8M459.3 193.5h1.8M452.1 198.1h1.8M451.4 212.5h1.8M479.2 210.4h1.8M471.4 220.8h1.8M483.9 213.2h1.8M475.5 198.2h1.8M476.1 221.3h1.8M479.4 214.1h1.8M475.8 224.4h1.8M477.9 213.9h1.8M476.4 200.8h1.8M474.3 217.7h1.8M474.2 202.8h1.8M473.3 233.5h1.8M476.2 205.7h1.8M476.1 216.5h1.8M476.1 206.8h1.8M476.5 188.9h1.8M473.4 220.7h1.8M478.4 200.4h1.8M477.7 223.2h1.8M479.3 205.3h1.8M477.9 221.4h1.8M474.3 205h1.8M481.5 209.1h1.8M475.6 221.3h1.8M483.1 200.5h1.8M486.5 204.9h1.8M480.8 231.3h1.8M477.5 226.3h1.8M474.5 234.1h1.8M483.3 199.6h1.8M482.2 210.7h1.8M474 217.4h1.8M484.5 207.5h1.8M478.3 221.7h1.8M484.1 200.6h1.8M476.4 205.8h1.8M467.5 222.9h1.8M477.2 205.9h1.8M482.2 192.6h1.8M484 187.3h1.8M477.5 210h1.8M480.8 203.2h1.8M469.7 217.3h1.8M473.9 231.8h1.8M478.7 212.5h1.8M479.3 223.7h1.8M485.2 188.4h1.8M473 202.5h1.8M479.7 213.9h1.8M473.7 218.6h1.8M474.1 211.4h1.8M477.5 191.8h1.8M483.5 215.5h1.8M475.1 227.8h1.8M477.2 212h1.8M474 222.1h1.8M478.5 196.4h1.8M478.2 193.1h1.8M472.7 208h1.8M481.2 201.3h1.8M470.3 219.8h1.8M479.9 218.2h1.8M479.4 226h1.8M473.1 202.4h1.8M488.1 214.3h1.8M474.9 229h1.8M481.1 192.2h1.8M474 201.9h1.8M478.5 205.7h1.8M477.9 198.2h1.8M482.7 226.1h1.8M473.3 227.6h1.8M483 208.3h1.8M478.3 212h1.8M482.2 206.2h1.8M479.3 206.5h1.8M485.6 201.3h1.8M475.4 223.7h1.8M484.5 210.2h1.8M469.3 239.7h1.8M479.8 219.2h1.8M487.5 201.5h1.8M473.9 217.7h1.8M474.9 212.9h1.8M485.8 210.7h1.8M470.8 220.4h1.8M480.6 207.3h1.8M482.2 211.9h1.8M484.2 194.4h1.8M478.9 210.7h1.8M479.9 210.8h1.8M471.7 217.5h1.8M480.2 201.1h1.8M479.1 206.2h1.8M483.1 203.9h1.8M471.8 216.2h1.8M480.8 207.2h1.8M478.4 206.5h1.8M472 220.6h1.8M479.5 205.2h1.8M479.9 213.3h1.8M472.2 216.6h1.8M478.9 219.1h1.8M486 206.7h1.8M475.5 216.2h1.8M475.2 203.9h1.8M481 210.1h1.8M477.8 223.5h1.8M483.2 213.2h1.8M471.4 237.4h1.8M479.3 208.3h1.8M482.2 217h1.8M478.9 209.8h1.8M479.9 187.6h1.8M476.3 231.2h1.8M476.3 211.9h1.8M484.5 207h1.8M472.7 220.8h1.8M475 201.2h1.8M482.4 217.4h1.8M478 203.3h1.8M476.4 216.5h1.8M484 213.8h1.8M480.4 225.8h1.8M479 222h1.8M480.1 205.1h1.8M476.4 210.2h1.8M479.4 215.4h1.8M478.8 212h1.8M477.4 185.2h1.8M484.3 202.9h1.8M479 214.9h1.8M480.4 175.4h1.8M472.8 217.9h1.8M480.5 199h1.8M476.5 218.8h1.8M484.6 189.3h1.8M482.4 210.8h1.8M481.7 190h1.8M477.9 218.8h1.8M479.5 208.1h1.8M479.5 216.8h1.8M479.5 214.3h1.8M469.5 223.7h1.8M482.6 195.5h1.8M478 203.4h1.8M467.1 241.2h1.8M481.6 199.8h1.8M478.6 205.3h1.8M483.1 212.1h1.8M469.9 237.6h1.8M475.9 205.4h1.8M479.9 218.2h1.8M471.9 225.2h1.8M480.2 181.3h1.8M484.8 196.2h1.8M475.8 208.7h1.8M486.2 214.7h1.8M476.3 218.6h1.8M488 188.5h1.8M490.2 149.7h1.8M496.9 154.7h1.8M486.3 154.9h1.8M494 131.3h1.8M491.4 155.2h1.8M489.3 146.6h1.8M488.2 147.1h1.8M496.2 140.1h1.8M487.1 160.4h1.8M483.2 165.4h1.8M486.8 143.5h1.8M485 139.4h1.8M485.4 164.6h1.8M484.5 157h1.8M476 160.6h1.8M492.9 124h1.8M492.9 137.6h1.8M486.4 151.2h1.8M493.6 141.3h1.8M496.3 138.3h1.8M479.2 161.6h1.8M493.8 136.8h1.8M491.4 137.3h1.8M492.7 153.7h1.8M491.3 140.4h1.8M491 157.4h1.8M490 146.1h1.8M483.4 138.3h1.8M488.8 141.9h1.8M486.8 124.5h1.8M487.2 185.1h1.8M495.9 140.3h1.8M492.7 141h1.8M483.6 148.6h1.8M482.5 145h1.8M487 156.9h1.8M487.3 173.8h1.8M484.1 165.4h1.8M491.1 168h1.8M484.5 147.6h1.8M486.8 143.9h1.8M491.8 150.8h1.8M485.3 166.2h1.8M494.1 134.9h1.8M484.6 164.9h1.8M481.6 187.9h1.8M484.2 185.2h1.8M483.7 175.7h1.8M487.7 188.4h1.8M483.2 192.1h1.8M486.7 168.3h1.8M486.5 190.6h1.8M487.8 171h1.8M481.4 173.4h1.8M488.5 185.5h1.8M491.2 186.6h1.8M482 181.5h1.8M481.1 186.9h1.8M491.5 173h1.8M484.4 173.1h1.8M488.1 182.7h1.8M483.9 182.2h1.8M490.4 177.1h1.8M477.1 179.1h1.8M481.3 188.3h1.8M477.3 196.1h1.8M479.7 176.2h1.8M490.5 164.6h1.8M483.8 188.1h1.8M483.3 193.6h1.8M488.5 175.1h1.8M481.5 188.9h1.8M481.5 182.1h1.8" stroke="#606060" stroke-opacity="0.5" stroke-width="1.8" fill="none"/>
</g>
<path d="M465.5 110.4V241.9M385.4 173H508.2" stroke="#828282" stroke-width="1.8" fill="none"/>
<rect x="385.4" y="110.4" width="122.80000000000001" height="131.5" fill="none" stroke="#111" stroke-width="1.9"/>
<path d="M385.4 241.9v5.5M406.9 241.9v3.2M401.5 241.9v3.2M397.6 241.9v3.2M394.6 241.9v3.2M392.2 241.9v3.2M390.2 241.9v3.2M388.4 241.9v3.2M386.8 241.9v3.2M416.1 241.9v5.5M437.6 241.9v3.2M432.2 241.9v3.2M428.3 241.9v3.2M425.3 241.9v3.2M422.9 241.9v3.2M420.9 241.9v3.2M419.1 241.9v3.2M417.5 241.9v3.2M446.8 241.9v5.5M468.3 241.9v3.2M462.9 241.9v3.2M459 241.9v3.2M456 241.9v3.2M453.6 241.9v3.2M451.6 241.9v3.2M449.8 241.9v3.2M448.2 241.9v3.2M477.5 241.9v5.5M499 241.9v3.2M493.6 241.9v3.2M489.7 241.9v3.2M486.7 241.9v3.2M484.3 241.9v3.2M482.3 241.9v3.2M480.5 241.9v3.2M478.9 241.9v3.2M508.2 241.9v5.5" stroke="#222" stroke-width="1" fill="none"/>
<text transform="translate(375 263.7) scale(1 1.09)" font-size="15.7">10<tspan dy="-5.4" dx="-0.3" font-size="9.8">0</tspan></text>
<text transform="translate(405.5 263.7) scale(1 1.09)" font-size="15.7">10<tspan dy="-5.4" dx="-0.3" font-size="9.8">1</tspan></text>
<text transform="translate(435.7 263.7) scale(1 1.09)" font-size="15.7">10<tspan dy="-5.4" dx="-0.3" font-size="9.8">2</tspan></text>
<text transform="translate(468 263.7) scale(1 1.16)" font-size="14.8">11<tspan dy="-5.4" dx="-0.3" font-size="9.8">3</tspan></text>
<text transform="translate(498.5 263.7) scale(1 1.16)" font-size="14.8">11<tspan dy="-5.4" dx="-0.3" font-size="9.8">4</tspan></text>
<text class="sans" x="1.4" y="364" font-size="25">B</text>
<path d="M81.8 534.9H380.5" stroke="#1a1a1a" stroke-width="1.45" stroke-dasharray="4.4 4.53" stroke-dashoffset="0.9" fill="none"/>
<path d="M81.8 489.6H380.5" stroke="#1a1a1a" stroke-width="1.45" stroke-dasharray="4.4 4.53" stroke-dashoffset="0.9" fill="none"/>
<path d="M81.8 465H380.5" stroke="#1a1a1a" stroke-width="1.45" stroke-dasharray="4.4 4.53" stroke-dashoffset="0.9" fill="none"/>
<path d="M81.8 444.3H380.5" stroke="#1a1a1a" stroke-width="1.45" stroke-dasharray="4.4 4.53" stroke-dashoffset="0.9" fill="none"/>
<path d="M81.8 421.4H380.5" stroke="#1a1a1a" stroke-width="1.45" stroke-dasharray="4.4 4.53" stroke-dashoffset="0.9" fill="none"/>
<path d="M81.8 399.8H380.5" stroke="#1a1a1a" stroke-width="1.45" stroke-dasharray="4.4 4.53" stroke-dashoffset="0.9" fill="none"/>
<path d="M81.8 376.9H380.5" stroke="#1a1a1a" stroke-width="1.45" stroke-dasharray="4.4 4.53" stroke-dashoffset="0.9" fill="none"/>
<rect x="262.3" y="382" width="70.7" height="33" fill="#fff"/>
<path d="M81.8 512.6H380.5" stroke="#000" stroke-width="2.6" fill="none"/>
<defs><pattern id="dots" width="2" height="2" patternUnits="userSpaceOnUse"><rect width="2" height="2" fill="#e1e1e1"/><rect width="1" height="1" fill="#d6d6d6"/></pattern></defs>
<rect x="93.8" y="494.2" width="17.7" height="62.4" fill="#000"/>
<rect x="111.5" y="399.8" width="17.7" height="156.8" fill="url(#dots)" stroke="#000" stroke-width="1.2"/>
<rect x="151.8" y="443.5" width="17.7" height="113.1" fill="#000"/>
<rect x="169.5" y="439.7" width="17.7" height="116.9" fill="url(#dots)" stroke="#000" stroke-width="1.2"/>
<rect x="211" y="497.9" width="17.7" height="58.7" fill="#000"/>
<rect x="228.7" y="412.8" width="17.7" height="143.8" fill="url(#dots)" stroke="#000" stroke-width="1.2"/>
<rect x="270" y="462.1" width="17.7" height="94.5" fill="#000"/>
<rect x="287.7" y="452.6" width="17.7" height="104" fill="url(#dots)" stroke="#000" stroke-width="1.2"/>
<rect x="329.1" y="526" width="17.7" height="30.6" fill="#000"/>
<rect x="346.8" y="389.3" width="17.7" height="167.3" fill="url(#dots)" stroke="#000" stroke-width="1.2"/>
<path d="M81.8 376.1V556.6H380.5" stroke="#1a1a1a" stroke-width="1.4" fill="none"/>
<path d="M141.3 556.6v-5.5M201.8 556.6v-5.5M261.5 556.6v-5.5M321.9 556.6v-5.5" stroke="#000" stroke-width="1.2" fill="none"/>
<text x="75.4" y="560.8" font-size="16.6" text-anchor="end">0</text>
<text x="75.4" y="538.8" font-size="16.6" text-anchor="end">0.5</text>
<text x="75.4" y="516.5" font-size="16.6" text-anchor="end">1</text>
<text x="75.4" y="493.5" font-size="16.6" text-anchor="end">1.5</text>
<text x="75.4" y="468.9" font-size="16.6" text-anchor="end">2</text>
<text x="75.4" y="448.2" font-size="16.6" text-anchor="end">2.5</text>
<text x="75.4" y="425.3" font-size="16.6" text-anchor="end">3</text>
<text x="75.4" y="403.7" font-size="16.6" text-anchor="end">3.5</text>
<text x="75.4" y="380.8" font-size="16.6" text-anchor="end">4</text>
<text x="113.2" y="576.5" font-size="16.5" text-anchor="middle">2</text>
<text x="171.2" y="576.5" font-size="16.5" text-anchor="middle">3</text>
<text x="229.8" y="576.5" font-size="16.5" text-anchor="middle">4</text>
<text x="287.9" y="576.5" font-size="16.5" text-anchor="middle">8</text>
<text x="346.4" y="576.5" font-size="16.5" text-anchor="middle">9</text>
<text x="171.3" y="601.6" font-size="20.4">Patient number</text>
<text transform="translate(17.4 521) rotate(-90)" font-size="20.15">Fold difference</text>
<text transform="translate(41.3 561) rotate(-90)" font-size="19.75">(relative to controls; %)</text>
<rect x="270.8" y="385.6" width="10.6" height="9.4" fill="#000"/>
<rect x="271.5" y="402.2" width="9.4" height="8" fill="url(#dots)" stroke="#000" stroke-width="1.4"/>
<text x="285.5" y="394.6" font-size="13" stroke="#000" stroke-width="0.25">anti-Fas</text>
<text x="285.5" y="410.7" font-size="13" stroke="#000" stroke-width="0.25">basal</text>
</svg></body></html>
